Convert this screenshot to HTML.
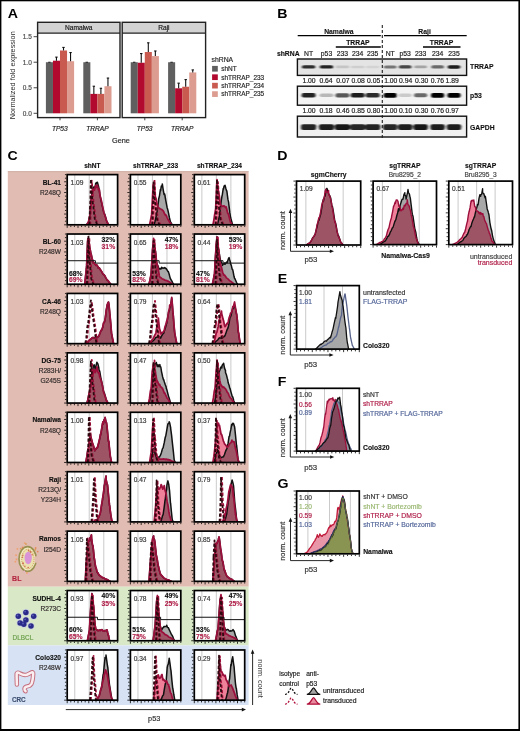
<!DOCTYPE html>
<html><head><meta charset="utf-8"><title>Figure</title>
<style>
html,body{margin:0;padding:0;background:#fff;width:520px;height:731px;overflow:hidden;}
svg{display:block;font-family:"Liberation Sans", sans-serif;will-change:transform;}
</style></head><body>
<svg width="520" height="731" viewBox="0 0 520 731" font-family='"Liberation Sans", sans-serif'><rect x="0" y="0" width="520" height="731" fill="#fff"/>
<text transform="translate(7.80,17.90) scale(1.18,1)" font-size="12" font-weight="bold" fill="#000">A</text>
<text transform="translate(14.9,75.3) rotate(-90)" font-size="7.3" text-anchor="middle" fill="#2a2a2a">Normalized fold expression</text>
<text x="31.80" y="115.64" font-size="6.5" font-weight="normal" text-anchor="end" fill="#4d4d4d" font-style="normal" stroke="#4d4d4d" stroke-width="0.18" >0.0</text>
<line x1="33.60" y1="113.30" x2="37.20" y2="113.30" stroke="#333" stroke-width="0.9" />
<text x="31.80" y="90.11" font-size="6.5" font-weight="normal" text-anchor="end" fill="#4d4d4d" font-style="normal" stroke="#4d4d4d" stroke-width="0.18" >0.5</text>
<line x1="33.60" y1="87.77" x2="37.20" y2="87.77" stroke="#333" stroke-width="0.9" />
<text x="31.80" y="64.57" font-size="6.5" font-weight="normal" text-anchor="end" fill="#4d4d4d" font-style="normal" stroke="#4d4d4d" stroke-width="0.18" >1.0</text>
<line x1="33.60" y1="62.23" x2="37.20" y2="62.23" stroke="#333" stroke-width="0.9" />
<text x="31.80" y="39.03" font-size="6.5" font-weight="normal" text-anchor="end" fill="#4d4d4d" font-style="normal" stroke="#4d4d4d" stroke-width="0.18" >1.5</text>
<line x1="33.60" y1="36.69" x2="37.20" y2="36.69" stroke="#333" stroke-width="0.9" />
<rect x="37.60" y="22.30" width="82.40" height="95.30" fill="#fff" stroke="none" stroke-width="1" />
<rect x="37.60" y="22.30" width="82.40" height="10.80" fill="#d3d3d3" stroke="none" stroke-width="1" />
<line x1="37.60" y1="33.10" x2="120.00" y2="33.10" stroke="#222" stroke-width="1.3" />
<text x="78.80" y="30.18" font-size="6.6" font-weight="normal" text-anchor="middle" fill="#1a1a1a" font-style="normal" stroke="#1a1a1a" stroke-width="0.18" >Namalwa</text>
<rect x="45.90" y="62.23" width="7.05" height="51.07" fill="#5f5f5f" stroke="none" stroke-width="1" />
<line x1="48.20" y1="62.23" x2="50.60" y2="62.23" stroke="#111" stroke-width="0.9" />
<rect x="52.95" y="60.70" width="7.05" height="52.60" fill="#b10a2e" stroke="none" stroke-width="1" />
<line x1="56.45" y1="60.70" x2="56.45" y2="57.12" stroke="#111" stroke-width="1.1" />
<line x1="55.25" y1="57.12" x2="57.65" y2="57.12" stroke="#111" stroke-width="1.1" />
<rect x="60.00" y="50.48" width="7.05" height="62.82" fill="#c85a50" stroke="none" stroke-width="1" />
<line x1="63.50" y1="50.48" x2="63.50" y2="47.42" stroke="#111" stroke-width="1.1" />
<line x1="62.30" y1="47.42" x2="64.70" y2="47.42" stroke="#111" stroke-width="1.1" />
<rect x="67.05" y="61.21" width="7.05" height="52.09" fill="#dc9c90" stroke="none" stroke-width="1" />
<line x1="70.55" y1="61.21" x2="70.55" y2="52.53" stroke="#111" stroke-width="1.1" />
<line x1="69.35" y1="52.53" x2="71.75" y2="52.53" stroke="#111" stroke-width="1.1" />
<line x1="60.00" y1="117.60" x2="60.00" y2="120.30" stroke="#333" stroke-width="0.9" />
<rect x="83.30" y="62.23" width="7.05" height="51.07" fill="#5f5f5f" stroke="none" stroke-width="1" />
<line x1="85.60" y1="62.23" x2="88.00" y2="62.23" stroke="#111" stroke-width="0.9" />
<rect x="90.35" y="93.89" width="7.05" height="19.41" fill="#b10a2e" stroke="none" stroke-width="1" />
<line x1="93.85" y1="93.89" x2="93.85" y2="86.23" stroke="#111" stroke-width="1.1" />
<line x1="92.65" y1="86.23" x2="95.05" y2="86.23" stroke="#111" stroke-width="1.1" />
<rect x="97.40" y="93.89" width="7.05" height="19.41" fill="#c85a50" stroke="none" stroke-width="1" />
<line x1="100.90" y1="93.89" x2="100.90" y2="88.28" stroke="#111" stroke-width="1.1" />
<line x1="99.70" y1="88.28" x2="102.10" y2="88.28" stroke="#111" stroke-width="1.1" />
<rect x="104.45" y="86.23" width="7.05" height="27.07" fill="#dc9c90" stroke="none" stroke-width="1" />
<line x1="107.95" y1="86.23" x2="107.95" y2="78.06" stroke="#111" stroke-width="1.1" />
<line x1="106.75" y1="78.06" x2="109.15" y2="78.06" stroke="#111" stroke-width="1.1" />
<line x1="97.40" y1="117.60" x2="97.40" y2="120.30" stroke="#333" stroke-width="0.9" />
<rect x="37.60" y="22.30" width="82.40" height="95.30" fill="none" stroke="#222" stroke-width="1.4" />
<text x="59.80" y="130.98" font-size="6.6" font-weight="normal" text-anchor="middle" fill="#222" font-style="italic" stroke="#222" stroke-width="0.18" >TP53</text>
<text x="97.40" y="130.98" font-size="6.6" font-weight="normal" text-anchor="middle" fill="#222" font-style="italic" stroke="#222" stroke-width="0.18" >TRRAP</text>
<rect x="122.20" y="22.30" width="83.40" height="95.30" fill="#fff" stroke="none" stroke-width="1" />
<rect x="122.20" y="22.30" width="83.40" height="10.80" fill="#d3d3d3" stroke="none" stroke-width="1" />
<line x1="122.20" y1="33.10" x2="205.60" y2="33.10" stroke="#222" stroke-width="1.3" />
<text x="163.90" y="30.18" font-size="6.6" font-weight="normal" text-anchor="middle" fill="#1a1a1a" font-style="normal" stroke="#1a1a1a" stroke-width="0.18" >Raji</text>
<rect x="130.70" y="62.23" width="7.05" height="51.07" fill="#5f5f5f" stroke="none" stroke-width="1" />
<line x1="133.00" y1="62.23" x2="135.40" y2="62.23" stroke="#111" stroke-width="0.9" />
<rect x="137.75" y="62.74" width="7.05" height="50.56" fill="#b10a2e" stroke="none" stroke-width="1" />
<line x1="141.25" y1="62.74" x2="141.25" y2="53.55" stroke="#111" stroke-width="1.1" />
<line x1="140.05" y1="53.55" x2="142.45" y2="53.55" stroke="#111" stroke-width="1.1" />
<rect x="144.80" y="52.02" width="7.05" height="61.28" fill="#c85a50" stroke="none" stroke-width="1" />
<line x1="148.30" y1="52.02" x2="148.30" y2="42.82" stroke="#111" stroke-width="1.1" />
<line x1="147.10" y1="42.82" x2="149.50" y2="42.82" stroke="#111" stroke-width="1.1" />
<rect x="151.85" y="56.10" width="7.05" height="57.20" fill="#dc9c90" stroke="none" stroke-width="1" />
<line x1="155.35" y1="56.10" x2="155.35" y2="50.99" stroke="#111" stroke-width="1.1" />
<line x1="154.15" y1="50.99" x2="156.55" y2="50.99" stroke="#111" stroke-width="1.1" />
<line x1="144.80" y1="117.60" x2="144.80" y2="120.30" stroke="#333" stroke-width="0.9" />
<rect x="168.10" y="62.23" width="7.05" height="51.07" fill="#5f5f5f" stroke="none" stroke-width="1" />
<line x1="170.40" y1="62.23" x2="172.80" y2="62.23" stroke="#111" stroke-width="0.9" />
<rect x="175.15" y="88.28" width="7.05" height="25.02" fill="#b10a2e" stroke="none" stroke-width="1" />
<line x1="178.65" y1="88.28" x2="178.65" y2="83.17" stroke="#111" stroke-width="1.1" />
<line x1="177.45" y1="83.17" x2="179.85" y2="83.17" stroke="#111" stroke-width="1.1" />
<rect x="182.20" y="86.74" width="7.05" height="26.56" fill="#c85a50" stroke="none" stroke-width="1" />
<line x1="185.70" y1="86.74" x2="185.70" y2="79.59" stroke="#111" stroke-width="1.1" />
<line x1="184.50" y1="79.59" x2="186.90" y2="79.59" stroke="#111" stroke-width="1.1" />
<rect x="189.25" y="72.44" width="7.05" height="40.86" fill="#dc9c90" stroke="none" stroke-width="1" />
<line x1="192.75" y1="72.44" x2="192.75" y2="69.89" stroke="#111" stroke-width="1.1" />
<line x1="191.55" y1="69.89" x2="193.95" y2="69.89" stroke="#111" stroke-width="1.1" />
<line x1="182.20" y1="117.60" x2="182.20" y2="120.30" stroke="#333" stroke-width="0.9" />
<rect x="122.20" y="22.30" width="83.40" height="95.30" fill="none" stroke="#222" stroke-width="1.4" />
<text x="144.60" y="130.98" font-size="6.6" font-weight="normal" text-anchor="middle" fill="#222" font-style="italic" stroke="#222" stroke-width="0.18" >TP53</text>
<text x="182.20" y="130.98" font-size="6.6" font-weight="normal" text-anchor="middle" fill="#222" font-style="italic" stroke="#222" stroke-width="0.18" >TRRAP</text>
<text x="120.90" y="142.93" font-size="7.3" font-weight="normal" text-anchor="middle" fill="#2a2a2a" font-style="normal" stroke="#2a2a2a" stroke-width="0.18" >Gene</text>
<text x="211.60" y="61.85" font-size="6.8" font-weight="normal" text-anchor="start" fill="#2a2a2a" font-style="normal" stroke="#2a2a2a" stroke-width="0.18" >shRNA</text>
<rect x="212.10" y="65.90" width="5.70" height="5.70" fill="#5f5f5f" stroke="none" stroke-width="1" />
<text x="221.20" y="71.07" font-size="6.45" font-weight="normal" text-anchor="start" fill="#2a2a2a" font-style="normal" stroke="#2a2a2a" stroke-width="0.18" >shNT</text>
<rect x="212.10" y="74.35" width="5.70" height="5.70" fill="#b10a2e" stroke="none" stroke-width="1" />
<text x="221.20" y="79.52" font-size="6.45" font-weight="normal" text-anchor="start" fill="#2a2a2a" font-style="normal" stroke="#2a2a2a" stroke-width="0.18" >shTRRAP_233</text>
<rect x="212.10" y="82.80" width="5.70" height="5.70" fill="#c85a50" stroke="none" stroke-width="1" />
<text x="221.20" y="87.97" font-size="6.45" font-weight="normal" text-anchor="start" fill="#2a2a2a" font-style="normal" stroke="#2a2a2a" stroke-width="0.18" >shTRRAP_234</text>
<rect x="212.10" y="91.25" width="5.70" height="5.70" fill="#dc9c90" stroke="none" stroke-width="1" />
<text x="221.20" y="96.42" font-size="6.45" font-weight="normal" text-anchor="start" fill="#2a2a2a" font-style="normal" stroke="#2a2a2a" stroke-width="0.18" >shTRRAP_235</text>
<text transform="translate(277.20,18.20) scale(1.18,1)" font-size="12" font-weight="bold" fill="#000">B</text>
<text x="338.90" y="34.35" font-size="6.8" font-weight="bold" text-anchor="middle" fill="#111" font-style="normal" stroke="#111" stroke-width="0.12" >Namalwa</text>
<text x="424.60" y="34.35" font-size="6.8" font-weight="bold" text-anchor="middle" fill="#111" font-style="normal" stroke="#111" stroke-width="0.12" >Raji</text>
<line x1="297.70" y1="35.60" x2="380.80" y2="35.60" stroke="#000" stroke-width="1.1" />
<line x1="384.00" y1="35.60" x2="466.70" y2="35.60" stroke="#000" stroke-width="1.1" />
<text x="357.90" y="44.75" font-size="6.8" font-weight="bold" text-anchor="middle" fill="#111" font-style="normal" stroke="#111" stroke-width="0.12" >TRRAP</text>
<text x="441.50" y="44.75" font-size="6.8" font-weight="bold" text-anchor="middle" fill="#111" font-style="normal" stroke="#111" stroke-width="0.12" >TRRAP</text>
<line x1="335.80" y1="47.00" x2="380.80" y2="47.00" stroke="#000" stroke-width="1.4" />
<line x1="423.00" y1="47.00" x2="460.50" y2="47.00" stroke="#000" stroke-width="1.4" />
<text x="276.90" y="55.65" font-size="6.8" font-weight="bold" text-anchor="start" fill="#111" font-style="normal" stroke="#111" stroke-width="0.12" >shRNA</text>
<text x="308.60" y="55.75" font-size="6.8" font-weight="normal" text-anchor="middle" fill="#222" font-style="normal" stroke="#222" stroke-width="0.18" >NT</text>
<text x="326.50" y="55.75" font-size="6.8" font-weight="normal" text-anchor="middle" fill="#222" font-style="normal" stroke="#222" stroke-width="0.18" >p53</text>
<text x="342.40" y="55.75" font-size="6.8" font-weight="normal" text-anchor="middle" fill="#222" font-style="normal" stroke="#222" stroke-width="0.18" >233</text>
<text x="357.70" y="55.75" font-size="6.8" font-weight="normal" text-anchor="middle" fill="#222" font-style="normal" stroke="#222" stroke-width="0.18" >234</text>
<text x="372.70" y="55.75" font-size="6.8" font-weight="normal" text-anchor="middle" fill="#222" font-style="normal" stroke="#222" stroke-width="0.18" >235</text>
<text x="390.20" y="55.75" font-size="6.8" font-weight="normal" text-anchor="middle" fill="#222" font-style="normal" stroke="#222" stroke-width="0.18" >NT</text>
<text x="405.20" y="55.75" font-size="6.8" font-weight="normal" text-anchor="middle" fill="#222" font-style="normal" stroke="#222" stroke-width="0.18" >p53</text>
<text x="420.60" y="55.75" font-size="6.8" font-weight="normal" text-anchor="middle" fill="#222" font-style="normal" stroke="#222" stroke-width="0.18" >233</text>
<text x="437.60" y="55.75" font-size="6.8" font-weight="normal" text-anchor="middle" fill="#222" font-style="normal" stroke="#222" stroke-width="0.18" >234</text>
<text x="454.00" y="55.75" font-size="6.8" font-weight="normal" text-anchor="middle" fill="#222" font-style="normal" stroke="#222" stroke-width="0.18" >235</text>
<defs><filter id="blur1" x="-20%" y="-150%" width="140%" height="400%"><feGaussianBlur stdDeviation="0.9 0.7"/></filter></defs>
<rect x="297.40" y="59.00" width="169.20" height="16.40" fill="#e4e4e4" stroke="none" stroke-width="1" />
<g filter="url(#blur1)"><rect x="301.80" y="65.22" width="13.60" height="3.36" rx="2" fill="rgb(46,46,46)"/><rect x="319.70" y="65.19" width="13.60" height="3.42" rx="2" fill="rgb(35,35,35)"/><rect x="335.60" y="65.60" width="13.60" height="2.59" rx="2" fill="rgb(197,197,197)"/><rect x="350.90" y="65.63" width="13.60" height="2.54" rx="2" fill="rgb(206,206,206)"/><rect x="365.90" y="65.64" width="13.60" height="2.52" rx="2" fill="rgb(211,211,211)"/><rect x="383.80" y="65.40" width="12.80" height="3.00" rx="2" fill="rgb(117,117,117)"/><rect x="398.80" y="65.28" width="12.80" height="3.24" rx="2" fill="rgb(70,70,70)"/><rect x="414.20" y="65.52" width="12.80" height="2.76" rx="2" fill="rgb(164,164,164)"/><rect x="431.20" y="65.37" width="12.80" height="3.06" rx="2" fill="rgb(105,105,105)"/><rect x="447.60" y="65.17" width="12.80" height="3.46" rx="2" fill="rgb(28,28,28)"/></g>
<rect x="297.40" y="59.00" width="169.20" height="16.40" fill="none" stroke="#111" stroke-width="1.4" />
<text x="470.00" y="69.35" font-size="6.8" font-weight="bold" text-anchor="start" fill="#111" font-style="normal" stroke="#111" stroke-width="0.12" >TRRAP</text>
<rect x="297.40" y="86.20" width="169.20" height="19.00" fill="#f3f3f3" stroke="none" stroke-width="1" />
<g filter="url(#blur1)"><rect x="301.60" y="93.02" width="14.00" height="4.56" rx="2" fill="rgb(35,35,35)"/><rect x="319.50" y="93.52" width="14.00" height="3.55" rx="2" fill="rgb(183,183,183)"/><rect x="335.40" y="93.20" width="14.00" height="4.19" rx="2" fill="rgb(89,89,89)"/><rect x="350.70" y="93.00" width="14.00" height="4.61" rx="2" fill="rgb(28,28,28)"/><rect x="365.70" y="93.04" width="14.00" height="4.51" rx="2" fill="rgb(42,42,42)"/><rect x="383.60" y="92.90" width="13.20" height="4.80" rx="2" fill="rgb(0,0,0)"/><rect x="398.60" y="93.59" width="13.20" height="3.42" rx="2" fill="rgb(202,202,202)"/><rect x="414.00" y="93.26" width="13.20" height="4.08" rx="2" fill="rgb(105,105,105)"/><rect x="431.00" y="92.90" width="13.20" height="4.80" rx="2" fill="rgb(0,0,0)"/><rect x="447.40" y="92.90" width="13.20" height="4.80" rx="2" fill="rgb(0,0,0)"/></g>
<rect x="297.40" y="86.20" width="169.20" height="19.00" fill="none" stroke="#111" stroke-width="1.4" />
<text x="470.00" y="97.75" font-size="6.8" font-weight="bold" text-anchor="start" fill="#111" font-style="normal" stroke="#111" stroke-width="0.12" >p53</text>
<rect x="297.40" y="116.20" width="169.20" height="20.80" fill="#f0f0f0" stroke="none" stroke-width="1" />
<g filter="url(#blur1)"><rect x="301.00" y="124.34" width="15.20" height="5.72" rx="2" fill="rgb(32,32,32)"/><rect x="318.90" y="124.32" width="15.20" height="5.76" rx="2" fill="rgb(28,28,28)"/><rect x="334.80" y="124.30" width="15.20" height="5.80" rx="2" fill="rgb(23,23,23)"/><rect x="350.10" y="124.36" width="15.20" height="5.68" rx="2" fill="rgb(37,37,37)"/><rect x="365.10" y="124.34" width="15.20" height="5.72" rx="2" fill="rgb(32,32,32)"/><rect x="383.00" y="124.36" width="14.40" height="5.68" rx="2" fill="rgb(37,37,37)"/><rect x="398.00" y="124.32" width="14.40" height="5.76" rx="2" fill="rgb(28,28,28)"/><rect x="413.40" y="124.30" width="14.40" height="5.80" rx="2" fill="rgb(23,23,23)"/><rect x="430.40" y="124.32" width="14.40" height="5.76" rx="2" fill="rgb(28,28,28)"/><rect x="446.80" y="124.32" width="14.40" height="5.76" rx="2" fill="rgb(28,28,28)"/></g>
<rect x="297.40" y="116.20" width="169.20" height="20.80" fill="none" stroke="#111" stroke-width="1.4" />
<text x="470.00" y="129.65" font-size="6.8" font-weight="bold" text-anchor="start" fill="#111" font-style="normal" stroke="#111" stroke-width="0.12" >GAPDH</text>
<text x="309.00" y="83.25" font-size="6.8" font-weight="normal" text-anchor="middle" fill="#222" font-style="normal" stroke="#222" stroke-width="0.18" >1.00</text>
<text x="326.00" y="83.25" font-size="6.8" font-weight="normal" text-anchor="middle" fill="#222" font-style="normal" stroke="#222" stroke-width="0.18" >0.64</text>
<text x="342.90" y="83.25" font-size="6.8" font-weight="normal" text-anchor="middle" fill="#222" font-style="normal" stroke="#222" stroke-width="0.18" >0.07</text>
<text x="358.10" y="83.25" font-size="6.8" font-weight="normal" text-anchor="middle" fill="#222" font-style="normal" stroke="#222" stroke-width="0.18" >0.08</text>
<text x="373.60" y="83.25" font-size="6.8" font-weight="normal" text-anchor="middle" fill="#222" font-style="normal" stroke="#222" stroke-width="0.18" >0.05</text>
<text x="390.80" y="83.25" font-size="6.8" font-weight="normal" text-anchor="middle" fill="#222" font-style="normal" stroke="#222" stroke-width="0.18" >1.00</text>
<text x="405.60" y="83.25" font-size="6.8" font-weight="normal" text-anchor="middle" fill="#222" font-style="normal" stroke="#222" stroke-width="0.18" >0.94</text>
<text x="421.70" y="83.25" font-size="6.8" font-weight="normal" text-anchor="middle" fill="#222" font-style="normal" stroke="#222" stroke-width="0.18" >0.30</text>
<text x="437.40" y="83.25" font-size="6.8" font-weight="normal" text-anchor="middle" fill="#222" font-style="normal" stroke="#222" stroke-width="0.18" >0.76</text>
<text x="452.20" y="83.25" font-size="6.8" font-weight="normal" text-anchor="middle" fill="#222" font-style="normal" stroke="#222" stroke-width="0.18" >1.89</text>
<text x="309.00" y="112.85" font-size="6.8" font-weight="normal" text-anchor="middle" fill="#222" font-style="normal" stroke="#222" stroke-width="0.18" >1.00</text>
<text x="326.00" y="112.85" font-size="6.8" font-weight="normal" text-anchor="middle" fill="#222" font-style="normal" stroke="#222" stroke-width="0.18" >0.18</text>
<text x="342.90" y="112.85" font-size="6.8" font-weight="normal" text-anchor="middle" fill="#222" font-style="normal" stroke="#222" stroke-width="0.18" >0.46</text>
<text x="358.10" y="112.85" font-size="6.8" font-weight="normal" text-anchor="middle" fill="#222" font-style="normal" stroke="#222" stroke-width="0.18" >0.85</text>
<text x="373.60" y="112.85" font-size="6.8" font-weight="normal" text-anchor="middle" fill="#222" font-style="normal" stroke="#222" stroke-width="0.18" >0.80</text>
<text x="390.80" y="112.85" font-size="6.8" font-weight="normal" text-anchor="middle" fill="#222" font-style="normal" stroke="#222" stroke-width="0.18" >1.00</text>
<text x="405.60" y="112.85" font-size="6.8" font-weight="normal" text-anchor="middle" fill="#222" font-style="normal" stroke="#222" stroke-width="0.18" >0.10</text>
<text x="421.70" y="112.85" font-size="6.8" font-weight="normal" text-anchor="middle" fill="#222" font-style="normal" stroke="#222" stroke-width="0.18" >0.30</text>
<text x="437.40" y="112.85" font-size="6.8" font-weight="normal" text-anchor="middle" fill="#222" font-style="normal" stroke="#222" stroke-width="0.18" >0.76</text>
<text x="452.20" y="112.85" font-size="6.8" font-weight="normal" text-anchor="middle" fill="#222" font-style="normal" stroke="#222" stroke-width="0.18" >0.97</text>
<line x1="382.30" y1="25.00" x2="382.30" y2="140.00" stroke="#222" stroke-width="1.1" stroke-dasharray="3,2"/>
<text transform="translate(7.60,159.70) scale(1.18,1)" font-size="12" font-weight="bold" fill="#000">C</text>
<rect x="7.80" y="171.30" width="240.80" height="415.40" fill="#e0bcb2" stroke="none" stroke-width="1" />
<line x1="7.80" y1="171.60" x2="248.60" y2="171.60" stroke="#c9a89e" stroke-width="0.8" />
<rect x="7.80" y="586.70" width="240.80" height="58.70" fill="#d9e9c7" stroke="none" stroke-width="1" />
<rect x="7.80" y="645.40" width="240.80" height="59.60" fill="#d7e3f4" stroke="none" stroke-width="1" />
<text x="92.40" y="167.98" font-size="6.6" font-weight="bold" text-anchor="middle" fill="#111" font-style="normal" stroke="#111" stroke-width="0.12" >shNT</text>
<text x="155.60" y="167.98" font-size="6.6" font-weight="bold" text-anchor="middle" fill="#111" font-style="normal" stroke="#111" stroke-width="0.12" >shTRRAP_233</text>
<text x="219.50" y="167.98" font-size="6.6" font-weight="bold" text-anchor="middle" fill="#111" font-style="normal" stroke="#111" stroke-width="0.12" >shTRRAP_234</text>
<text x="61.00" y="184.78" font-size="6.6" font-weight="bold" text-anchor="end" fill="#111" font-style="normal" stroke="#111" stroke-width="0.12" >BL-41</text>
<text x="61.00" y="194.98" font-size="6.6" font-weight="normal" text-anchor="end" fill="#332c2c" font-style="normal" stroke="#332c2c" stroke-width="0.18" >R248Q</text>
<rect x="67.20" y="174.60" width="50.40" height="50.20" fill="#fff" stroke="none" stroke-width="1" />
<line x1="74.76" y1="174.60" x2="74.76" y2="224.80" stroke="#c4c4c4" stroke-width="0.9" />
<line x1="89.22" y1="174.60" x2="89.22" y2="224.80" stroke="#c4c4c4" stroke-width="0.9" />
<line x1="103.79" y1="174.60" x2="103.79" y2="224.80" stroke="#c4c4c4" stroke-width="0.9" />
<g style="isolation:isolate">
<path d="M86.4,224.8 86.4,224.8 87.3,223.8 88.2,222.6 88.4,222.4 89.1,218.9 89.9,215.4 90.0,214.2 91.0,200.6 91.4,197.3 91.9,193.8 92.8,189.4 92.9,188.0 93.7,187.1 94.4,188.7 94.7,187.4 95.4,185.6 95.6,183.8 96.5,182.5 96.9,183.8 97.4,182.3 98.4,186.0 98.4,185.7 99.3,190.1 100.0,195.9 100.2,195.9 101.1,200.8 102.0,204.4 102.1,205.3 103.0,208.9 103.9,212.8 104.5,213.7 104.8,214.4 105.8,217.8 106.7,221.1 107.0,221.6 107.6,222.9 108.5,224.8 108.5,224.8 Z" fill="#a8a8a8" stroke="none" stroke-width="1.0" stroke-linejoin="round"/>
<path d="M86.4,224.8 86.4,224.8 87.3,223.7 88.2,222.3 88.4,222.3 89.1,218.7 89.9,215.4 90.0,214.2 91.0,202.5 91.4,198.7 91.9,196.0 92.8,192.8 92.9,191.1 93.7,189.1 94.4,190.1 94.7,189.4 95.6,185.5 95.9,187.6 96.5,187.0 97.4,185.2 98.4,189.6 99.0,189.8 99.3,189.4 100.2,196.7 100.5,197.4 101.1,199.5 102.0,203.4 102.1,204.5 103.0,208.4 103.9,212.8 104.5,214.4 104.8,214.9 105.8,218.3 106.7,221.3 107.0,221.9 107.6,223.0 108.5,224.8 108.5,224.8 Z" fill="#ee8099" stroke="none" stroke-width="1.0" stroke-linejoin="round" style="mix-blend-mode:multiply"/>
</g>
<path d="M86.4,224.8 86.4,224.8 87.3,223.8 88.2,222.6 88.4,222.4 89.1,218.9 89.9,215.4 90.0,214.2 91.0,200.6 91.4,197.3 91.9,193.8 92.8,189.4 92.9,188.0 93.7,187.1 94.4,188.7 94.7,187.4 95.4,185.6 95.6,183.8 96.5,182.5 96.9,183.8 97.4,182.3 98.4,186.0 98.4,185.7 99.3,190.1 100.0,195.9 100.2,195.9 101.1,200.8 102.0,204.4 102.1,205.3 103.0,208.9 103.9,212.8 104.5,213.7 104.8,214.4 105.8,217.8 106.7,221.1 107.0,221.6 107.6,222.9 108.5,224.8 108.5,224.8" fill="none" stroke="#111" stroke-width="1.5" stroke-linejoin="round"/>
<path d="M86.4,224.8 86.4,224.8 87.3,223.7 88.2,222.3 88.4,222.3 89.1,218.7 89.9,215.4 90.0,214.2 91.0,202.5 91.4,198.7 91.9,196.0 92.8,192.8 92.9,191.1 93.7,189.1 94.4,190.1 94.7,189.4 95.6,185.5 95.9,187.6 96.5,187.0 97.4,185.2 98.4,189.6 99.0,189.8 99.3,189.4 100.2,196.7 100.5,197.4 101.1,199.5 102.0,203.4 102.1,204.5 103.0,208.4 103.9,212.8 104.5,214.4 104.8,214.9 105.8,218.3 106.7,221.3 107.0,221.9 107.6,223.0 108.5,224.8 108.5,224.8" fill="none" stroke="#9c0f3c" stroke-width="1.75" stroke-linejoin="round"/>
<path d="M90.3,224.8 90.3,224.8 90.9,207.8 91.3,200.6 91.6,184.9 91.8,180.7 92.3,187.8 93.0,197.3 93.3,199.6 93.6,202.8 94.3,207.6 95.0,214.2 95.7,219.0 95.8,219.7 96.3,220.7 97.0,222.1 97.7,223.7 98.3,224.8 98.3,224.8" fill="none" stroke="#a0103a" stroke-width="1.8" stroke-linejoin="round" stroke-dasharray="3.2,2.0"/>
<path d="M89.4,224.8 89.4,224.8 90.0,207.7 90.4,199.4 90.7,184.9 90.9,179.2 91.4,187.2 92.1,197.4 92.4,201.3 92.7,202.4 93.4,206.8 94.1,213.6 94.8,218.9 94.9,220.1 95.4,220.8 96.1,222.0 96.8,223.7 97.4,224.8 97.4,224.8" fill="none" stroke="#300810" stroke-width="1.8" stroke-linejoin="round" stroke-dasharray="3.2,2.0"/>
<rect x="67.20" y="174.60" width="50.40" height="50.20" fill="none" stroke="#000" stroke-width="1.7" />
<path d="M66.35,224.80 h-2.20 M66.35,221.21 h-1.40 M66.35,217.63 h-1.40 M66.35,214.04 h-2.20 M66.35,210.46 h-1.40 M66.35,206.87 h-1.40 M66.35,203.29 h-2.20 M66.35,199.70 h-1.40 M66.35,196.11 h-1.40 M66.35,192.53 h-2.20 M66.35,188.94 h-1.40 M66.35,185.36 h-1.40 M66.35,181.77 h-2.20 M66.35,178.19 h-1.40 M66.35,174.60 h-1.40 M67.20,225.65 v2.20 M70.80,225.65 v1.40 M74.40,225.65 v1.40 M78.00,225.65 v2.20 M81.60,225.65 v1.40 M85.20,225.65 v1.40 M88.80,225.65 v2.20 M92.40,225.65 v1.40 M96.00,225.65 v1.40 M99.60,225.65 v2.20 M103.20,225.65 v1.40 M106.80,225.65 v1.40 M110.40,225.65 v2.20 M114.00,225.65 v1.40 M117.60,225.65 v1.40" stroke="#000" stroke-width="0.8" fill="none"/>
<text x="70.50" y="185.18" font-size="6.6" font-weight="normal" text-anchor="start" fill="#3a3a3a" font-style="normal" stroke="#3a3a3a" stroke-width="0.18" >1.09</text>
<rect x="130.40" y="174.60" width="50.40" height="50.20" fill="#fff" stroke="none" stroke-width="1" />
<line x1="137.96" y1="174.60" x2="137.96" y2="224.80" stroke="#c4c4c4" stroke-width="0.9" />
<line x1="152.42" y1="174.60" x2="152.42" y2="224.80" stroke="#c4c4c4" stroke-width="0.9" />
<line x1="166.99" y1="174.60" x2="166.99" y2="224.80" stroke="#c4c4c4" stroke-width="0.9" />
<g style="isolation:isolate">
<path d="M154.1,224.8 154.1,224.8 155.0,221.5 155.9,217.5 156.6,214.5 156.8,213.8 157.7,207.1 158.6,200.5 158.6,199.2 159.5,195.6 160.4,189.4 160.6,190.7 161.3,186.1 162.2,186.6 162.3,183.9 163.2,189.6 164.1,194.6 164.7,194.0 165.0,196.0 165.9,201.1 166.8,205.8 167.2,208.0 167.7,209.3 168.6,213.4 169.5,218.0 170.4,221.6 170.7,222.2 171.3,223.1 172.2,224.8 172.2,224.8 Z" fill="#a8a8a8" stroke="none" stroke-width="1.0" stroke-linejoin="round"/>
<path d="M149.6,224.8 149.6,224.8 150.5,220.4 151.4,215.6 151.6,215.1 152.3,201.2 153.1,186.6 153.2,184.3 154.1,183.6 154.2,183.2 155.1,194.5 155.6,198.4 156.0,198.3 156.9,202.9 157.9,206.3 158.1,207.4 158.8,207.8 159.7,208.6 160.6,209.0 161.6,209.3 162.5,210.1 163.2,210.8 163.4,211.0 164.3,213.2 165.3,215.0 165.7,215.3 166.2,215.2 167.1,217.5 168.0,219.5 169.0,221.1 169.7,222.3 169.9,222.5 170.8,223.6 171.7,224.8 171.7,224.8 Z" fill="#ee8099" stroke="none" stroke-width="1.0" stroke-linejoin="round" style="mix-blend-mode:multiply"/>
</g>
<path d="M154.1,224.8 154.1,224.8 155.0,221.5 155.9,217.5 156.6,214.5 156.8,213.8 157.7,207.1 158.6,200.5 158.6,199.2 159.5,195.6 160.4,189.4 160.6,190.7 161.3,186.1 162.2,186.6 162.3,183.9 163.2,189.6 164.1,194.6 164.7,194.0 165.0,196.0 165.9,201.1 166.8,205.8 167.2,208.0 167.7,209.3 168.6,213.4 169.5,218.0 170.4,221.6 170.7,222.2 171.3,223.1 172.2,224.8 172.2,224.8" fill="none" stroke="#111" stroke-width="1.5" stroke-linejoin="round"/>
<path d="M149.6,224.8 149.6,224.8 150.5,220.4 151.4,215.6 151.6,215.1 152.3,201.2 153.1,186.6 153.2,184.3 154.1,183.6 154.2,183.2 155.1,194.5 155.6,198.4 156.0,198.3 156.9,202.9 157.9,206.3 158.1,207.4 158.8,207.8 159.7,208.6 160.6,209.0 161.6,209.3 162.5,210.1 163.2,210.8 163.4,211.0 164.3,213.2 165.3,215.0 165.7,215.3 166.2,215.2 167.1,217.5 168.0,219.5 169.0,221.1 169.7,222.3 169.9,222.5 170.8,223.6 171.7,224.8 171.7,224.8" fill="none" stroke="#9c0f3c" stroke-width="1.75" stroke-linejoin="round"/>
<path d="M153.0,224.8 153.0,224.8 153.6,209.1 154.0,200.2 154.2,191.4 154.5,179.8 154.9,187.1 155.5,201.3 156.1,203.9 156.8,210.5 157.4,215.6 158.0,220.1 158.6,220.9 159.3,222.5 159.9,223.7 160.5,224.8 160.5,224.8" fill="none" stroke="#a0103a" stroke-width="1.8" stroke-linejoin="round" stroke-dasharray="3.2,2.0"/>
<path d="M152.1,224.8 152.1,224.8 152.7,208.2 153.1,200.9 153.3,190.1 153.6,182.3 154.0,186.6 154.6,201.0 155.2,203.8 155.9,210.5 156.5,216.2 157.1,219.9 157.7,220.7 158.4,222.5 159.0,223.9 159.6,224.8 159.6,224.8" fill="none" stroke="#300810" stroke-width="1.8" stroke-linejoin="round" stroke-dasharray="3.2,2.0"/>
<rect x="130.40" y="174.60" width="50.40" height="50.20" fill="none" stroke="#000" stroke-width="1.7" />
<path d="M129.55,224.80 h-2.20 M129.55,221.21 h-1.40 M129.55,217.63 h-1.40 M129.55,214.04 h-2.20 M129.55,210.46 h-1.40 M129.55,206.87 h-1.40 M129.55,203.29 h-2.20 M129.55,199.70 h-1.40 M129.55,196.11 h-1.40 M129.55,192.53 h-2.20 M129.55,188.94 h-1.40 M129.55,185.36 h-1.40 M129.55,181.77 h-2.20 M129.55,178.19 h-1.40 M129.55,174.60 h-1.40 M130.40,225.65 v2.20 M134.00,225.65 v1.40 M137.60,225.65 v1.40 M141.20,225.65 v2.20 M144.80,225.65 v1.40 M148.40,225.65 v1.40 M152.00,225.65 v2.20 M155.60,225.65 v1.40 M159.20,225.65 v1.40 M162.80,225.65 v2.20 M166.40,225.65 v1.40 M170.00,225.65 v1.40 M173.60,225.65 v2.20 M177.20,225.65 v1.40 M180.80,225.65 v1.40" stroke="#000" stroke-width="0.8" fill="none"/>
<text x="133.70" y="185.18" font-size="6.6" font-weight="normal" text-anchor="start" fill="#3a3a3a" font-style="normal" stroke="#3a3a3a" stroke-width="0.18" >0.55</text>
<rect x="194.30" y="174.60" width="50.40" height="50.20" fill="#fff" stroke="none" stroke-width="1" />
<line x1="201.86" y1="174.60" x2="201.86" y2="224.80" stroke="#c4c4c4" stroke-width="0.9" />
<line x1="216.32" y1="174.60" x2="216.32" y2="224.80" stroke="#c4c4c4" stroke-width="0.9" />
<line x1="230.89" y1="174.60" x2="230.89" y2="224.80" stroke="#c4c4c4" stroke-width="0.9" />
<g style="isolation:isolate">
<path d="M217.5,224.8 217.5,224.8 218.4,220.5 219.4,215.8 219.5,215.2 220.3,209.1 221.3,200.4 222.0,195.8 222.2,195.5 223.2,188.6 223.5,188.9 224.1,186.0 225.0,185.3 226.0,188.9 226.6,190.7 226.9,191.3 227.9,199.2 228.6,202.2 228.8,204.1 229.8,212.4 230.6,217.6 230.7,217.9 231.7,221.4 232.6,224.8 232.6,224.8 Z" fill="#a8a8a8" stroke="none" stroke-width="1.0" stroke-linejoin="round"/>
<path d="M212.9,224.8 212.9,224.8 213.9,219.8 214.8,213.7 215.5,210.3 215.7,207.9 216.6,187.9 217.0,179.6 217.5,185.0 218.4,190.8 218.5,191.9 219.3,195.8 220.2,203.5 220.5,205.1 221.2,205.2 222.1,206.1 223.0,206.3 223.5,206.0 223.9,205.8 224.8,206.4 225.7,207.7 226.1,206.9 226.6,208.5 227.5,212.5 228.5,214.4 228.6,214.7 229.4,217.9 230.3,221.5 230.6,222.2 231.2,223.1 232.1,224.8 232.1,224.8 Z" fill="#ee8099" stroke="none" stroke-width="1.0" stroke-linejoin="round" style="mix-blend-mode:multiply"/>
</g>
<path d="M217.5,224.8 217.5,224.8 218.4,220.5 219.4,215.8 219.5,215.2 220.3,209.1 221.3,200.4 222.0,195.8 222.2,195.5 223.2,188.6 223.5,188.9 224.1,186.0 225.0,185.3 226.0,188.9 226.6,190.7 226.9,191.3 227.9,199.2 228.6,202.2 228.8,204.1 229.8,212.4 230.6,217.6 230.7,217.9 231.7,221.4 232.6,224.8 232.6,224.8" fill="none" stroke="#111" stroke-width="1.5" stroke-linejoin="round"/>
<path d="M212.9,224.8 212.9,224.8 213.9,219.8 214.8,213.7 215.5,210.3 215.7,207.9 216.6,187.9 217.0,179.6 217.5,185.0 218.4,190.8 218.5,191.9 219.3,195.8 220.2,203.5 220.5,205.1 221.2,205.2 222.1,206.1 223.0,206.3 223.5,206.0 223.9,205.8 224.8,206.4 225.7,207.7 226.1,206.9 226.6,208.5 227.5,212.5 228.5,214.4 228.6,214.7 229.4,217.9 230.3,221.5 230.6,222.2 231.2,223.1 232.1,224.8 232.1,224.8" fill="none" stroke="#9c0f3c" stroke-width="1.75" stroke-linejoin="round"/>
<path d="M216.4,224.8 216.4,224.8 217.0,208.3 217.4,200.9 217.6,191.5 217.9,182.0 218.3,187.0 218.9,199.9 219.5,204.3 220.1,209.6 220.8,216.0 221.4,219.9 222.0,220.8 222.7,222.5 223.3,223.9 223.9,224.8 223.9,224.8" fill="none" stroke="#a0103a" stroke-width="1.8" stroke-linejoin="round" stroke-dasharray="3.2,2.0"/>
<path d="M215.5,224.8 215.5,224.8 216.1,208.1 216.5,200.2 216.7,190.4 217.0,179.4 217.4,186.9 218.0,201.1 218.6,203.7 219.2,210.1 219.9,216.4 220.5,219.7 221.1,220.9 221.8,222.3 222.4,223.9 223.0,224.8 223.0,224.8" fill="none" stroke="#300810" stroke-width="1.8" stroke-linejoin="round" stroke-dasharray="3.2,2.0"/>
<rect x="194.30" y="174.60" width="50.40" height="50.20" fill="none" stroke="#000" stroke-width="1.7" />
<path d="M193.45,224.80 h-2.20 M193.45,221.21 h-1.40 M193.45,217.63 h-1.40 M193.45,214.04 h-2.20 M193.45,210.46 h-1.40 M193.45,206.87 h-1.40 M193.45,203.29 h-2.20 M193.45,199.70 h-1.40 M193.45,196.11 h-1.40 M193.45,192.53 h-2.20 M193.45,188.94 h-1.40 M193.45,185.36 h-1.40 M193.45,181.77 h-2.20 M193.45,178.19 h-1.40 M193.45,174.60 h-1.40 M194.30,225.65 v2.20 M197.90,225.65 v1.40 M201.50,225.65 v1.40 M205.10,225.65 v2.20 M208.70,225.65 v1.40 M212.30,225.65 v1.40 M215.90,225.65 v2.20 M219.50,225.65 v1.40 M223.10,225.65 v1.40 M226.70,225.65 v2.20 M230.30,225.65 v1.40 M233.90,225.65 v1.40 M237.50,225.65 v2.20 M241.10,225.65 v1.40 M244.70,225.65 v1.40" stroke="#000" stroke-width="0.8" fill="none"/>
<text x="197.60" y="185.18" font-size="6.6" font-weight="normal" text-anchor="start" fill="#3a3a3a" font-style="normal" stroke="#3a3a3a" stroke-width="0.18" >0.61</text>
<text x="61.00" y="244.20" font-size="6.6" font-weight="bold" text-anchor="end" fill="#111" font-style="normal" stroke="#111" stroke-width="0.12" >BL-60</text>
<text x="61.00" y="254.40" font-size="6.6" font-weight="normal" text-anchor="end" fill="#332c2c" font-style="normal" stroke="#332c2c" stroke-width="0.18" >R248W</text>
<rect x="67.20" y="234.02" width="50.40" height="50.20" fill="#fff" stroke="none" stroke-width="1" />
<line x1="74.76" y1="234.02" x2="74.76" y2="284.22" stroke="#c4c4c4" stroke-width="0.9" />
<line x1="89.22" y1="234.02" x2="89.22" y2="284.22" stroke="#c4c4c4" stroke-width="0.9" />
<line x1="103.79" y1="234.02" x2="103.79" y2="284.22" stroke="#c4c4c4" stroke-width="0.9" />
<g style="isolation:isolate">
<path d="M84.8,284.2 84.8,284.2 85.7,274.8 86.4,268.7 86.6,265.9 87.6,241.9 87.9,238.7 88.5,241.9 88.9,243.5 89.4,246.0 90.3,250.2 90.9,253.8 91.2,254.1 92.1,258.6 93.0,261.3 93.4,263.1 93.9,262.6 94.8,264.2 95.7,264.6 95.9,265.3 96.6,264.8 97.5,266.1 98.4,267.4 98.4,268.2 99.3,267.8 100.2,269.5 100.5,269.9 101.1,270.6 102.0,272.1 102.9,274.0 103.5,274.5 103.8,274.6 104.7,275.5 105.6,277.4 106.5,278.9 107.4,280.3 107.5,280.2 108.3,280.9 109.2,282.4 110.1,283.5 111.0,284.2 111.0,284.2 Z" fill="#a8a8a8" stroke="none" stroke-width="1.0" stroke-linejoin="round"/>
<path d="M84.8,284.2 84.8,284.2 85.7,274.8 86.4,268.7 86.6,265.9 87.6,241.9 87.9,238.7 88.5,241.9 88.9,243.5 89.4,246.0 90.3,250.2 90.9,253.8 91.2,254.1 92.1,258.6 93.0,261.3 93.4,263.1 93.9,262.6 94.8,264.2 95.7,264.6 95.9,265.3 96.6,264.8 97.5,266.1 98.4,267.4 98.4,268.2 99.3,267.8 100.2,269.5 100.5,269.9 101.1,270.6 102.0,272.1 102.9,274.0 103.5,274.5 103.8,274.6 104.7,275.5 105.6,277.4 106.5,278.9 107.4,280.3 107.5,280.2 108.3,280.9 109.2,282.4 110.1,283.5 111.0,284.2 111.0,284.2 Z" fill="#ee8099" stroke="none" stroke-width="1.0" stroke-linejoin="round" style="mix-blend-mode:multiply"/>
</g>
<path d="M84.8,284.2 84.8,284.2 85.7,274.8 86.4,268.7 86.6,265.9 87.6,241.9 87.9,238.7 88.5,241.9 88.9,243.5 89.4,246.0 90.3,250.2 90.9,253.8 91.2,254.1 92.1,258.6 93.0,261.3 93.4,263.1 93.9,262.6 94.8,264.2 95.7,264.6 95.9,265.3 96.6,264.8 97.5,266.1 98.4,267.4 98.4,268.2 99.3,267.8 100.2,269.5 100.5,269.9 101.1,270.6 102.0,272.1 102.9,274.0 103.5,274.5 103.8,274.6 104.7,275.5 105.6,277.4 106.5,278.9 107.4,280.3 107.5,280.2 108.3,280.9 109.2,282.4 110.1,283.5 111.0,284.2 111.0,284.2" fill="none" stroke="#111" stroke-width="1.5" stroke-linejoin="round"/>
<path d="M84.8,284.2 84.8,284.2 85.7,274.8 86.4,268.7 86.6,265.9 87.6,241.9 87.9,238.7 88.5,241.9 88.9,243.5 89.4,246.0 90.3,250.2 90.9,253.8 91.2,254.1 92.1,258.6 93.0,261.3 93.4,263.1 93.9,262.6 94.8,264.2 95.7,264.6 95.9,265.3 96.6,264.8 97.5,266.1 98.4,267.4 98.4,268.2 99.3,267.8 100.2,269.5 100.5,269.9 101.1,270.6 102.0,272.1 102.9,274.0 103.5,274.5 103.8,274.6 104.7,275.5 105.6,277.4 106.5,278.9 107.4,280.3 107.5,280.2 108.3,280.9 109.2,282.4 110.1,283.5 111.0,284.2 111.0,284.2" fill="none" stroke="#9c0f3c" stroke-width="1.75" stroke-linejoin="round"/>
<path d="M87.8,284.2 87.8,284.2 88.3,270.7 88.8,260.0 88.8,256.1 89.3,237.9 89.4,240.0 89.9,254.5 90.3,260.1 90.5,261.0 91.0,265.5 91.6,273.2 92.1,278.6 92.3,279.5 92.7,280.1 93.2,281.4 93.8,283.1 94.3,284.2 94.3,284.2" fill="none" stroke="#a0103a" stroke-width="1.8" stroke-linejoin="round" stroke-dasharray="3.2,2.0"/>
<path d="M86.9,284.2 86.9,284.2 87.4,270.7 87.9,259.9 87.9,258.3 88.4,236.6 88.5,240.1 89.0,252.5 89.4,260.2 89.6,261.1 90.1,265.5 90.7,272.8 91.2,278.5 91.4,279.1 91.8,280.1 92.3,281.4 92.9,283.0 93.4,284.2 93.4,284.2" fill="none" stroke="#300810" stroke-width="1.8" stroke-linejoin="round" stroke-dasharray="3.2,2.0"/>
<path d="M67.20,260.72 H95.42 V263.12 H117.60" stroke="#111" stroke-width="1.0" fill="none"/>
<rect x="67.20" y="234.02" width="50.40" height="50.20" fill="none" stroke="#000" stroke-width="1.7" />
<path d="M66.35,284.22 h-2.20 M66.35,280.63 h-1.40 M66.35,277.05 h-1.40 M66.35,273.46 h-2.20 M66.35,269.88 h-1.40 M66.35,266.29 h-1.40 M66.35,262.71 h-2.20 M66.35,259.12 h-1.40 M66.35,255.53 h-1.40 M66.35,251.95 h-2.20 M66.35,248.36 h-1.40 M66.35,244.78 h-1.40 M66.35,241.19 h-2.20 M66.35,237.61 h-1.40 M66.35,234.02 h-1.40 M67.20,285.07 v2.20 M70.80,285.07 v1.40 M74.40,285.07 v1.40 M78.00,285.07 v2.20 M81.60,285.07 v1.40 M85.20,285.07 v1.40 M88.80,285.07 v2.20 M92.40,285.07 v1.40 M96.00,285.07 v1.40 M99.60,285.07 v2.20 M103.20,285.07 v1.40 M106.80,285.07 v1.40 M110.40,285.07 v2.20 M114.00,285.07 v1.40 M117.60,285.07 v1.40" stroke="#000" stroke-width="0.8" fill="none"/>
<text x="70.50" y="244.60" font-size="6.6" font-weight="normal" text-anchor="start" fill="#3a3a3a" font-style="normal" stroke="#3a3a3a" stroke-width="0.18" >1.03</text>
<text x="115.20" y="241.67" font-size="6.8" font-weight="bold" text-anchor="end" fill="#111" font-style="normal" stroke="#111" stroke-width="0.12" >32%</text>
<text x="115.20" y="249.37" font-size="6.8" font-weight="bold" text-anchor="end" fill="#b0204a" font-style="normal" stroke="#b0204a" stroke-width="0.12" >31%</text>
<text x="69.00" y="275.57" font-size="6.8" font-weight="bold" text-anchor="start" fill="#111" font-style="normal" stroke="#111" stroke-width="0.12" >68%</text>
<text x="69.00" y="282.37" font-size="6.8" font-weight="bold" text-anchor="start" fill="#b0204a" font-style="normal" stroke="#b0204a" stroke-width="0.12" >69%</text>
<rect x="130.40" y="234.02" width="50.40" height="50.20" fill="#fff" stroke="none" stroke-width="1" />
<line x1="137.96" y1="234.02" x2="137.96" y2="284.22" stroke="#c4c4c4" stroke-width="0.9" />
<line x1="152.42" y1="234.02" x2="152.42" y2="284.22" stroke="#c4c4c4" stroke-width="0.9" />
<line x1="166.99" y1="234.02" x2="166.99" y2="284.22" stroke="#c4c4c4" stroke-width="0.9" />
<g style="isolation:isolate">
<path d="M149.0,284.2 149.0,284.2 150.0,279.8 150.9,275.4 151.1,274.3 151.8,261.7 152.6,249.2 152.7,249.1 153.6,241.7 153.6,241.0 154.5,246.0 155.1,251.0 155.5,251.2 156.4,260.6 157.1,264.5 157.3,265.0 158.2,266.5 159.1,269.0 159.6,268.8 160.0,268.7 160.9,268.9 161.6,267.3 161.9,268.4 162.8,267.9 163.7,268.2 164.6,267.6 165.5,268.5 165.7,268.2 166.4,268.8 167.3,270.3 168.2,272.0 168.3,271.5 169.2,274.3 170.1,277.9 170.7,279.3 171.0,279.7 171.9,281.2 172.8,282.8 173.7,284.2 173.7,284.2 Z" fill="#a8a8a8" stroke="none" stroke-width="1.0" stroke-linejoin="round"/>
<path d="M149.0,284.2 149.0,284.2 150.0,280.0 150.9,274.9 151.1,274.8 151.8,262.6 152.6,248.4 152.8,247.5 153.6,238.3 153.7,241.5 154.6,246.5 155.1,249.3 155.6,252.8 156.5,261.5 157.1,265.0 157.4,264.9 158.4,270.1 159.3,275.7 159.6,276.6 160.2,277.4 161.1,277.8 162.1,278.8 163.0,279.2 163.2,279.2 163.9,279.5 164.9,280.2 165.8,280.3 166.7,280.6 167.7,281.2 168.2,281.1 168.6,281.4 169.5,282.0 170.4,282.5 171.4,283.2 172.3,284.0 173.2,284.2 173.2,284.2 173.2,284.2 Z" fill="#ee8099" stroke="none" stroke-width="1.0" stroke-linejoin="round" style="mix-blend-mode:multiply"/>
</g>
<path d="M149.0,284.2 149.0,284.2 150.0,279.8 150.9,275.4 151.1,274.3 151.8,261.7 152.6,249.2 152.7,249.1 153.6,241.7 153.6,241.0 154.5,246.0 155.1,251.0 155.5,251.2 156.4,260.6 157.1,264.5 157.3,265.0 158.2,266.5 159.1,269.0 159.6,268.8 160.0,268.7 160.9,268.9 161.6,267.3 161.9,268.4 162.8,267.9 163.7,268.2 164.6,267.6 165.5,268.5 165.7,268.2 166.4,268.8 167.3,270.3 168.2,272.0 168.3,271.5 169.2,274.3 170.1,277.9 170.7,279.3 171.0,279.7 171.9,281.2 172.8,282.8 173.7,284.2 173.7,284.2" fill="none" stroke="#111" stroke-width="1.5" stroke-linejoin="round"/>
<path d="M149.0,284.2 149.0,284.2 150.0,280.0 150.9,274.9 151.1,274.8 151.8,262.6 152.6,248.4 152.8,247.5 153.6,238.3 153.7,241.5 154.6,246.5 155.1,249.3 155.6,252.8 156.5,261.5 157.1,265.0 157.4,264.9 158.4,270.1 159.3,275.7 159.6,276.6 160.2,277.4 161.1,277.8 162.1,278.8 163.0,279.2 163.2,279.2 163.9,279.5 164.9,280.2 165.8,280.3 166.7,280.6 167.7,281.2 168.2,281.1 168.6,281.4 169.5,282.0 170.4,282.5 171.4,283.2 172.3,284.0 173.2,284.2 173.2,284.2 173.2,284.2" fill="none" stroke="#9c0f3c" stroke-width="1.75" stroke-linejoin="round"/>
<path d="M153.0,284.2 153.0,284.2 153.5,270.9 154.0,258.5 154.1,257.7 154.5,240.2 154.6,240.0 155.2,253.0 155.5,258.8 155.7,260.7 156.2,266.7 156.8,272.9 157.3,278.4 157.5,279.5 157.9,280.1 158.4,281.4 159.0,283.0 159.5,284.2 159.5,284.2" fill="none" stroke="#a0103a" stroke-width="1.8" stroke-linejoin="round" stroke-dasharray="3.2,2.0"/>
<path d="M152.1,284.2 152.1,284.2 152.6,271.0 153.1,260.5 153.2,256.8 153.6,241.0 153.7,241.0 154.3,253.1 154.6,259.4 154.8,260.3 155.3,266.3 155.9,272.9 156.4,278.5 156.6,279.3 157.0,280.0 157.5,281.4 158.1,283.2 158.6,284.2 158.6,284.2" fill="none" stroke="#300810" stroke-width="1.8" stroke-linejoin="round" stroke-dasharray="3.2,2.0"/>
<path d="M130.40,260.72 H159.13 V263.12 H180.80" stroke="#111" stroke-width="1.0" fill="none"/>
<rect x="130.40" y="234.02" width="50.40" height="50.20" fill="none" stroke="#000" stroke-width="1.7" />
<path d="M129.55,284.22 h-2.20 M129.55,280.63 h-1.40 M129.55,277.05 h-1.40 M129.55,273.46 h-2.20 M129.55,269.88 h-1.40 M129.55,266.29 h-1.40 M129.55,262.71 h-2.20 M129.55,259.12 h-1.40 M129.55,255.53 h-1.40 M129.55,251.95 h-2.20 M129.55,248.36 h-1.40 M129.55,244.78 h-1.40 M129.55,241.19 h-2.20 M129.55,237.61 h-1.40 M129.55,234.02 h-1.40 M130.40,285.07 v2.20 M134.00,285.07 v1.40 M137.60,285.07 v1.40 M141.20,285.07 v2.20 M144.80,285.07 v1.40 M148.40,285.07 v1.40 M152.00,285.07 v2.20 M155.60,285.07 v1.40 M159.20,285.07 v1.40 M162.80,285.07 v2.20 M166.40,285.07 v1.40 M170.00,285.07 v1.40 M173.60,285.07 v2.20 M177.20,285.07 v1.40 M180.80,285.07 v1.40" stroke="#000" stroke-width="0.8" fill="none"/>
<text x="133.70" y="244.60" font-size="6.6" font-weight="normal" text-anchor="start" fill="#3a3a3a" font-style="normal" stroke="#3a3a3a" stroke-width="0.18" >0.65</text>
<text x="178.40" y="241.67" font-size="6.8" font-weight="bold" text-anchor="end" fill="#111" font-style="normal" stroke="#111" stroke-width="0.12" >47%</text>
<text x="178.40" y="249.37" font-size="6.8" font-weight="bold" text-anchor="end" fill="#b0204a" font-style="normal" stroke="#b0204a" stroke-width="0.12" >18%</text>
<text x="132.20" y="275.57" font-size="6.8" font-weight="bold" text-anchor="start" fill="#111" font-style="normal" stroke="#111" stroke-width="0.12" >53%</text>
<text x="132.20" y="282.37" font-size="6.8" font-weight="bold" text-anchor="start" fill="#b0204a" font-style="normal" stroke="#b0204a" stroke-width="0.12" >82%</text>
<rect x="194.30" y="234.02" width="50.40" height="50.20" fill="#fff" stroke="none" stroke-width="1" />
<line x1="201.86" y1="234.02" x2="201.86" y2="284.22" stroke="#c4c4c4" stroke-width="0.9" />
<line x1="216.32" y1="234.02" x2="216.32" y2="284.22" stroke="#c4c4c4" stroke-width="0.9" />
<line x1="230.89" y1="234.02" x2="230.89" y2="284.22" stroke="#c4c4c4" stroke-width="0.9" />
<g style="isolation:isolate">
<path d="M212.4,284.2 212.4,284.2 213.3,279.8 214.2,274.8 214.5,274.3 215.1,261.7 216.0,248.9 216.0,248.3 216.9,236.7 217.0,236.7 217.8,243.9 218.5,250.4 218.7,249.3 219.6,255.3 220.5,260.3 220.5,260.5 221.4,262.3 222.3,264.1 222.5,265.5 223.2,264.0 224.1,264.1 224.5,263.0 225.0,264.3 225.9,262.9 226.8,262.0 227.1,262.7 227.7,260.9 228.6,258.3 229.1,257.6 229.5,259.2 230.4,262.3 230.6,263.9 231.3,265.3 232.2,269.3 232.6,269.5 233.1,271.4 234.0,276.3 234.6,278.6 234.9,278.5 235.8,280.7 236.7,282.8 237.6,284.2 237.6,284.2 Z" fill="#a8a8a8" stroke="none" stroke-width="1.0" stroke-linejoin="round"/>
<path d="M212.4,284.2 212.4,284.2 213.4,280.0 214.3,274.7 214.5,274.7 215.2,260.1 216.0,248.4 216.1,244.6 217.0,238.7 217.1,237.1 218.0,245.1 218.5,248.9 218.9,251.3 219.8,260.3 220.5,264.1 220.8,265.6 221.7,268.1 222.6,272.3 223.5,274.1 223.5,274.8 224.5,275.1 225.4,276.3 226.3,277.6 227.1,278.3 227.2,278.4 228.2,279.1 229.1,280.1 230.0,281.0 230.6,281.3 230.9,281.3 231.8,282.2 232.8,283.0 233.7,283.7 234.6,284.2 234.6,284.2 Z" fill="#ee8099" stroke="none" stroke-width="1.0" stroke-linejoin="round" style="mix-blend-mode:multiply"/>
</g>
<path d="M212.4,284.2 212.4,284.2 213.3,279.8 214.2,274.8 214.5,274.3 215.1,261.7 216.0,248.9 216.0,248.3 216.9,236.7 217.0,236.7 217.8,243.9 218.5,250.4 218.7,249.3 219.6,255.3 220.5,260.3 220.5,260.5 221.4,262.3 222.3,264.1 222.5,265.5 223.2,264.0 224.1,264.1 224.5,263.0 225.0,264.3 225.9,262.9 226.8,262.0 227.1,262.7 227.7,260.9 228.6,258.3 229.1,257.6 229.5,259.2 230.4,262.3 230.6,263.9 231.3,265.3 232.2,269.3 232.6,269.5 233.1,271.4 234.0,276.3 234.6,278.6 234.9,278.5 235.8,280.7 236.7,282.8 237.6,284.2 237.6,284.2" fill="none" stroke="#111" stroke-width="1.5" stroke-linejoin="round"/>
<path d="M212.4,284.2 212.4,284.2 213.4,280.0 214.3,274.7 214.5,274.7 215.2,260.1 216.0,248.4 216.1,244.6 217.0,238.7 217.1,237.1 218.0,245.1 218.5,248.9 218.9,251.3 219.8,260.3 220.5,264.1 220.8,265.6 221.7,268.1 222.6,272.3 223.5,274.1 223.5,274.8 224.5,275.1 225.4,276.3 226.3,277.6 227.1,278.3 227.2,278.4 228.2,279.1 229.1,280.1 230.0,281.0 230.6,281.3 230.9,281.3 231.8,282.2 232.8,283.0 233.7,283.7 234.6,284.2 234.6,284.2" fill="none" stroke="#9c0f3c" stroke-width="1.75" stroke-linejoin="round"/>
<path d="M216.4,284.2 216.4,284.2 216.9,271.1 217.4,259.7 217.5,256.9 217.9,237.4 218.0,240.3 218.6,253.5 218.9,258.7 219.1,260.0 219.6,265.9 220.2,273.2 220.7,278.2 220.9,279.2 221.3,279.7 221.8,281.6 222.4,283.2 222.9,284.2 222.9,284.2" fill="none" stroke="#a0103a" stroke-width="1.8" stroke-linejoin="round" stroke-dasharray="3.2,2.0"/>
<path d="M215.5,284.2 215.5,284.2 216.0,270.2 216.5,259.0 216.6,257.0 217.0,239.7 217.1,240.2 217.7,254.8 218.0,260.2 218.2,260.4 218.7,266.8 219.3,273.4 219.8,278.3 220.0,279.1 220.4,279.8 220.9,281.4 221.5,283.2 222.0,284.2 222.0,284.2" fill="none" stroke="#300810" stroke-width="1.8" stroke-linejoin="round" stroke-dasharray="3.2,2.0"/>
<path d="M194.30,260.72 H223.03 V263.12 H244.70" stroke="#111" stroke-width="1.0" fill="none"/>
<rect x="194.30" y="234.02" width="50.40" height="50.20" fill="none" stroke="#000" stroke-width="1.7" />
<path d="M193.45,284.22 h-2.20 M193.45,280.63 h-1.40 M193.45,277.05 h-1.40 M193.45,273.46 h-2.20 M193.45,269.88 h-1.40 M193.45,266.29 h-1.40 M193.45,262.71 h-2.20 M193.45,259.12 h-1.40 M193.45,255.53 h-1.40 M193.45,251.95 h-2.20 M193.45,248.36 h-1.40 M193.45,244.78 h-1.40 M193.45,241.19 h-2.20 M193.45,237.61 h-1.40 M193.45,234.02 h-1.40 M194.30,285.07 v2.20 M197.90,285.07 v1.40 M201.50,285.07 v1.40 M205.10,285.07 v2.20 M208.70,285.07 v1.40 M212.30,285.07 v1.40 M215.90,285.07 v2.20 M219.50,285.07 v1.40 M223.10,285.07 v1.40 M226.70,285.07 v2.20 M230.30,285.07 v1.40 M233.90,285.07 v1.40 M237.50,285.07 v2.20 M241.10,285.07 v1.40 M244.70,285.07 v1.40" stroke="#000" stroke-width="0.8" fill="none"/>
<text x="197.60" y="244.60" font-size="6.6" font-weight="normal" text-anchor="start" fill="#3a3a3a" font-style="normal" stroke="#3a3a3a" stroke-width="0.18" >0.44</text>
<text x="242.30" y="241.67" font-size="6.8" font-weight="bold" text-anchor="end" fill="#111" font-style="normal" stroke="#111" stroke-width="0.12" >53%</text>
<text x="242.30" y="249.37" font-size="6.8" font-weight="bold" text-anchor="end" fill="#b0204a" font-style="normal" stroke="#b0204a" stroke-width="0.12" >19%</text>
<text x="196.10" y="275.57" font-size="6.8" font-weight="bold" text-anchor="start" fill="#111" font-style="normal" stroke="#111" stroke-width="0.12" >47%</text>
<text x="196.10" y="282.37" font-size="6.8" font-weight="bold" text-anchor="start" fill="#b0204a" font-style="normal" stroke="#b0204a" stroke-width="0.12" >81%</text>
<text x="61.00" y="303.62" font-size="6.6" font-weight="bold" text-anchor="end" fill="#111" font-style="normal" stroke="#111" stroke-width="0.12" >CA-46</text>
<text x="61.00" y="313.82" font-size="6.6" font-weight="normal" text-anchor="end" fill="#332c2c" font-style="normal" stroke="#332c2c" stroke-width="0.18" >R248Q</text>
<rect x="67.20" y="293.44" width="50.40" height="50.20" fill="#fff" stroke="none" stroke-width="1" />
<line x1="74.76" y1="293.44" x2="74.76" y2="343.64" stroke="#c4c4c4" stroke-width="0.9" />
<line x1="89.22" y1="293.44" x2="89.22" y2="343.64" stroke="#c4c4c4" stroke-width="0.9" />
<line x1="103.79" y1="293.44" x2="103.79" y2="343.64" stroke="#c4c4c4" stroke-width="0.9" />
<g style="isolation:isolate">
<path d="M86.4,343.6 86.4,343.6 87.3,342.9 88.2,341.5 89.1,340.4 89.9,339.8 90.0,339.7 90.9,339.1 91.8,338.1 92.7,337.5 93.4,337.5 93.6,337.7 94.5,338.0 95.4,338.6 96.3,338.4 97.2,337.2 98.1,336.8 98.4,336.6 99.1,335.5 100.0,333.1 100.9,330.7 101.5,330.2 101.8,329.8 102.7,327.3 103.6,322.9 104.5,321.8 105.4,317.3 106.3,309.8 106.5,308.8 107.2,304.9 108.1,302.5 108.5,302.1 109.0,304.8 109.9,314.7 110.0,315.4 110.8,324.2 111.6,334.0 111.8,334.4 112.7,339.3 113.6,343.6 113.6,343.6 113.6,343.6 Z" fill="#a8a8a8" stroke="none" stroke-width="1.0" stroke-linejoin="round"/>
<path d="M86.4,343.6 86.4,343.6 87.3,342.9 88.2,341.5 89.1,340.4 89.9,339.8 90.0,339.7 90.9,339.1 91.8,338.1 92.7,337.5 93.4,337.5 93.6,337.7 94.5,338.0 95.4,338.6 96.3,338.4 97.2,337.2 98.1,336.8 98.4,336.6 99.1,335.5 100.0,333.1 100.9,330.7 101.5,330.2 101.8,329.8 102.7,327.3 103.6,322.9 104.5,321.8 105.4,317.3 106.3,309.8 106.5,308.8 107.2,304.9 108.1,302.5 108.5,302.1 109.0,304.8 109.9,314.7 110.0,315.4 110.8,324.2 111.6,334.0 111.8,334.4 112.7,339.3 113.6,343.6 113.6,343.6 113.6,343.6 Z" fill="#ee8099" stroke="none" stroke-width="1.0" stroke-linejoin="round" style="mix-blend-mode:multiply"/>
</g>
<path d="M86.4,343.6 86.4,343.6 87.3,342.9 88.2,341.5 89.1,340.4 89.9,339.8 90.0,339.7 90.9,339.1 91.8,338.1 92.7,337.5 93.4,337.5 93.6,337.7 94.5,338.0 95.4,338.6 96.3,338.4 97.2,337.2 98.1,336.8 98.4,336.6 99.1,335.5 100.0,333.1 100.9,330.7 101.5,330.2 101.8,329.8 102.7,327.3 103.6,322.9 104.5,321.8 105.4,317.3 106.3,309.8 106.5,308.8 107.2,304.9 108.1,302.5 108.5,302.1 109.0,304.8 109.9,314.7 110.0,315.4 110.8,324.2 111.6,334.0 111.8,334.4 112.7,339.3 113.6,343.6 113.6,343.6 113.6,343.6" fill="none" stroke="#111" stroke-width="1.5" stroke-linejoin="round"/>
<path d="M86.4,343.6 86.4,343.6 87.3,342.9 88.2,341.5 89.1,340.4 89.9,339.8 90.0,339.7 90.9,339.1 91.8,338.1 92.7,337.5 93.4,337.5 93.6,337.7 94.5,338.0 95.4,338.6 96.3,338.4 97.2,337.2 98.1,336.8 98.4,336.6 99.1,335.5 100.0,333.1 100.9,330.7 101.5,330.2 101.8,329.8 102.7,327.3 103.6,322.9 104.5,321.8 105.4,317.3 106.3,309.8 106.5,308.8 107.2,304.9 108.1,302.5 108.5,302.1 109.0,304.8 109.9,314.7 110.0,315.4 110.8,324.2 111.6,334.0 111.8,334.4 112.7,339.3 113.6,343.6 113.6,343.6 113.6,343.6" fill="none" stroke="#9c0f3c" stroke-width="1.75" stroke-linejoin="round"/>
<path d="M86.2,343.6 86.2,343.6 87.2,337.3 88.1,328.7 88.8,323.4 89.0,323.7 89.9,315.4 90.9,306.8 91.8,303.0 92.7,308.6 93.6,316.3 94.6,322.4 94.8,323.7 95.5,328.2 96.4,336.9 97.3,343.6 97.3,343.6" fill="none" stroke="#a0103a" stroke-width="1.8" stroke-linejoin="round" stroke-dasharray="3.2,2.0"/>
<path d="M85.3,343.6 85.3,343.6 86.3,337.2 87.2,327.6 87.9,323.4 88.1,323.4 89.0,315.3 90.0,306.8 90.9,300.4 91.8,308.3 92.7,315.6 93.7,322.4 93.9,323.9 94.6,327.8 95.5,337.1 96.4,343.6 96.4,343.6" fill="none" stroke="#300810" stroke-width="1.8" stroke-linejoin="round" stroke-dasharray="3.2,2.0"/>
<rect x="67.20" y="293.44" width="50.40" height="50.20" fill="none" stroke="#000" stroke-width="1.7" />
<path d="M66.35,343.64 h-2.20 M66.35,340.05 h-1.40 M66.35,336.47 h-1.40 M66.35,332.88 h-2.20 M66.35,329.30 h-1.40 M66.35,325.71 h-1.40 M66.35,322.13 h-2.20 M66.35,318.54 h-1.40 M66.35,314.95 h-1.40 M66.35,311.37 h-2.20 M66.35,307.78 h-1.40 M66.35,304.20 h-1.40 M66.35,300.61 h-2.20 M66.35,297.03 h-1.40 M66.35,293.44 h-1.40 M67.20,344.49 v2.20 M70.80,344.49 v1.40 M74.40,344.49 v1.40 M78.00,344.49 v2.20 M81.60,344.49 v1.40 M85.20,344.49 v1.40 M88.80,344.49 v2.20 M92.40,344.49 v1.40 M96.00,344.49 v1.40 M99.60,344.49 v2.20 M103.20,344.49 v1.40 M106.80,344.49 v1.40 M110.40,344.49 v2.20 M114.00,344.49 v1.40 M117.60,344.49 v1.40" stroke="#000" stroke-width="0.8" fill="none"/>
<text x="70.50" y="304.02" font-size="6.6" font-weight="normal" text-anchor="start" fill="#3a3a3a" font-style="normal" stroke="#3a3a3a" stroke-width="0.18" >1.03</text>
<rect x="130.40" y="293.44" width="50.40" height="50.20" fill="#fff" stroke="none" stroke-width="1" />
<line x1="137.96" y1="293.44" x2="137.96" y2="343.64" stroke="#c4c4c4" stroke-width="0.9" />
<line x1="152.42" y1="293.44" x2="152.42" y2="343.64" stroke="#c4c4c4" stroke-width="0.9" />
<line x1="166.99" y1="293.44" x2="166.99" y2="343.64" stroke="#c4c4c4" stroke-width="0.9" />
<g style="isolation:isolate">
<path d="M149.6,343.6 149.6,343.6 150.5,343.1 151.4,342.1 152.3,341.2 153.1,340.9 153.2,340.6 154.1,339.7 155.0,338.7 155.6,337.6 155.9,337.4 156.8,337.3 157.7,336.4 158.1,335.9 158.6,336.6 159.5,336.7 160.4,338.0 160.6,338.1 161.3,336.5 162.3,334.9 163.2,333.3 163.7,333.3 164.1,331.8 165.0,329.0 165.9,326.0 166.7,323.3 166.8,323.0 167.7,317.6 168.6,312.1 169.5,310.3 169.7,308.3 170.4,305.9 171.3,300.6 171.7,298.0 172.2,302.6 173.1,315.0 173.2,313.3 174.0,325.6 174.8,333.7 175.0,334.7 175.9,339.3 176.8,343.6 176.8,343.6 176.8,343.6 Z" fill="#a8a8a8" stroke="none" stroke-width="1.0" stroke-linejoin="round"/>
<path d="M149.6,343.6 149.6,343.6 150.5,342.5 151.4,341.2 152.3,339.5 153.1,338.9 153.2,338.7 154.1,336.7 155.0,334.7 155.6,333.9 155.9,332.5 156.8,327.2 157.7,322.4 158.4,318.2 158.6,320.6 159.5,328.8 159.6,328.8 160.4,331.2 161.1,334.0 161.3,333.9 162.3,332.5 163.2,332.1 163.7,331.0 164.1,330.9 165.0,326.8 165.9,324.2 166.7,321.0 166.8,322.0 167.7,317.8 168.6,311.7 169.5,308.0 169.7,305.1 170.4,305.7 171.3,302.0 171.7,297.3 172.2,302.8 173.1,314.3 173.2,315.3 174.0,325.1 174.8,333.8 175.0,334.3 175.9,339.3 176.8,343.6 176.8,343.6 176.8,343.6 Z" fill="#ee8099" stroke="none" stroke-width="1.0" stroke-linejoin="round" style="mix-blend-mode:multiply"/>
</g>
<path d="M149.6,343.6 149.6,343.6 150.5,343.1 151.4,342.1 152.3,341.2 153.1,340.9 153.2,340.6 154.1,339.7 155.0,338.7 155.6,337.6 155.9,337.4 156.8,337.3 157.7,336.4 158.1,335.9 158.6,336.6 159.5,336.7 160.4,338.0 160.6,338.1 161.3,336.5 162.3,334.9 163.2,333.3 163.7,333.3 164.1,331.8 165.0,329.0 165.9,326.0 166.7,323.3 166.8,323.0 167.7,317.6 168.6,312.1 169.5,310.3 169.7,308.3 170.4,305.9 171.3,300.6 171.7,298.0 172.2,302.6 173.1,315.0 173.2,313.3 174.0,325.6 174.8,333.7 175.0,334.7 175.9,339.3 176.8,343.6 176.8,343.6 176.8,343.6" fill="none" stroke="#111" stroke-width="1.5" stroke-linejoin="round"/>
<path d="M149.6,343.6 149.6,343.6 150.5,342.5 151.4,341.2 152.3,339.5 153.1,338.9 153.2,338.7 154.1,336.7 155.0,334.7 155.6,333.9 155.9,332.5 156.8,327.2 157.7,322.4 158.4,318.2 158.6,320.6 159.5,328.8 159.6,328.8 160.4,331.2 161.1,334.0 161.3,333.9 162.3,332.5 163.2,332.1 163.7,331.0 164.1,330.9 165.0,326.8 165.9,324.2 166.7,321.0 166.8,322.0 167.7,317.8 168.6,311.7 169.5,308.0 169.7,305.1 170.4,305.7 171.3,302.0 171.7,297.3 172.2,302.8 173.1,314.3 173.2,315.3 174.0,325.1 174.8,333.8 175.0,334.3 175.9,339.3 176.8,343.6 176.8,343.6 176.8,343.6" fill="none" stroke="#9c0f3c" stroke-width="1.75" stroke-linejoin="round"/>
<path d="M149.9,343.6 149.9,343.6 150.8,338.1 151.6,329.7 152.5,323.3 153.3,317.3 154.1,308.6 155.0,300.9 155.8,307.3 156.7,316.6 157.5,323.7 158.3,329.9 159.2,338.1 160.0,343.6 160.0,343.6" fill="none" stroke="#a0103a" stroke-width="1.8" stroke-linejoin="round" stroke-dasharray="3.2,2.0"/>
<path d="M149.0,343.6 149.0,343.6 149.9,337.7 150.7,329.6 151.6,324.1 152.4,317.2 153.2,307.6 154.1,303.0 154.9,307.4 155.8,317.4 156.6,324.8 157.4,330.0 158.3,337.7 159.1,343.6 159.1,343.6" fill="none" stroke="#300810" stroke-width="1.8" stroke-linejoin="round" stroke-dasharray="3.2,2.0"/>
<rect x="130.40" y="293.44" width="50.40" height="50.20" fill="none" stroke="#000" stroke-width="1.7" />
<path d="M129.55,343.64 h-2.20 M129.55,340.05 h-1.40 M129.55,336.47 h-1.40 M129.55,332.88 h-2.20 M129.55,329.30 h-1.40 M129.55,325.71 h-1.40 M129.55,322.13 h-2.20 M129.55,318.54 h-1.40 M129.55,314.95 h-1.40 M129.55,311.37 h-2.20 M129.55,307.78 h-1.40 M129.55,304.20 h-1.40 M129.55,300.61 h-2.20 M129.55,297.03 h-1.40 M129.55,293.44 h-1.40 M130.40,344.49 v2.20 M134.00,344.49 v1.40 M137.60,344.49 v1.40 M141.20,344.49 v2.20 M144.80,344.49 v1.40 M148.40,344.49 v1.40 M152.00,344.49 v2.20 M155.60,344.49 v1.40 M159.20,344.49 v1.40 M162.80,344.49 v2.20 M166.40,344.49 v1.40 M170.00,344.49 v1.40 M173.60,344.49 v2.20 M177.20,344.49 v1.40 M180.80,344.49 v1.40" stroke="#000" stroke-width="0.8" fill="none"/>
<text x="133.70" y="304.02" font-size="6.6" font-weight="normal" text-anchor="start" fill="#3a3a3a" font-style="normal" stroke="#3a3a3a" stroke-width="0.18" >0.79</text>
<rect x="194.30" y="293.44" width="50.40" height="50.20" fill="#fff" stroke="none" stroke-width="1" />
<line x1="201.86" y1="293.44" x2="201.86" y2="343.64" stroke="#c4c4c4" stroke-width="0.9" />
<line x1="216.32" y1="293.44" x2="216.32" y2="343.64" stroke="#c4c4c4" stroke-width="0.9" />
<line x1="230.89" y1="293.44" x2="230.89" y2="343.64" stroke="#c4c4c4" stroke-width="0.9" />
<g style="isolation:isolate">
<path d="M213.5,343.6 213.5,343.6 214.4,343.0 215.3,342.0 216.2,341.1 217.0,340.6 217.1,340.5 218.1,339.5 219.0,338.2 219.5,337.8 219.9,337.9 220.8,337.9 221.7,338.0 222.0,337.7 222.7,337.6 223.6,336.9 224.5,336.0 224.5,336.4 225.4,334.6 226.3,332.0 227.3,328.9 227.6,328.9 228.2,327.3 229.1,322.8 230.0,317.4 230.6,316.7 231.0,315.8 231.9,311.4 232.8,307.9 233.1,308.7 233.7,307.1 234.6,306.0 234.6,305.2 235.6,309.4 236.5,313.8 236.6,313.7 237.4,320.0 238.3,331.9 238.7,333.4 239.2,337.5 240.2,343.6 240.2,343.6 Z" fill="#a8a8a8" stroke="none" stroke-width="1.0" stroke-linejoin="round"/>
<path d="M213.5,343.6 213.5,343.6 214.4,341.2 215.3,337.3 216.2,333.3 217.0,331.9 217.1,331.1 218.1,326.7 219.0,320.0 219.5,319.7 219.9,317.7 220.8,313.7 221.5,311.2 221.7,313.6 222.7,317.6 223.0,319.1 223.6,320.7 224.5,325.4 225.0,326.6 225.4,326.2 226.3,324.6 227.3,323.1 227.6,323.8 228.2,321.7 229.1,317.9 230.0,315.6 230.6,313.0 231.0,313.0 231.9,311.7 232.8,306.6 233.1,307.2 233.7,305.4 234.6,302.0 234.6,302.5 235.6,308.6 236.5,314.0 236.6,314.0 237.4,321.6 238.3,331.6 238.7,333.6 239.2,337.2 240.2,343.6 240.2,343.6 Z" fill="#ee8099" stroke="none" stroke-width="1.0" stroke-linejoin="round" style="mix-blend-mode:multiply"/>
</g>
<path d="M213.5,343.6 213.5,343.6 214.4,343.0 215.3,342.0 216.2,341.1 217.0,340.6 217.1,340.5 218.1,339.5 219.0,338.2 219.5,337.8 219.9,337.9 220.8,337.9 221.7,338.0 222.0,337.7 222.7,337.6 223.6,336.9 224.5,336.0 224.5,336.4 225.4,334.6 226.3,332.0 227.3,328.9 227.6,328.9 228.2,327.3 229.1,322.8 230.0,317.4 230.6,316.7 231.0,315.8 231.9,311.4 232.8,307.9 233.1,308.7 233.7,307.1 234.6,306.0 234.6,305.2 235.6,309.4 236.5,313.8 236.6,313.7 237.4,320.0 238.3,331.9 238.7,333.4 239.2,337.5 240.2,343.6 240.2,343.6" fill="none" stroke="#111" stroke-width="1.5" stroke-linejoin="round"/>
<path d="M213.5,343.6 213.5,343.6 214.4,341.2 215.3,337.3 216.2,333.3 217.0,331.9 217.1,331.1 218.1,326.7 219.0,320.0 219.5,319.7 219.9,317.7 220.8,313.7 221.5,311.2 221.7,313.6 222.7,317.6 223.0,319.1 223.6,320.7 224.5,325.4 225.0,326.6 225.4,326.2 226.3,324.6 227.3,323.1 227.6,323.8 228.2,321.7 229.1,317.9 230.0,315.6 230.6,313.0 231.0,313.0 231.9,311.7 232.8,306.6 233.1,307.2 233.7,305.4 234.6,302.0 234.6,302.5 235.6,308.6 236.5,314.0 236.6,314.0 237.4,321.6 238.3,331.6 238.7,333.6 239.2,337.2 240.2,343.6 240.2,343.6" fill="none" stroke="#9c0f3c" stroke-width="1.75" stroke-linejoin="round"/>
<path d="M213.3,343.6 213.3,343.6 214.2,338.0 215.0,329.6 215.9,323.6 215.9,324.3 216.7,318.1 217.5,308.1 218.4,304.0 219.2,307.4 220.1,318.8 220.9,324.9 221.7,329.1 222.6,337.7 223.4,343.6 223.4,343.6" fill="none" stroke="#a0103a" stroke-width="1.8" stroke-linejoin="round" stroke-dasharray="3.2,2.0"/>
<path d="M212.4,343.6 212.4,343.6 213.3,337.7 214.1,329.5 215.0,323.6 215.0,323.7 215.8,317.3 216.6,307.9 217.5,303.6 218.3,307.6 219.2,317.3 220.0,323.3 220.8,329.7 221.7,338.0 222.5,343.6 222.5,343.6" fill="none" stroke="#300810" stroke-width="1.8" stroke-linejoin="round" stroke-dasharray="3.2,2.0"/>
<rect x="194.30" y="293.44" width="50.40" height="50.20" fill="none" stroke="#000" stroke-width="1.7" />
<path d="M193.45,343.64 h-2.20 M193.45,340.05 h-1.40 M193.45,336.47 h-1.40 M193.45,332.88 h-2.20 M193.45,329.30 h-1.40 M193.45,325.71 h-1.40 M193.45,322.13 h-2.20 M193.45,318.54 h-1.40 M193.45,314.95 h-1.40 M193.45,311.37 h-2.20 M193.45,307.78 h-1.40 M193.45,304.20 h-1.40 M193.45,300.61 h-2.20 M193.45,297.03 h-1.40 M193.45,293.44 h-1.40 M194.30,344.49 v2.20 M197.90,344.49 v1.40 M201.50,344.49 v1.40 M205.10,344.49 v2.20 M208.70,344.49 v1.40 M212.30,344.49 v1.40 M215.90,344.49 v2.20 M219.50,344.49 v1.40 M223.10,344.49 v1.40 M226.70,344.49 v2.20 M230.30,344.49 v1.40 M233.90,344.49 v1.40 M237.50,344.49 v2.20 M241.10,344.49 v1.40 M244.70,344.49 v1.40" stroke="#000" stroke-width="0.8" fill="none"/>
<text x="197.60" y="304.02" font-size="6.6" font-weight="normal" text-anchor="start" fill="#3a3a3a" font-style="normal" stroke="#3a3a3a" stroke-width="0.18" >0.64</text>
<text x="61.00" y="363.04" font-size="6.6" font-weight="bold" text-anchor="end" fill="#111" font-style="normal" stroke="#111" stroke-width="0.12" >DG-75</text>
<text x="61.00" y="373.24" font-size="6.6" font-weight="normal" text-anchor="end" fill="#332c2c" font-style="normal" stroke="#332c2c" stroke-width="0.18" >R283H/</text>
<text x="61.00" y="383.44" font-size="6.6" font-weight="normal" text-anchor="end" fill="#332c2c" font-style="normal" stroke="#332c2c" stroke-width="0.18" >G245S</text>
<rect x="67.20" y="352.86" width="50.40" height="50.20" fill="#fff" stroke="none" stroke-width="1" />
<line x1="74.76" y1="352.86" x2="74.76" y2="403.06" stroke="#c4c4c4" stroke-width="0.9" />
<line x1="89.22" y1="352.86" x2="89.22" y2="403.06" stroke="#c4c4c4" stroke-width="0.9" />
<line x1="103.79" y1="352.86" x2="103.79" y2="403.06" stroke="#c4c4c4" stroke-width="0.9" />
<g style="isolation:isolate">
<path d="M86.9,403.1 86.9,403.1 87.8,400.0 88.7,395.0 89.6,391.9 89.9,391.4 90.5,386.1 91.5,377.5 91.9,377.2 92.4,373.5 93.3,366.1 93.9,365.1 94.2,364.8 95.1,368.8 95.2,369.2 96.1,365.4 96.9,362.2 97.0,362.4 97.9,363.8 98.8,367.7 99.0,369.9 99.7,371.2 100.7,377.1 101.5,380.6 101.6,381.1 102.5,385.5 103.4,390.2 104.0,392.7 104.3,392.8 105.3,396.3 106.2,399.4 106.5,400.2 107.1,401.2 108.0,403.1 108.0,403.1 Z" fill="#a8a8a8" stroke="none" stroke-width="1.0" stroke-linejoin="round"/>
<path d="M86.9,403.1 86.9,403.1 87.8,399.9 88.7,395.4 89.6,391.5 89.9,390.6 90.5,387.4 91.5,379.5 91.9,378.4 92.4,377.9 93.3,372.0 93.9,371.0 94.2,369.5 95.1,372.3 95.2,372.6 96.1,370.4 96.9,367.2 97.0,366.8 97.9,372.0 98.8,373.5 99.0,372.6 99.7,376.9 100.7,379.2 101.5,382.3 101.6,381.9 102.5,386.2 103.4,391.6 104.0,393.1 104.3,394.1 105.3,396.8 106.2,399.9 106.5,400.7 107.1,401.5 108.0,403.1 108.0,403.1 Z" fill="#ee8099" stroke="none" stroke-width="1.0" stroke-linejoin="round" style="mix-blend-mode:multiply"/>
</g>
<path d="M86.9,403.1 86.9,403.1 87.8,400.0 88.7,395.0 89.6,391.9 89.9,391.4 90.5,386.1 91.5,377.5 91.9,377.2 92.4,373.5 93.3,366.1 93.9,365.1 94.2,364.8 95.1,368.8 95.2,369.2 96.1,365.4 96.9,362.2 97.0,362.4 97.9,363.8 98.8,367.7 99.0,369.9 99.7,371.2 100.7,377.1 101.5,380.6 101.6,381.1 102.5,385.5 103.4,390.2 104.0,392.7 104.3,392.8 105.3,396.3 106.2,399.4 106.5,400.2 107.1,401.2 108.0,403.1 108.0,403.1" fill="none" stroke="#111" stroke-width="1.5" stroke-linejoin="round"/>
<path d="M86.9,403.1 86.9,403.1 87.8,399.9 88.7,395.4 89.6,391.5 89.9,390.6 90.5,387.4 91.5,379.5 91.9,378.4 92.4,377.9 93.3,372.0 93.9,371.0 94.2,369.5 95.1,372.3 95.2,372.6 96.1,370.4 96.9,367.2 97.0,366.8 97.9,372.0 98.8,373.5 99.0,372.6 99.7,376.9 100.7,379.2 101.5,382.3 101.6,381.9 102.5,386.2 103.4,391.6 104.0,393.1 104.3,394.1 105.3,396.8 106.2,399.9 106.5,400.7 107.1,401.5 108.0,403.1 108.0,403.1" fill="none" stroke="#9c0f3c" stroke-width="1.75" stroke-linejoin="round"/>
<path d="M89.8,403.1 89.8,403.1 90.3,393.0 90.8,384.0 91.3,371.6 91.8,360.8 91.8,359.8 92.3,367.7 92.8,377.7 93.3,383.9 93.8,386.5 94.3,390.8 94.8,396.1 95.3,400.1 95.8,403.1 95.8,403.1" fill="none" stroke="#a0103a" stroke-width="1.8" stroke-linejoin="round" stroke-dasharray="3.2,2.0"/>
<path d="M88.9,403.1 88.9,403.1 89.4,393.5 89.9,383.0 90.4,372.1 90.9,361.3 90.9,362.9 91.4,366.5 91.9,376.8 92.4,382.9 92.9,385.5 93.4,390.2 93.9,396.0 94.4,400.3 94.9,403.1 94.9,403.1" fill="none" stroke="#300810" stroke-width="1.8" stroke-linejoin="round" stroke-dasharray="3.2,2.0"/>
<rect x="67.20" y="352.86" width="50.40" height="50.20" fill="none" stroke="#000" stroke-width="1.7" />
<path d="M66.35,403.06 h-2.20 M66.35,399.47 h-1.40 M66.35,395.89 h-1.40 M66.35,392.30 h-2.20 M66.35,388.72 h-1.40 M66.35,385.13 h-1.40 M66.35,381.55 h-2.20 M66.35,377.96 h-1.40 M66.35,374.37 h-1.40 M66.35,370.79 h-2.20 M66.35,367.20 h-1.40 M66.35,363.62 h-1.40 M66.35,360.03 h-2.20 M66.35,356.45 h-1.40 M66.35,352.86 h-1.40 M67.20,403.91 v2.20 M70.80,403.91 v1.40 M74.40,403.91 v1.40 M78.00,403.91 v2.20 M81.60,403.91 v1.40 M85.20,403.91 v1.40 M88.80,403.91 v2.20 M92.40,403.91 v1.40 M96.00,403.91 v1.40 M99.60,403.91 v2.20 M103.20,403.91 v1.40 M106.80,403.91 v1.40 M110.40,403.91 v2.20 M114.00,403.91 v1.40 M117.60,403.91 v1.40" stroke="#000" stroke-width="0.8" fill="none"/>
<text x="70.50" y="363.44" font-size="6.6" font-weight="normal" text-anchor="start" fill="#3a3a3a" font-style="normal" stroke="#3a3a3a" stroke-width="0.18" >0.98</text>
<rect x="130.40" y="352.86" width="50.40" height="50.20" fill="#fff" stroke="none" stroke-width="1" />
<line x1="137.96" y1="352.86" x2="137.96" y2="403.06" stroke="#c4c4c4" stroke-width="0.9" />
<line x1="152.42" y1="352.86" x2="152.42" y2="403.06" stroke="#c4c4c4" stroke-width="0.9" />
<line x1="166.99" y1="352.86" x2="166.99" y2="403.06" stroke="#c4c4c4" stroke-width="0.9" />
<g style="isolation:isolate">
<path d="M149.0,403.1 149.0,403.1 150.0,398.6 150.9,391.6 151.6,388.2 151.8,386.8 152.7,377.8 153.6,370.7 153.6,370.3 154.5,366.5 155.4,363.6 155.6,364.0 156.3,362.5 157.2,366.4 157.6,366.5 158.1,364.7 159.0,366.6 159.1,366.7 159.9,364.6 160.1,366.3 160.8,367.0 161.6,372.1 161.7,372.3 162.6,376.7 163.5,379.7 163.7,379.6 164.4,382.0 165.3,384.7 166.2,387.1 166.2,387.9 167.1,390.6 168.0,394.2 168.7,396.9 168.9,397.2 169.8,400.2 170.7,403.1 170.7,403.1 Z" fill="#a8a8a8" stroke="none" stroke-width="1.0" stroke-linejoin="round"/>
<path d="M148.5,403.1 148.5,403.1 149.5,398.2 150.4,391.2 151.1,388.2 151.3,386.6 152.2,371.3 152.6,369.6 153.2,365.3 153.6,363.1 154.1,363.2 155.0,371.3 155.1,371.0 155.9,375.5 156.9,380.9 157.1,380.7 157.8,382.0 158.7,384.4 159.6,385.4 159.6,384.4 160.6,387.0 161.5,387.2 162.2,388.1 162.4,388.1 163.3,390.3 164.3,393.1 164.7,392.9 165.2,394.2 166.1,395.9 167.0,398.0 167.2,398.2 167.9,398.9 168.9,400.7 169.8,402.0 170.7,403.1 170.7,403.1 Z" fill="#ee8099" stroke="none" stroke-width="1.0" stroke-linejoin="round" style="mix-blend-mode:multiply"/>
</g>
<path d="M149.0,403.1 149.0,403.1 150.0,398.6 150.9,391.6 151.6,388.2 151.8,386.8 152.7,377.8 153.6,370.7 153.6,370.3 154.5,366.5 155.4,363.6 155.6,364.0 156.3,362.5 157.2,366.4 157.6,366.5 158.1,364.7 159.0,366.6 159.1,366.7 159.9,364.6 160.1,366.3 160.8,367.0 161.6,372.1 161.7,372.3 162.6,376.7 163.5,379.7 163.7,379.6 164.4,382.0 165.3,384.7 166.2,387.1 166.2,387.9 167.1,390.6 168.0,394.2 168.7,396.9 168.9,397.2 169.8,400.2 170.7,403.1 170.7,403.1" fill="none" stroke="#111" stroke-width="1.5" stroke-linejoin="round"/>
<path d="M148.5,403.1 148.5,403.1 149.5,398.2 150.4,391.2 151.1,388.2 151.3,386.6 152.2,371.3 152.6,369.6 153.2,365.3 153.6,363.1 154.1,363.2 155.0,371.3 155.1,371.0 155.9,375.5 156.9,380.9 157.1,380.7 157.8,382.0 158.7,384.4 159.6,385.4 159.6,384.4 160.6,387.0 161.5,387.2 162.2,388.1 162.4,388.1 163.3,390.3 164.3,393.1 164.7,392.9 165.2,394.2 166.1,395.9 167.0,398.0 167.2,398.2 167.9,398.9 168.9,400.7 169.8,402.0 170.7,403.1 170.7,403.1" fill="none" stroke="#9c0f3c" stroke-width="1.75" stroke-linejoin="round"/>
<path d="M153.0,403.1 153.0,403.1 153.4,394.5 153.9,384.1 154.0,382.8 154.4,366.8 154.5,360.4 154.8,364.4 155.3,372.3 155.7,380.0 156.0,383.5 156.2,383.7 156.7,387.2 157.1,392.2 157.6,396.7 158.1,400.5 158.5,403.1 158.5,403.1" fill="none" stroke="#a0103a" stroke-width="1.8" stroke-linejoin="round" stroke-dasharray="3.2,2.0"/>
<path d="M152.1,403.1 152.1,403.1 152.5,394.7 153.0,384.5 153.1,384.0 153.5,364.5 153.6,361.9 153.9,365.3 154.4,374.2 154.8,379.9 155.1,383.3 155.3,384.4 155.8,387.1 156.2,392.4 156.7,396.6 157.2,400.7 157.6,403.1 157.6,403.1" fill="none" stroke="#300810" stroke-width="1.8" stroke-linejoin="round" stroke-dasharray="3.2,2.0"/>
<rect x="130.40" y="352.86" width="50.40" height="50.20" fill="none" stroke="#000" stroke-width="1.7" />
<path d="M129.55,403.06 h-2.20 M129.55,399.47 h-1.40 M129.55,395.89 h-1.40 M129.55,392.30 h-2.20 M129.55,388.72 h-1.40 M129.55,385.13 h-1.40 M129.55,381.55 h-2.20 M129.55,377.96 h-1.40 M129.55,374.37 h-1.40 M129.55,370.79 h-2.20 M129.55,367.20 h-1.40 M129.55,363.62 h-1.40 M129.55,360.03 h-2.20 M129.55,356.45 h-1.40 M129.55,352.86 h-1.40 M130.40,403.91 v2.20 M134.00,403.91 v1.40 M137.60,403.91 v1.40 M141.20,403.91 v2.20 M144.80,403.91 v1.40 M148.40,403.91 v1.40 M152.00,403.91 v2.20 M155.60,403.91 v1.40 M159.20,403.91 v1.40 M162.80,403.91 v2.20 M166.40,403.91 v1.40 M170.00,403.91 v1.40 M173.60,403.91 v2.20 M177.20,403.91 v1.40 M180.80,403.91 v1.40" stroke="#000" stroke-width="0.8" fill="none"/>
<text x="133.70" y="363.44" font-size="6.6" font-weight="normal" text-anchor="start" fill="#3a3a3a" font-style="normal" stroke="#3a3a3a" stroke-width="0.18" >0.47</text>
<rect x="194.30" y="352.86" width="50.40" height="50.20" fill="#fff" stroke="none" stroke-width="1" />
<line x1="201.86" y1="352.86" x2="201.86" y2="403.06" stroke="#c4c4c4" stroke-width="0.9" />
<line x1="216.32" y1="352.86" x2="216.32" y2="403.06" stroke="#c4c4c4" stroke-width="0.9" />
<line x1="230.89" y1="352.86" x2="230.89" y2="403.06" stroke="#c4c4c4" stroke-width="0.9" />
<g style="isolation:isolate">
<path d="M214.5,403.1 214.5,403.1 215.4,397.9 216.3,391.3 217.0,387.2 217.2,385.7 218.1,375.2 218.5,374.9 219.0,372.2 220.0,369.7 220.5,368.0 220.9,367.0 221.8,367.9 222.0,365.9 222.7,364.3 223.5,364.6 223.6,363.2 224.5,368.1 225.5,370.6 225.5,372.4 226.4,374.8 227.3,378.4 227.6,379.2 228.2,382.8 229.1,385.2 229.6,387.7 230.0,388.3 231.0,392.1 231.9,395.3 232.1,396.1 232.8,397.0 233.7,400.5 234.6,403.1 234.6,403.1 Z" fill="#a8a8a8" stroke="none" stroke-width="1.0" stroke-linejoin="round"/>
<path d="M212.4,403.1 212.4,403.1 213.4,397.9 214.3,391.2 215.0,388.2 215.2,385.8 216.1,371.7 216.5,368.3 217.0,361.2 217.1,360.0 218.0,369.8 218.5,373.6 218.9,373.1 219.8,380.7 220.5,383.4 220.8,384.4 221.7,385.8 222.5,387.2 222.6,387.4 223.5,386.9 224.5,387.9 225.0,388.6 225.4,388.7 226.3,390.1 227.2,392.2 227.6,392.5 228.2,393.2 229.1,395.6 230.0,397.2 230.6,398.1 230.9,398.3 231.8,399.4 232.8,401.1 233.7,402.2 234.6,403.1 234.6,403.1 Z" fill="#ee8099" stroke="none" stroke-width="1.0" stroke-linejoin="round" style="mix-blend-mode:multiply"/>
</g>
<path d="M214.5,403.1 214.5,403.1 215.4,397.9 216.3,391.3 217.0,387.2 217.2,385.7 218.1,375.2 218.5,374.9 219.0,372.2 220.0,369.7 220.5,368.0 220.9,367.0 221.8,367.9 222.0,365.9 222.7,364.3 223.5,364.6 223.6,363.2 224.5,368.1 225.5,370.6 225.5,372.4 226.4,374.8 227.3,378.4 227.6,379.2 228.2,382.8 229.1,385.2 229.6,387.7 230.0,388.3 231.0,392.1 231.9,395.3 232.1,396.1 232.8,397.0 233.7,400.5 234.6,403.1 234.6,403.1" fill="none" stroke="#111" stroke-width="1.5" stroke-linejoin="round"/>
<path d="M212.4,403.1 212.4,403.1 213.4,397.9 214.3,391.2 215.0,388.2 215.2,385.8 216.1,371.7 216.5,368.3 217.0,361.2 217.1,360.0 218.0,369.8 218.5,373.6 218.9,373.1 219.8,380.7 220.5,383.4 220.8,384.4 221.7,385.8 222.5,387.2 222.6,387.4 223.5,386.9 224.5,387.9 225.0,388.6 225.4,388.7 226.3,390.1 227.2,392.2 227.6,392.5 228.2,393.2 229.1,395.6 230.0,397.2 230.6,398.1 230.9,398.3 231.8,399.4 232.8,401.1 233.7,402.2 234.6,403.1 234.6,403.1" fill="none" stroke="#9c0f3c" stroke-width="1.75" stroke-linejoin="round"/>
<path d="M216.4,403.1 216.4,403.1 216.8,394.7 217.3,384.4 217.4,384.2 217.8,363.6 217.9,362.1 218.2,365.0 218.7,372.5 219.1,380.1 219.4,382.9 219.6,383.9 220.1,387.2 220.5,391.7 221.0,396.5 221.5,400.4 221.9,403.1 221.9,403.1" fill="none" stroke="#a0103a" stroke-width="1.8" stroke-linejoin="round" stroke-dasharray="3.2,2.0"/>
<path d="M215.5,403.1 215.5,403.1 215.9,394.1 216.4,384.3 216.5,382.8 216.9,364.9 217.0,360.9 217.3,363.9 217.8,373.2 218.2,381.0 218.5,382.8 218.7,384.4 219.2,388.1 219.6,392.3 220.1,396.6 220.6,400.4 221.0,403.1 221.0,403.1" fill="none" stroke="#300810" stroke-width="1.8" stroke-linejoin="round" stroke-dasharray="3.2,2.0"/>
<rect x="194.30" y="352.86" width="50.40" height="50.20" fill="none" stroke="#000" stroke-width="1.7" />
<path d="M193.45,403.06 h-2.20 M193.45,399.47 h-1.40 M193.45,395.89 h-1.40 M193.45,392.30 h-2.20 M193.45,388.72 h-1.40 M193.45,385.13 h-1.40 M193.45,381.55 h-2.20 M193.45,377.96 h-1.40 M193.45,374.37 h-1.40 M193.45,370.79 h-2.20 M193.45,367.20 h-1.40 M193.45,363.62 h-1.40 M193.45,360.03 h-2.20 M193.45,356.45 h-1.40 M193.45,352.86 h-1.40 M194.30,403.91 v2.20 M197.90,403.91 v1.40 M201.50,403.91 v1.40 M205.10,403.91 v2.20 M208.70,403.91 v1.40 M212.30,403.91 v1.40 M215.90,403.91 v2.20 M219.50,403.91 v1.40 M223.10,403.91 v1.40 M226.70,403.91 v2.20 M230.30,403.91 v1.40 M233.90,403.91 v1.40 M237.50,403.91 v2.20 M241.10,403.91 v1.40 M244.70,403.91 v1.40" stroke="#000" stroke-width="0.8" fill="none"/>
<text x="197.60" y="363.44" font-size="6.6" font-weight="normal" text-anchor="start" fill="#3a3a3a" font-style="normal" stroke="#3a3a3a" stroke-width="0.18" >0.50</text>
<text x="61.00" y="422.46" font-size="6.6" font-weight="bold" text-anchor="end" fill="#111" font-style="normal" stroke="#111" stroke-width="0.12" >Namalwa</text>
<text x="61.00" y="432.66" font-size="6.6" font-weight="normal" text-anchor="end" fill="#332c2c" font-style="normal" stroke="#332c2c" stroke-width="0.18" >R248Q</text>
<rect x="67.20" y="412.28" width="50.40" height="50.20" fill="#fff" stroke="none" stroke-width="1" />
<line x1="74.76" y1="412.28" x2="74.76" y2="462.48" stroke="#c4c4c4" stroke-width="0.9" />
<line x1="89.22" y1="412.28" x2="89.22" y2="462.48" stroke="#c4c4c4" stroke-width="0.9" />
<line x1="103.79" y1="412.28" x2="103.79" y2="462.48" stroke="#c4c4c4" stroke-width="0.9" />
<g style="isolation:isolate">
<path d="M85.8,462.5 85.8,462.5 86.8,456.8 87.7,450.5 87.9,450.1 88.6,447.4 89.5,439.8 90.4,434.3 90.4,435.3 91.4,438.9 92.3,442.2 92.4,443.0 93.2,444.9 94.1,447.9 94.9,450.7 95.0,450.2 95.9,449.0 96.9,447.6 97.4,447.8 97.8,446.2 98.7,442.7 99.6,439.0 100.5,434.2 100.5,435.3 101.5,429.8 102.4,424.3 103.0,421.8 103.3,423.9 104.2,419.6 105.0,419.1 105.1,417.4 106.0,422.1 106.5,422.8 107.0,426.3 107.9,436.0 108.5,441.4 108.8,441.2 109.7,450.8 110.5,457.5 110.6,457.9 111.6,462.5 111.6,462.5 Z" fill="#a8a8a8" stroke="none" stroke-width="1.0" stroke-linejoin="round"/>
<path d="M85.8,462.5 85.8,462.5 86.8,456.8 87.7,450.5 87.9,450.1 88.6,447.4 89.5,439.8 90.4,434.3 90.4,435.3 91.4,438.9 92.3,442.2 92.4,443.0 93.2,444.9 94.1,447.9 94.9,450.7 95.0,450.2 95.9,449.0 96.9,447.6 97.4,447.8 97.8,446.2 98.7,442.7 99.6,439.0 100.5,434.2 100.5,435.3 101.5,429.8 102.4,424.3 103.0,421.8 103.3,423.9 104.2,419.6 105.0,419.1 105.1,417.4 106.0,422.1 106.5,422.8 107.0,426.3 107.9,436.0 108.5,441.4 108.8,441.2 109.7,450.8 110.5,457.5 110.6,457.9 111.6,462.5 111.6,462.5 Z" fill="#ee8099" stroke="none" stroke-width="1.0" stroke-linejoin="round" style="mix-blend-mode:multiply"/>
</g>
<path d="M85.8,462.5 85.8,462.5 86.8,456.8 87.7,450.5 87.9,450.1 88.6,447.4 89.5,439.8 90.4,434.3 90.4,435.3 91.4,438.9 92.3,442.2 92.4,443.0 93.2,444.9 94.1,447.9 94.9,450.7 95.0,450.2 95.9,449.0 96.9,447.6 97.4,447.8 97.8,446.2 98.7,442.7 99.6,439.0 100.5,434.2 100.5,435.3 101.5,429.8 102.4,424.3 103.0,421.8 103.3,423.9 104.2,419.6 105.0,419.1 105.1,417.4 106.0,422.1 106.5,422.8 107.0,426.3 107.9,436.0 108.5,441.4 108.8,441.2 109.7,450.8 110.5,457.5 110.6,457.9 111.6,462.5 111.6,462.5" fill="none" stroke="#111" stroke-width="1.5" stroke-linejoin="round"/>
<path d="M85.8,462.5 85.8,462.5 86.8,456.8 87.7,450.5 87.9,450.1 88.6,447.4 89.5,439.8 90.4,434.3 90.4,435.3 91.4,438.9 92.3,442.2 92.4,443.0 93.2,444.9 94.1,447.9 94.9,450.7 95.0,450.2 95.9,449.0 96.9,447.6 97.4,447.8 97.8,446.2 98.7,442.7 99.6,439.0 100.5,434.2 100.5,435.3 101.5,429.8 102.4,424.3 103.0,421.8 103.3,423.9 104.2,419.6 105.0,419.1 105.1,417.4 106.0,422.1 106.5,422.8 107.0,426.3 107.9,436.0 108.5,441.4 108.8,441.2 109.7,450.8 110.5,457.5 110.6,457.9 111.6,462.5 111.6,462.5" fill="none" stroke="#9c0f3c" stroke-width="1.75" stroke-linejoin="round"/>
<path d="M88.8,462.5 88.8,462.5 89.3,437.7 89.8,416.4 90.3,428.6 90.8,437.4 91.3,442.6 91.8,447.6 92.3,453.5 92.8,457.9 93.3,458.5 93.8,460.0 94.3,461.6 94.8,462.5 94.8,462.5" fill="none" stroke="#a0103a" stroke-width="1.8" stroke-linejoin="round" stroke-dasharray="3.2,2.0"/>
<path d="M87.9,462.5 87.9,462.5 88.4,438.6 88.9,416.4 89.4,427.5 89.9,438.8 90.4,441.5 90.9,447.8 91.4,454.0 91.9,457.3 92.4,458.5 92.9,460.0 93.4,461.4 93.9,462.5 93.9,462.5" fill="none" stroke="#300810" stroke-width="1.8" stroke-linejoin="round" stroke-dasharray="3.2,2.0"/>
<rect x="67.20" y="412.28" width="50.40" height="50.20" fill="none" stroke="#000" stroke-width="1.7" />
<path d="M66.35,462.48 h-2.20 M66.35,458.89 h-1.40 M66.35,455.31 h-1.40 M66.35,451.72 h-2.20 M66.35,448.14 h-1.40 M66.35,444.55 h-1.40 M66.35,440.97 h-2.20 M66.35,437.38 h-1.40 M66.35,433.79 h-1.40 M66.35,430.21 h-2.20 M66.35,426.62 h-1.40 M66.35,423.04 h-1.40 M66.35,419.45 h-2.20 M66.35,415.87 h-1.40 M66.35,412.28 h-1.40 M67.20,463.33 v2.20 M70.80,463.33 v1.40 M74.40,463.33 v1.40 M78.00,463.33 v2.20 M81.60,463.33 v1.40 M85.20,463.33 v1.40 M88.80,463.33 v2.20 M92.40,463.33 v1.40 M96.00,463.33 v1.40 M99.60,463.33 v2.20 M103.20,463.33 v1.40 M106.80,463.33 v1.40 M110.40,463.33 v2.20 M114.00,463.33 v1.40 M117.60,463.33 v1.40" stroke="#000" stroke-width="0.8" fill="none"/>
<text x="70.50" y="422.86" font-size="6.6" font-weight="normal" text-anchor="start" fill="#3a3a3a" font-style="normal" stroke="#3a3a3a" stroke-width="0.18" >1.00</text>
<rect x="130.40" y="412.28" width="50.40" height="50.20" fill="#fff" stroke="none" stroke-width="1" />
<line x1="137.96" y1="412.28" x2="137.96" y2="462.48" stroke="#c4c4c4" stroke-width="0.9" />
<line x1="152.42" y1="412.28" x2="152.42" y2="462.48" stroke="#c4c4c4" stroke-width="0.9" />
<line x1="166.99" y1="412.28" x2="166.99" y2="462.48" stroke="#c4c4c4" stroke-width="0.9" />
<g style="isolation:isolate">
<path d="M149.6,462.5 149.6,462.5 150.5,460.2 151.4,458.0 151.6,457.5 152.3,453.3 153.1,448.6 153.2,449.3 154.1,451.9 154.6,452.3 155.1,453.6 156.0,456.3 156.6,457.7 156.9,457.6 157.8,457.3 158.7,457.0 159.6,456.9 159.7,456.5 160.6,454.9 161.5,452.3 162.4,448.9 163.2,447.7 163.3,446.9 164.2,442.9 165.2,437.5 165.7,436.0 166.1,434.1 167.0,428.9 167.7,425.0 167.9,423.9 168.8,423.4 169.2,421.8 169.7,422.8 170.7,427.9 170.7,428.7 171.6,435.3 172.5,443.9 172.7,445.6 173.4,451.9 174.2,460.0 174.3,460.2 175.3,462.5 175.3,462.5 Z" fill="#a8a8a8" stroke="none" stroke-width="1.0" stroke-linejoin="round"/>
<path d="M149.6,462.5 149.6,462.5 150.5,456.4 151.1,452.9 151.4,449.5 152.3,433.0 152.6,428.7 153.1,422.1 153.2,422.6 154.1,433.8 154.1,434.2 155.0,444.4 155.6,452.7 155.9,453.0 156.8,456.0 157.6,458.6 157.7,458.6 158.6,458.5 159.5,459.0 160.4,459.0 161.3,459.0 162.2,459.2 163.1,459.1 163.2,458.9 164.0,459.1 164.9,459.1 165.8,459.5 166.7,459.2 167.6,459.7 168.2,459.4 168.5,459.8 169.4,459.9 170.3,460.2 171.2,460.8 172.1,461.1 173.0,461.3 173.2,461.6 173.9,461.9 174.8,462.5 174.8,462.5 Z" fill="#ee8099" stroke="none" stroke-width="1.0" stroke-linejoin="round" style="mix-blend-mode:multiply"/>
</g>
<path d="M149.6,462.5 149.6,462.5 150.5,460.2 151.4,458.0 151.6,457.5 152.3,453.3 153.1,448.6 153.2,449.3 154.1,451.9 154.6,452.3 155.1,453.6 156.0,456.3 156.6,457.7 156.9,457.6 157.8,457.3 158.7,457.0 159.6,456.9 159.7,456.5 160.6,454.9 161.5,452.3 162.4,448.9 163.2,447.7 163.3,446.9 164.2,442.9 165.2,437.5 165.7,436.0 166.1,434.1 167.0,428.9 167.7,425.0 167.9,423.9 168.8,423.4 169.2,421.8 169.7,422.8 170.7,427.9 170.7,428.7 171.6,435.3 172.5,443.9 172.7,445.6 173.4,451.9 174.2,460.0 174.3,460.2 175.3,462.5 175.3,462.5" fill="none" stroke="#111" stroke-width="1.5" stroke-linejoin="round"/>
<path d="M149.6,462.5 149.6,462.5 150.5,456.4 151.1,452.9 151.4,449.5 152.3,433.0 152.6,428.7 153.1,422.1 153.2,422.6 154.1,433.8 154.1,434.2 155.0,444.4 155.6,452.7 155.9,453.0 156.8,456.0 157.6,458.6 157.7,458.6 158.6,458.5 159.5,459.0 160.4,459.0 161.3,459.0 162.2,459.2 163.1,459.1 163.2,458.9 164.0,459.1 164.9,459.1 165.8,459.5 166.7,459.2 167.6,459.7 168.2,459.4 168.5,459.8 169.4,459.9 170.3,460.2 171.2,460.8 172.1,461.1 173.0,461.3 173.2,461.6 173.9,461.9 174.8,462.5 174.8,462.5" fill="none" stroke="#9c0f3c" stroke-width="1.75" stroke-linejoin="round"/>
<path d="M153.0,462.5 153.0,462.5 153.5,436.9 154.0,417.2 154.5,427.7 155.0,438.8 155.0,438.0 155.5,441.1 156.0,447.5 156.5,453.4 157.0,457.7 157.5,458.3 158.0,460.1 158.5,461.6 159.0,462.5 159.0,462.5" fill="none" stroke="#a0103a" stroke-width="1.8" stroke-linejoin="round" stroke-dasharray="3.2,2.0"/>
<path d="M152.1,462.5 152.1,462.5 152.6,438.2 153.1,419.1 153.6,427.3 154.1,438.5 154.1,437.9 154.6,441.0 155.1,447.9 155.6,453.9 156.1,457.5 156.6,458.4 157.1,460.0 157.6,461.5 158.1,462.5 158.1,462.5" fill="none" stroke="#300810" stroke-width="1.8" stroke-linejoin="round" stroke-dasharray="3.2,2.0"/>
<rect x="130.40" y="412.28" width="50.40" height="50.20" fill="none" stroke="#000" stroke-width="1.7" />
<path d="M129.55,462.48 h-2.20 M129.55,458.89 h-1.40 M129.55,455.31 h-1.40 M129.55,451.72 h-2.20 M129.55,448.14 h-1.40 M129.55,444.55 h-1.40 M129.55,440.97 h-2.20 M129.55,437.38 h-1.40 M129.55,433.79 h-1.40 M129.55,430.21 h-2.20 M129.55,426.62 h-1.40 M129.55,423.04 h-1.40 M129.55,419.45 h-2.20 M129.55,415.87 h-1.40 M129.55,412.28 h-1.40 M130.40,463.33 v2.20 M134.00,463.33 v1.40 M137.60,463.33 v1.40 M141.20,463.33 v2.20 M144.80,463.33 v1.40 M148.40,463.33 v1.40 M152.00,463.33 v2.20 M155.60,463.33 v1.40 M159.20,463.33 v1.40 M162.80,463.33 v2.20 M166.40,463.33 v1.40 M170.00,463.33 v1.40 M173.60,463.33 v2.20 M177.20,463.33 v1.40 M180.80,463.33 v1.40" stroke="#000" stroke-width="0.8" fill="none"/>
<text x="133.70" y="422.86" font-size="6.6" font-weight="normal" text-anchor="start" fill="#3a3a3a" font-style="normal" stroke="#3a3a3a" stroke-width="0.18" >0.13</text>
<rect x="194.30" y="412.28" width="50.40" height="50.20" fill="#fff" stroke="none" stroke-width="1" />
<line x1="201.86" y1="412.28" x2="201.86" y2="462.48" stroke="#c4c4c4" stroke-width="0.9" />
<line x1="216.32" y1="412.28" x2="216.32" y2="462.48" stroke="#c4c4c4" stroke-width="0.9" />
<line x1="230.89" y1="412.28" x2="230.89" y2="462.48" stroke="#c4c4c4" stroke-width="0.9" />
<g style="isolation:isolate">
<path d="M213.5,462.5 213.5,462.5 214.4,460.2 215.3,458.1 215.5,457.7 216.2,453.7 217.0,449.0 217.1,449.1 218.0,451.8 218.5,452.9 219.0,454.0 219.9,455.9 220.5,457.7 220.8,457.3 221.7,457.4 222.6,456.9 223.5,456.7 223.6,456.3 224.5,454.5 225.4,451.8 226.3,449.6 227.1,448.3 227.2,446.9 228.1,443.2 229.1,436.4 229.6,436.1 230.0,433.1 230.9,429.2 231.6,424.6 231.8,425.7 232.7,423.2 233.1,423.2 233.6,423.8 234.6,426.9 234.6,426.7 235.5,435.1 236.4,444.6 236.6,445.3 237.3,451.7 238.1,459.9 238.2,460.4 239.2,462.5 239.2,462.5 Z" fill="#a8a8a8" stroke="none" stroke-width="1.0" stroke-linejoin="round"/>
<path d="M212.9,462.5 212.9,462.5 213.9,456.2 214.8,448.5 215.0,447.2 215.7,438.3 216.5,428.7 216.6,427.9 217.5,425.9 218.0,423.4 218.4,423.1 219.3,426.1 219.5,425.4 220.2,429.5 221.1,434.3 221.5,434.2 222.0,435.6 222.9,439.1 223.5,441.4 223.8,441.8 224.7,444.2 225.5,444.6 225.6,445.1 226.5,446.1 227.4,447.4 227.6,446.5 228.3,446.3 229.2,444.4 229.6,443.9 230.1,443.2 231.0,442.8 231.9,440.2 232.1,441.5 232.8,441.7 233.7,441.7 234.1,441.8 234.6,444.0 235.5,448.6 236.1,450.2 236.4,451.4 237.3,456.3 238.1,459.9 238.3,460.2 239.2,462.5 239.2,462.5 Z" fill="#ee8099" stroke="none" stroke-width="1.0" stroke-linejoin="round" style="mix-blend-mode:multiply"/>
</g>
<path d="M213.5,462.5 213.5,462.5 214.4,460.2 215.3,458.1 215.5,457.7 216.2,453.7 217.0,449.0 217.1,449.1 218.0,451.8 218.5,452.9 219.0,454.0 219.9,455.9 220.5,457.7 220.8,457.3 221.7,457.4 222.6,456.9 223.5,456.7 223.6,456.3 224.5,454.5 225.4,451.8 226.3,449.6 227.1,448.3 227.2,446.9 228.1,443.2 229.1,436.4 229.6,436.1 230.0,433.1 230.9,429.2 231.6,424.6 231.8,425.7 232.7,423.2 233.1,423.2 233.6,423.8 234.6,426.9 234.6,426.7 235.5,435.1 236.4,444.6 236.6,445.3 237.3,451.7 238.1,459.9 238.2,460.4 239.2,462.5 239.2,462.5" fill="none" stroke="#111" stroke-width="1.5" stroke-linejoin="round"/>
<path d="M212.9,462.5 212.9,462.5 213.9,456.2 214.8,448.5 215.0,447.2 215.7,438.3 216.5,428.7 216.6,427.9 217.5,425.9 218.0,423.4 218.4,423.1 219.3,426.1 219.5,425.4 220.2,429.5 221.1,434.3 221.5,434.2 222.0,435.6 222.9,439.1 223.5,441.4 223.8,441.8 224.7,444.2 225.5,444.6 225.6,445.1 226.5,446.1 227.4,447.4 227.6,446.5 228.3,446.3 229.2,444.4 229.6,443.9 230.1,443.2 231.0,442.8 231.9,440.2 232.1,441.5 232.8,441.7 233.7,441.7 234.1,441.8 234.6,444.0 235.5,448.6 236.1,450.2 236.4,451.4 237.3,456.3 238.1,459.9 238.3,460.2 239.2,462.5 239.2,462.5" fill="none" stroke="#9c0f3c" stroke-width="1.75" stroke-linejoin="round"/>
<path d="M215.9,462.5 215.9,462.5 216.4,436.7 216.9,420.6 217.4,429.0 217.9,436.8 218.4,441.4 218.9,447.5 219.4,453.9 219.9,457.7 220.4,458.7 220.9,460.0 221.4,461.4 221.9,462.5 221.9,462.5" fill="none" stroke="#a0103a" stroke-width="1.8" stroke-linejoin="round" stroke-dasharray="3.2,2.0"/>
<path d="M215.0,462.5 215.0,462.5 215.5,437.0 216.0,417.4 216.5,429.5 217.0,438.2 217.5,441.3 218.0,448.3 218.5,453.3 219.0,457.6 219.5,458.6 220.0,459.9 220.5,461.4 221.0,462.5 221.0,462.5" fill="none" stroke="#300810" stroke-width="1.8" stroke-linejoin="round" stroke-dasharray="3.2,2.0"/>
<rect x="194.30" y="412.28" width="50.40" height="50.20" fill="none" stroke="#000" stroke-width="1.7" />
<path d="M193.45,462.48 h-2.20 M193.45,458.89 h-1.40 M193.45,455.31 h-1.40 M193.45,451.72 h-2.20 M193.45,448.14 h-1.40 M193.45,444.55 h-1.40 M193.45,440.97 h-2.20 M193.45,437.38 h-1.40 M193.45,433.79 h-1.40 M193.45,430.21 h-2.20 M193.45,426.62 h-1.40 M193.45,423.04 h-1.40 M193.45,419.45 h-2.20 M193.45,415.87 h-1.40 M193.45,412.28 h-1.40 M194.30,463.33 v2.20 M197.90,463.33 v1.40 M201.50,463.33 v1.40 M205.10,463.33 v2.20 M208.70,463.33 v1.40 M212.30,463.33 v1.40 M215.90,463.33 v2.20 M219.50,463.33 v1.40 M223.10,463.33 v1.40 M226.70,463.33 v2.20 M230.30,463.33 v1.40 M233.90,463.33 v1.40 M237.50,463.33 v2.20 M241.10,463.33 v1.40 M244.70,463.33 v1.40" stroke="#000" stroke-width="0.8" fill="none"/>
<text x="197.60" y="422.86" font-size="6.6" font-weight="normal" text-anchor="start" fill="#3a3a3a" font-style="normal" stroke="#3a3a3a" stroke-width="0.18" >0.37</text>
<text x="61.00" y="481.88" font-size="6.6" font-weight="bold" text-anchor="end" fill="#111" font-style="normal" stroke="#111" stroke-width="0.12" >Raji</text>
<text x="61.00" y="492.08" font-size="6.6" font-weight="normal" text-anchor="end" fill="#332c2c" font-style="normal" stroke="#332c2c" stroke-width="0.18" >R213Q/</text>
<text x="61.00" y="502.28" font-size="6.6" font-weight="normal" text-anchor="end" fill="#332c2c" font-style="normal" stroke="#332c2c" stroke-width="0.18" >Y234H</text>
<rect x="67.20" y="471.70" width="50.40" height="50.20" fill="#fff" stroke="none" stroke-width="1" />
<line x1="74.76" y1="471.70" x2="74.76" y2="521.90" stroke="#c4c4c4" stroke-width="0.9" />
<line x1="89.22" y1="471.70" x2="89.22" y2="521.90" stroke="#c4c4c4" stroke-width="0.9" />
<line x1="103.79" y1="471.70" x2="103.79" y2="521.90" stroke="#c4c4c4" stroke-width="0.9" />
<g style="isolation:isolate">
<path d="M93.4,521.9 93.4,521.9 94.3,521.1 95.2,520.1 95.4,519.8 96.1,520.0 97.1,519.5 97.4,519.5 98.0,518.7 98.9,516.7 99.8,514.5 100.0,514.3 100.7,510.6 101.6,504.6 102.5,499.6 102.5,499.1 103.4,493.6 104.4,485.1 104.5,485.2 105.3,480.0 106.0,476.1 106.2,479.9 107.1,484.1 107.5,484.8 108.0,489.7 108.9,499.5 109.5,504.9 109.8,506.8 110.7,514.1 111.6,519.3 111.6,519.8 112.6,521.9 112.6,521.9 Z" fill="#a8a8a8" stroke="none" stroke-width="1.0" stroke-linejoin="round"/>
<path d="M93.4,521.9 93.4,521.9 94.3,521.1 95.2,520.1 95.4,519.8 96.1,520.0 97.1,519.5 97.4,519.5 98.0,518.7 98.9,516.7 99.8,514.5 100.0,514.3 100.7,510.6 101.6,504.6 102.5,499.6 102.5,499.1 103.4,493.6 104.4,485.1 104.5,485.2 105.3,480.0 106.0,476.1 106.2,479.9 107.1,484.1 107.5,484.8 108.0,489.7 108.9,499.5 109.5,504.9 109.8,506.8 110.7,514.1 111.6,519.3 111.6,519.8 112.6,521.9 112.6,521.9 Z" fill="#ee8099" stroke="none" stroke-width="1.0" stroke-linejoin="round" style="mix-blend-mode:multiply"/>
</g>
<path d="M93.4,521.9 93.4,521.9 94.3,521.1 95.2,520.1 95.4,519.8 96.1,520.0 97.1,519.5 97.4,519.5 98.0,518.7 98.9,516.7 99.8,514.5 100.0,514.3 100.7,510.6 101.6,504.6 102.5,499.6 102.5,499.1 103.4,493.6 104.4,485.1 104.5,485.2 105.3,480.0 106.0,476.1 106.2,479.9 107.1,484.1 107.5,484.8 108.0,489.7 108.9,499.5 109.5,504.9 109.8,506.8 110.7,514.1 111.6,519.3 111.6,519.8 112.6,521.9 112.6,521.9" fill="none" stroke="#111" stroke-width="1.5" stroke-linejoin="round"/>
<path d="M93.4,521.9 93.4,521.9 94.3,521.1 95.2,520.1 95.4,519.8 96.1,520.0 97.1,519.5 97.4,519.5 98.0,518.7 98.9,516.7 99.8,514.5 100.0,514.3 100.7,510.6 101.6,504.6 102.5,499.6 102.5,499.1 103.4,493.6 104.4,485.1 104.5,485.2 105.3,480.0 106.0,476.1 106.2,479.9 107.1,484.1 107.5,484.8 108.0,489.7 108.9,499.5 109.5,504.9 109.8,506.8 110.7,514.1 111.6,519.3 111.6,519.8 112.6,521.9 112.6,521.9" fill="none" stroke="#9c0f3c" stroke-width="1.75" stroke-linejoin="round"/>
<path d="M92.3,521.9 92.3,521.9 92.8,516.1 93.3,508.2 93.8,502.6 94.3,490.2 94.8,476.8 95.3,485.2 95.8,494.4 96.3,501.9 96.3,502.5 96.8,505.6 97.3,511.6 97.8,518.0 98.3,521.9 98.3,521.9" fill="none" stroke="#a0103a" stroke-width="1.8" stroke-linejoin="round" stroke-dasharray="3.2,2.0"/>
<path d="M91.4,521.9 91.4,521.9 91.9,516.0 92.4,507.8 92.9,502.2 93.4,491.7 93.9,479.1 94.4,485.6 94.9,496.0 95.4,502.6 95.4,503.0 95.9,506.2 96.4,512.1 96.9,518.2 97.4,521.9 97.4,521.9" fill="none" stroke="#300810" stroke-width="1.8" stroke-linejoin="round" stroke-dasharray="3.2,2.0"/>
<rect x="67.20" y="471.70" width="50.40" height="50.20" fill="none" stroke="#000" stroke-width="1.7" />
<path d="M66.35,521.90 h-2.20 M66.35,518.31 h-1.40 M66.35,514.73 h-1.40 M66.35,511.14 h-2.20 M66.35,507.56 h-1.40 M66.35,503.97 h-1.40 M66.35,500.39 h-2.20 M66.35,496.80 h-1.40 M66.35,493.21 h-1.40 M66.35,489.63 h-2.20 M66.35,486.04 h-1.40 M66.35,482.46 h-1.40 M66.35,478.87 h-2.20 M66.35,475.29 h-1.40 M66.35,471.70 h-1.40 M67.20,522.75 v2.20 M70.80,522.75 v1.40 M74.40,522.75 v1.40 M78.00,522.75 v2.20 M81.60,522.75 v1.40 M85.20,522.75 v1.40 M88.80,522.75 v2.20 M92.40,522.75 v1.40 M96.00,522.75 v1.40 M99.60,522.75 v2.20 M103.20,522.75 v1.40 M106.80,522.75 v1.40 M110.40,522.75 v2.20 M114.00,522.75 v1.40 M117.60,522.75 v1.40" stroke="#000" stroke-width="0.8" fill="none"/>
<text x="70.50" y="482.28" font-size="6.6" font-weight="normal" text-anchor="start" fill="#3a3a3a" font-style="normal" stroke="#3a3a3a" stroke-width="0.18" >1.01</text>
<rect x="130.40" y="471.70" width="50.40" height="50.20" fill="#fff" stroke="none" stroke-width="1" />
<line x1="137.96" y1="471.70" x2="137.96" y2="521.90" stroke="#c4c4c4" stroke-width="0.9" />
<line x1="152.42" y1="471.70" x2="152.42" y2="521.90" stroke="#c4c4c4" stroke-width="0.9" />
<line x1="166.99" y1="471.70" x2="166.99" y2="521.90" stroke="#c4c4c4" stroke-width="0.9" />
<g style="isolation:isolate">
<path d="M160.6,521.9 160.6,521.9 161.5,519.6 162.4,516.1 163.2,514.3 163.3,513.4 164.2,507.1 165.1,499.6 165.2,500.0 166.0,492.6 166.7,488.8 166.9,485.1 167.8,481.1 167.9,480.9 168.7,484.2 169.2,487.9 169.6,491.2 170.5,503.2 170.7,504.2 171.4,511.6 172.2,519.3 172.3,519.7 173.2,521.9 173.2,521.9 Z" fill="#a8a8a8" stroke="none" stroke-width="1.0" stroke-linejoin="round"/>
<path d="M154.1,521.9 154.1,521.9 155.0,512.6 155.6,506.6 155.9,501.3 156.6,490.3 156.9,489.2 157.8,487.3 158.1,488.9 158.7,489.2 159.6,488.9 159.7,488.2 160.6,487.1 161.1,484.6 161.5,485.0 162.4,487.8 162.7,489.1 163.4,488.7 164.2,485.7 164.3,485.8 165.2,490.8 165.7,492.2 166.2,494.5 167.1,501.2 167.7,504.3 168.0,505.6 168.9,511.7 169.7,516.1 169.9,516.1 170.8,519.5 171.7,521.9 171.7,521.9 Z" fill="#ee8099" stroke="none" stroke-width="1.0" stroke-linejoin="round" style="mix-blend-mode:multiply"/>
</g>
<path d="M160.6,521.9 160.6,521.9 161.5,519.6 162.4,516.1 163.2,514.3 163.3,513.4 164.2,507.1 165.1,499.6 165.2,500.0 166.0,492.6 166.7,488.8 166.9,485.1 167.8,481.1 167.9,480.9 168.7,484.2 169.2,487.9 169.6,491.2 170.5,503.2 170.7,504.2 171.4,511.6 172.2,519.3 172.3,519.7 173.2,521.9 173.2,521.9" fill="none" stroke="#111" stroke-width="1.5" stroke-linejoin="round"/>
<path d="M154.1,521.9 154.1,521.9 155.0,512.6 155.6,506.6 155.9,501.3 156.6,490.3 156.9,489.2 157.8,487.3 158.1,488.9 158.7,489.2 159.6,488.9 159.7,488.2 160.6,487.1 161.1,484.6 161.5,485.0 162.4,487.8 162.7,489.1 163.4,488.7 164.2,485.7 164.3,485.8 165.2,490.8 165.7,492.2 166.2,494.5 167.1,501.2 167.7,504.3 168.0,505.6 168.9,511.7 169.7,516.1 169.9,516.1 170.8,519.5 171.7,521.9 171.7,521.9" fill="none" stroke="#9c0f3c" stroke-width="1.75" stroke-linejoin="round"/>
<path d="M156.0,521.9 156.0,521.9 156.4,515.1 156.8,505.8 157.0,501.4 157.1,497.1 157.5,480.6 157.9,488.1 158.3,497.5 158.5,501.5 158.6,503.6 159.0,505.7 159.4,511.0 159.8,515.1 160.2,519.1 160.5,521.9 160.5,521.9" fill="none" stroke="#a0103a" stroke-width="1.8" stroke-linejoin="round" stroke-dasharray="3.2,2.0"/>
<path d="M155.1,521.9 155.1,521.9 155.5,515.1 155.9,505.7 156.1,502.4 156.2,498.3 156.6,480.3 157.0,486.9 157.4,498.5 157.6,502.3 157.7,502.1 158.1,506.6 158.5,510.7 158.9,515.4 159.3,519.1 159.6,521.9 159.6,521.9" fill="none" stroke="#300810" stroke-width="1.8" stroke-linejoin="round" stroke-dasharray="3.2,2.0"/>
<rect x="130.40" y="471.70" width="50.40" height="50.20" fill="none" stroke="#000" stroke-width="1.7" />
<path d="M129.55,521.90 h-2.20 M129.55,518.31 h-1.40 M129.55,514.73 h-1.40 M129.55,511.14 h-2.20 M129.55,507.56 h-1.40 M129.55,503.97 h-1.40 M129.55,500.39 h-2.20 M129.55,496.80 h-1.40 M129.55,493.21 h-1.40 M129.55,489.63 h-2.20 M129.55,486.04 h-1.40 M129.55,482.46 h-1.40 M129.55,478.87 h-2.20 M129.55,475.29 h-1.40 M129.55,471.70 h-1.40 M130.40,522.75 v2.20 M134.00,522.75 v1.40 M137.60,522.75 v1.40 M141.20,522.75 v2.20 M144.80,522.75 v1.40 M148.40,522.75 v1.40 M152.00,522.75 v2.20 M155.60,522.75 v1.40 M159.20,522.75 v1.40 M162.80,522.75 v2.20 M166.40,522.75 v1.40 M170.00,522.75 v1.40 M173.60,522.75 v2.20 M177.20,522.75 v1.40 M180.80,522.75 v1.40" stroke="#000" stroke-width="0.8" fill="none"/>
<text x="133.70" y="482.28" font-size="6.6" font-weight="normal" text-anchor="start" fill="#3a3a3a" font-style="normal" stroke="#3a3a3a" stroke-width="0.18" >0.47</text>
<rect x="194.30" y="471.70" width="50.40" height="50.20" fill="#fff" stroke="none" stroke-width="1" />
<line x1="201.86" y1="471.70" x2="201.86" y2="521.90" stroke="#c4c4c4" stroke-width="0.9" />
<line x1="216.32" y1="471.70" x2="216.32" y2="521.90" stroke="#c4c4c4" stroke-width="0.9" />
<line x1="230.89" y1="471.70" x2="230.89" y2="521.90" stroke="#c4c4c4" stroke-width="0.9" />
<g style="isolation:isolate">
<path d="M224.5,521.9 224.5,521.9 225.5,518.5 226.4,515.0 226.6,514.6 227.3,508.8 228.3,500.6 228.6,500.2 229.2,496.0 230.2,489.6 230.6,486.2 231.1,484.1 232.0,480.8 232.1,480.0 233.0,483.1 233.6,486.2 233.9,490.6 234.8,502.8 235.1,505.3 235.8,511.0 236.6,519.6 236.7,519.6 237.6,521.9 237.6,521.9 Z" fill="#a8a8a8" stroke="none" stroke-width="1.0" stroke-linejoin="round"/>
<path d="M222.5,521.9 222.5,521.9 223.4,519.6 224.4,517.1 224.5,516.9 225.3,514.1 226.2,508.4 227.1,504.8 227.1,504.8 228.0,498.8 228.9,491.0 229.1,491.0 229.8,487.9 230.6,484.6 230.7,484.9 231.7,485.9 232.1,486.9 232.6,488.2 233.5,497.3 233.6,496.4 234.4,504.0 235.3,513.0 235.6,514.8 236.2,517.3 237.1,521.9 237.1,521.9 Z" fill="#ee8099" stroke="none" stroke-width="1.0" stroke-linejoin="round" style="mix-blend-mode:multiply"/>
</g>
<path d="M224.5,521.9 224.5,521.9 225.5,518.5 226.4,515.0 226.6,514.6 227.3,508.8 228.3,500.6 228.6,500.2 229.2,496.0 230.2,489.6 230.6,486.2 231.1,484.1 232.0,480.8 232.1,480.0 233.0,483.1 233.6,486.2 233.9,490.6 234.8,502.8 235.1,505.3 235.8,511.0 236.6,519.6 236.7,519.6 237.6,521.9 237.6,521.9" fill="none" stroke="#111" stroke-width="1.5" stroke-linejoin="round"/>
<path d="M222.5,521.9 222.5,521.9 223.4,519.6 224.4,517.1 224.5,516.9 225.3,514.1 226.2,508.4 227.1,504.8 227.1,504.8 228.0,498.8 228.9,491.0 229.1,491.0 229.8,487.9 230.6,484.6 230.7,484.9 231.7,485.9 232.1,486.9 232.6,488.2 233.5,497.3 233.6,496.4 234.4,504.0 235.3,513.0 235.6,514.8 236.2,517.3 237.1,521.9 237.1,521.9" fill="none" stroke="#9c0f3c" stroke-width="1.75" stroke-linejoin="round"/>
<path d="M220.4,521.9 220.4,521.9 220.8,515.4 221.2,505.8 221.4,502.1 221.5,496.8 221.9,476.1 222.3,486.4 222.7,497.4 222.9,502.5 223.0,503.2 223.4,505.6 223.8,510.2 224.2,515.3 224.6,519.3 224.9,521.9 224.9,521.9" fill="none" stroke="#a0103a" stroke-width="1.8" stroke-linejoin="round" stroke-dasharray="3.2,2.0"/>
<path d="M219.5,521.9 219.5,521.9 219.9,515.5 220.3,505.6 220.5,501.6 220.6,497.0 221.0,477.0 221.4,486.5 221.8,498.4 222.0,501.6 222.1,502.6 222.5,506.5 222.9,510.3 223.3,515.1 223.7,519.2 224.0,521.9 224.0,521.9" fill="none" stroke="#300810" stroke-width="1.8" stroke-linejoin="round" stroke-dasharray="3.2,2.0"/>
<rect x="194.30" y="471.70" width="50.40" height="50.20" fill="none" stroke="#000" stroke-width="1.7" />
<path d="M193.45,521.90 h-2.20 M193.45,518.31 h-1.40 M193.45,514.73 h-1.40 M193.45,511.14 h-2.20 M193.45,507.56 h-1.40 M193.45,503.97 h-1.40 M193.45,500.39 h-2.20 M193.45,496.80 h-1.40 M193.45,493.21 h-1.40 M193.45,489.63 h-2.20 M193.45,486.04 h-1.40 M193.45,482.46 h-1.40 M193.45,478.87 h-2.20 M193.45,475.29 h-1.40 M193.45,471.70 h-1.40 M194.30,522.75 v2.20 M197.90,522.75 v1.40 M201.50,522.75 v1.40 M205.10,522.75 v2.20 M208.70,522.75 v1.40 M212.30,522.75 v1.40 M215.90,522.75 v2.20 M219.50,522.75 v1.40 M223.10,522.75 v1.40 M226.70,522.75 v2.20 M230.30,522.75 v1.40 M233.90,522.75 v1.40 M237.50,522.75 v2.20 M241.10,522.75 v1.40 M244.70,522.75 v1.40" stroke="#000" stroke-width="0.8" fill="none"/>
<text x="197.60" y="482.28" font-size="6.6" font-weight="normal" text-anchor="start" fill="#3a3a3a" font-style="normal" stroke="#3a3a3a" stroke-width="0.18" >0.79</text>
<text x="61.00" y="541.30" font-size="6.6" font-weight="bold" text-anchor="end" fill="#111" font-style="normal" stroke="#111" stroke-width="0.12" >Ramos</text>
<text x="61.00" y="551.50" font-size="6.6" font-weight="normal" text-anchor="end" fill="#332c2c" font-style="normal" stroke="#332c2c" stroke-width="0.18" >I254D</text>
<rect x="67.20" y="531.12" width="50.40" height="50.20" fill="#fff" stroke="none" stroke-width="1" />
<line x1="74.76" y1="531.12" x2="74.76" y2="581.32" stroke="#c4c4c4" stroke-width="0.9" />
<line x1="89.22" y1="531.12" x2="89.22" y2="581.32" stroke="#c4c4c4" stroke-width="0.9" />
<line x1="103.79" y1="531.12" x2="103.79" y2="581.32" stroke="#c4c4c4" stroke-width="0.9" />
<g style="isolation:isolate">
<path d="M85.3,581.3 85.3,581.3 86.2,562.7 86.4,561.4 87.1,551.9 87.9,542.7 88.0,541.9 88.9,540.5 89.8,540.7 89.9,537.9 90.7,537.4 91.4,534.9 91.6,538.5 92.5,545.0 92.9,545.7 93.4,549.9 94.3,559.0 94.4,558.7 95.2,564.5 95.9,568.1 96.1,567.6 97.0,571.6 97.4,572.4 97.9,572.9 98.8,574.6 99.5,575.4 99.7,575.5 100.6,576.2 101.5,577.0 102.4,577.6 102.5,577.5 103.3,577.9 104.2,578.2 105.1,578.9 106.0,579.3 106.5,579.2 106.9,579.6 107.8,579.8 108.7,580.6 109.6,581.0 110.5,581.3 110.5,581.3 Z" fill="#a8a8a8" stroke="none" stroke-width="1.0" stroke-linejoin="round"/>
<path d="M85.3,581.3 85.3,581.3 86.2,562.7 86.4,561.4 87.1,551.9 87.9,542.7 88.0,541.9 88.9,540.5 89.8,540.7 89.9,537.9 90.7,537.4 91.4,534.9 91.6,538.5 92.5,545.0 92.9,545.7 93.4,549.9 94.3,559.0 94.4,558.7 95.2,564.5 95.9,568.1 96.1,567.6 97.0,571.6 97.4,572.4 97.9,572.9 98.8,574.6 99.5,575.4 99.7,575.5 100.6,576.2 101.5,577.0 102.4,577.6 102.5,577.5 103.3,577.9 104.2,578.2 105.1,578.9 106.0,579.3 106.5,579.2 106.9,579.6 107.8,579.8 108.7,580.6 109.6,581.0 110.5,581.3 110.5,581.3 Z" fill="#ee8099" stroke="none" stroke-width="1.0" stroke-linejoin="round" style="mix-blend-mode:multiply"/>
</g>
<path d="M85.3,581.3 85.3,581.3 86.2,562.7 86.4,561.4 87.1,551.9 87.9,542.7 88.0,541.9 88.9,540.5 89.8,540.7 89.9,537.9 90.7,537.4 91.4,534.9 91.6,538.5 92.5,545.0 92.9,545.7 93.4,549.9 94.3,559.0 94.4,558.7 95.2,564.5 95.9,568.1 96.1,567.6 97.0,571.6 97.4,572.4 97.9,572.9 98.8,574.6 99.5,575.4 99.7,575.5 100.6,576.2 101.5,577.0 102.4,577.6 102.5,577.5 103.3,577.9 104.2,578.2 105.1,578.9 106.0,579.3 106.5,579.2 106.9,579.6 107.8,579.8 108.7,580.6 109.6,581.0 110.5,581.3 110.5,581.3" fill="none" stroke="#111" stroke-width="1.5" stroke-linejoin="round"/>
<path d="M85.3,581.3 85.3,581.3 86.2,562.7 86.4,561.4 87.1,551.9 87.9,542.7 88.0,541.9 88.9,540.5 89.8,540.7 89.9,537.9 90.7,537.4 91.4,534.9 91.6,538.5 92.5,545.0 92.9,545.7 93.4,549.9 94.3,559.0 94.4,558.7 95.2,564.5 95.9,568.1 96.1,567.6 97.0,571.6 97.4,572.4 97.9,572.9 98.8,574.6 99.5,575.4 99.7,575.5 100.6,576.2 101.5,577.0 102.4,577.6 102.5,577.5 103.3,577.9 104.2,578.2 105.1,578.9 106.0,579.3 106.5,579.2 106.9,579.6 107.8,579.8 108.7,580.6 109.6,581.0 110.5,581.3 110.5,581.3" fill="none" stroke="#9c0f3c" stroke-width="1.75" stroke-linejoin="round"/>
<path d="M86.7,581.3 86.7,581.3 87.3,556.3 87.3,556.0 87.8,538.4 87.8,540.3 88.4,543.0 88.9,548.3 89.3,552.1 89.5,553.6 90.0,558.0 90.6,565.2 91.1,570.0 91.3,571.9 91.7,572.9 92.2,575.7 92.8,579.0 93.3,581.3 93.3,581.3" fill="none" stroke="#a0103a" stroke-width="1.8" stroke-linejoin="round" stroke-dasharray="3.2,2.0"/>
<path d="M85.8,581.3 85.8,581.3 86.4,556.9 86.4,555.7 86.9,538.8 86.9,540.4 87.5,543.7 88.0,548.9 88.4,552.9 88.6,554.1 89.1,559.5 89.7,564.9 90.2,570.9 90.4,571.3 90.8,573.1 91.3,575.9 91.9,579.0 92.4,581.3 92.4,581.3" fill="none" stroke="#300810" stroke-width="1.8" stroke-linejoin="round" stroke-dasharray="3.2,2.0"/>
<rect x="67.20" y="531.12" width="50.40" height="50.20" fill="none" stroke="#000" stroke-width="1.7" />
<path d="M66.35,581.32 h-2.20 M66.35,577.73 h-1.40 M66.35,574.15 h-1.40 M66.35,570.56 h-2.20 M66.35,566.98 h-1.40 M66.35,563.39 h-1.40 M66.35,559.81 h-2.20 M66.35,556.22 h-1.40 M66.35,552.63 h-1.40 M66.35,549.05 h-2.20 M66.35,545.46 h-1.40 M66.35,541.88 h-1.40 M66.35,538.29 h-2.20 M66.35,534.71 h-1.40 M66.35,531.12 h-1.40 M67.20,582.17 v2.20 M70.80,582.17 v1.40 M74.40,582.17 v1.40 M78.00,582.17 v2.20 M81.60,582.17 v1.40 M85.20,582.17 v1.40 M88.80,582.17 v2.20 M92.40,582.17 v1.40 M96.00,582.17 v1.40 M99.60,582.17 v2.20 M103.20,582.17 v1.40 M106.80,582.17 v1.40 M110.40,582.17 v2.20 M114.00,582.17 v1.40 M117.60,582.17 v1.40" stroke="#000" stroke-width="0.8" fill="none"/>
<text x="70.50" y="541.70" font-size="6.6" font-weight="normal" text-anchor="start" fill="#3a3a3a" font-style="normal" stroke="#3a3a3a" stroke-width="0.18" >1.05</text>
<rect x="130.40" y="531.12" width="50.40" height="50.20" fill="#fff" stroke="none" stroke-width="1" />
<line x1="137.96" y1="531.12" x2="137.96" y2="581.32" stroke="#c4c4c4" stroke-width="0.9" />
<line x1="152.42" y1="531.12" x2="152.42" y2="581.32" stroke="#c4c4c4" stroke-width="0.9" />
<line x1="166.99" y1="531.12" x2="166.99" y2="581.32" stroke="#c4c4c4" stroke-width="0.9" />
<g style="isolation:isolate">
<path d="M149.0,581.3 149.0,581.3 150.0,567.1 150.6,559.5 150.9,557.6 151.8,545.3 152.1,542.7 152.7,538.4 153.6,536.0 153.6,537.9 154.5,539.9 155.1,543.3 155.4,547.3 156.3,554.9 156.6,556.8 157.2,559.3 158.1,565.1 158.6,567.0 159.0,569.1 159.9,572.3 160.6,574.4 160.8,574.6 161.7,575.6 162.7,576.7 163.6,577.7 163.7,577.8 164.5,578.3 165.4,578.8 166.3,579.3 167.2,579.8 167.7,579.8 168.1,579.9 169.0,580.2 169.9,580.8 170.8,581.2 171.7,581.3 171.7,581.3 Z" fill="#a8a8a8" stroke="none" stroke-width="1.0" stroke-linejoin="round"/>
<path d="M149.0,581.3 149.0,581.3 150.0,567.1 150.6,559.5 150.9,557.6 151.8,545.3 152.1,542.7 152.7,538.4 153.6,536.0 153.6,537.9 154.5,539.9 155.1,543.3 155.4,547.3 156.3,554.9 156.6,556.8 157.2,559.3 158.1,565.1 158.6,567.0 159.0,569.1 159.9,572.3 160.6,574.4 160.8,574.6 161.7,575.6 162.7,576.7 163.6,577.7 163.7,577.8 164.5,578.3 165.4,578.8 166.3,579.3 167.2,579.8 167.7,579.8 168.1,579.9 169.0,580.2 169.9,580.8 170.8,581.2 171.7,581.3 171.7,581.3 Z" fill="#ee8099" stroke="none" stroke-width="1.0" stroke-linejoin="round" style="mix-blend-mode:multiply"/>
</g>
<path d="M149.0,581.3 149.0,581.3 150.0,567.1 150.6,559.5 150.9,557.6 151.8,545.3 152.1,542.7 152.7,538.4 153.6,536.0 153.6,537.9 154.5,539.9 155.1,543.3 155.4,547.3 156.3,554.9 156.6,556.8 157.2,559.3 158.1,565.1 158.6,567.0 159.0,569.1 159.9,572.3 160.6,574.4 160.8,574.6 161.7,575.6 162.7,576.7 163.6,577.7 163.7,577.8 164.5,578.3 165.4,578.8 166.3,579.3 167.2,579.8 167.7,579.8 168.1,579.9 169.0,580.2 169.9,580.8 170.8,581.2 171.7,581.3 171.7,581.3" fill="none" stroke="#111" stroke-width="1.5" stroke-linejoin="round"/>
<path d="M149.0,581.3 149.0,581.3 150.0,567.1 150.6,559.5 150.9,557.6 151.8,545.3 152.1,542.7 152.7,538.4 153.6,536.0 153.6,537.9 154.5,539.9 155.1,543.3 155.4,547.3 156.3,554.9 156.6,556.8 157.2,559.3 158.1,565.1 158.6,567.0 159.0,569.1 159.9,572.3 160.6,574.4 160.8,574.6 161.7,575.6 162.7,576.7 163.6,577.7 163.7,577.8 164.5,578.3 165.4,578.8 166.3,579.3 167.2,579.8 167.7,579.8 168.1,579.9 169.0,580.2 169.9,580.8 170.8,581.2 171.7,581.3 171.7,581.3" fill="none" stroke="#9c0f3c" stroke-width="1.75" stroke-linejoin="round"/>
<path d="M151.0,581.3 151.0,581.3 151.5,555.9 151.5,557.4 152.0,546.8 152.5,542.2 152.6,543.5 153.1,548.5 153.5,552.9 153.7,554.2 154.2,559.0 154.8,565.2 155.3,570.5 155.5,571.2 155.9,572.7 156.4,575.6 157.0,579.3 157.5,581.3 157.5,581.3" fill="none" stroke="#a0103a" stroke-width="1.8" stroke-linejoin="round" stroke-dasharray="3.2,2.0"/>
<path d="M150.1,581.3 150.1,581.3 150.6,556.9 150.6,557.0 151.1,549.0 151.6,541.2 151.7,542.3 152.2,548.1 152.6,550.5 152.8,552.0 153.3,559.0 153.9,564.9 154.4,570.2 154.6,571.4 155.0,572.7 155.5,576.2 156.1,579.1 156.6,581.3 156.6,581.3" fill="none" stroke="#300810" stroke-width="1.8" stroke-linejoin="round" stroke-dasharray="3.2,2.0"/>
<rect x="130.40" y="531.12" width="50.40" height="50.20" fill="none" stroke="#000" stroke-width="1.7" />
<path d="M129.55,581.32 h-2.20 M129.55,577.73 h-1.40 M129.55,574.15 h-1.40 M129.55,570.56 h-2.20 M129.55,566.98 h-1.40 M129.55,563.39 h-1.40 M129.55,559.81 h-2.20 M129.55,556.22 h-1.40 M129.55,552.63 h-1.40 M129.55,549.05 h-2.20 M129.55,545.46 h-1.40 M129.55,541.88 h-1.40 M129.55,538.29 h-2.20 M129.55,534.71 h-1.40 M129.55,531.12 h-1.40 M130.40,582.17 v2.20 M134.00,582.17 v1.40 M137.60,582.17 v1.40 M141.20,582.17 v2.20 M144.80,582.17 v1.40 M148.40,582.17 v1.40 M152.00,582.17 v2.20 M155.60,582.17 v1.40 M159.20,582.17 v1.40 M162.80,582.17 v2.20 M166.40,582.17 v1.40 M170.00,582.17 v1.40 M173.60,582.17 v2.20 M177.20,582.17 v1.40 M180.80,582.17 v1.40" stroke="#000" stroke-width="0.8" fill="none"/>
<text x="133.70" y="541.70" font-size="6.6" font-weight="normal" text-anchor="start" fill="#3a3a3a" font-style="normal" stroke="#3a3a3a" stroke-width="0.18" >0.93</text>
<rect x="194.30" y="531.12" width="50.40" height="50.20" fill="#fff" stroke="none" stroke-width="1" />
<line x1="201.86" y1="531.12" x2="201.86" y2="581.32" stroke="#c4c4c4" stroke-width="0.9" />
<line x1="216.32" y1="531.12" x2="216.32" y2="581.32" stroke="#c4c4c4" stroke-width="0.9" />
<line x1="230.89" y1="531.12" x2="230.89" y2="581.32" stroke="#c4c4c4" stroke-width="0.9" />
<g style="isolation:isolate">
<path d="M212.9,581.3 212.9,581.3 213.9,565.6 214.5,555.9 214.8,554.6 215.7,546.7 216.0,544.0 216.6,543.8 217.5,541.8 217.5,542.1 218.4,539.5 219.0,536.9 219.3,538.0 220.2,544.9 220.5,548.3 221.1,551.2 222.0,558.4 222.5,561.0 222.9,561.7 223.8,567.4 224.5,570.6 224.7,570.3 225.6,573.2 226.5,575.3 227.1,576.4 227.4,576.7 228.3,577.3 229.2,578.0 230.1,578.7 230.6,579.0 231.0,579.0 231.9,579.4 232.8,580.2 233.7,580.8 234.6,581.3 234.6,581.3 Z" fill="#a8a8a8" stroke="none" stroke-width="1.0" stroke-linejoin="round"/>
<path d="M212.9,581.3 212.9,581.3 213.9,565.6 214.5,555.9 214.8,554.6 215.7,546.7 216.0,544.0 216.6,543.8 217.5,541.8 217.5,542.1 218.4,539.5 219.0,536.9 219.3,538.0 220.2,544.9 220.5,548.3 221.1,551.2 222.0,558.4 222.5,561.0 222.9,561.7 223.8,567.4 224.5,570.6 224.7,570.3 225.6,573.2 226.5,575.3 227.1,576.4 227.4,576.7 228.3,577.3 229.2,578.0 230.1,578.7 230.6,579.0 231.0,579.0 231.9,579.4 232.8,580.2 233.7,580.8 234.6,581.3 234.6,581.3 Z" fill="#ee8099" stroke="none" stroke-width="1.0" stroke-linejoin="round" style="mix-blend-mode:multiply"/>
</g>
<path d="M212.9,581.3 212.9,581.3 213.9,565.6 214.5,555.9 214.8,554.6 215.7,546.7 216.0,544.0 216.6,543.8 217.5,541.8 217.5,542.1 218.4,539.5 219.0,536.9 219.3,538.0 220.2,544.9 220.5,548.3 221.1,551.2 222.0,558.4 222.5,561.0 222.9,561.7 223.8,567.4 224.5,570.6 224.7,570.3 225.6,573.2 226.5,575.3 227.1,576.4 227.4,576.7 228.3,577.3 229.2,578.0 230.1,578.7 230.6,579.0 231.0,579.0 231.9,579.4 232.8,580.2 233.7,580.8 234.6,581.3 234.6,581.3" fill="none" stroke="#111" stroke-width="1.5" stroke-linejoin="round"/>
<path d="M212.9,581.3 212.9,581.3 213.9,565.6 214.5,555.9 214.8,554.6 215.7,546.7 216.0,544.0 216.6,543.8 217.5,541.8 217.5,542.1 218.4,539.5 219.0,536.9 219.3,538.0 220.2,544.9 220.5,548.3 221.1,551.2 222.0,558.4 222.5,561.0 222.9,561.7 223.8,567.4 224.5,570.6 224.7,570.3 225.6,573.2 226.5,575.3 227.1,576.4 227.4,576.7 228.3,577.3 229.2,578.0 230.1,578.7 230.6,579.0 231.0,579.0 231.9,579.4 232.8,580.2 233.7,580.8 234.6,581.3 234.6,581.3" fill="none" stroke="#9c0f3c" stroke-width="1.75" stroke-linejoin="round"/>
<path d="M213.8,581.3 213.8,581.3 214.4,556.5 214.4,556.9 214.9,548.3 215.4,542.7 215.5,541.9 216.0,547.6 216.4,551.7 216.6,552.8 217.1,558.2 217.7,565.6 218.2,570.2 218.4,571.3 218.8,572.6 219.3,575.7 219.9,579.2 220.4,581.3 220.4,581.3" fill="none" stroke="#a0103a" stroke-width="1.8" stroke-linejoin="round" stroke-dasharray="3.2,2.0"/>
<path d="M212.9,581.3 212.9,581.3 213.5,555.8 213.5,556.7 214.0,547.9 214.5,540.4 214.6,542.5 215.1,549.6 215.5,552.1 215.7,551.7 216.2,558.6 216.8,564.7 217.3,570.2 217.5,571.7 217.9,572.5 218.4,576.0 219.0,579.3 219.5,581.3 219.5,581.3" fill="none" stroke="#300810" stroke-width="1.8" stroke-linejoin="round" stroke-dasharray="3.2,2.0"/>
<rect x="194.30" y="531.12" width="50.40" height="50.20" fill="none" stroke="#000" stroke-width="1.7" />
<path d="M193.45,581.32 h-2.20 M193.45,577.73 h-1.40 M193.45,574.15 h-1.40 M193.45,570.56 h-2.20 M193.45,566.98 h-1.40 M193.45,563.39 h-1.40 M193.45,559.81 h-2.20 M193.45,556.22 h-1.40 M193.45,552.63 h-1.40 M193.45,549.05 h-2.20 M193.45,545.46 h-1.40 M193.45,541.88 h-1.40 M193.45,538.29 h-2.20 M193.45,534.71 h-1.40 M193.45,531.12 h-1.40 M194.30,582.17 v2.20 M197.90,582.17 v1.40 M201.50,582.17 v1.40 M205.10,582.17 v2.20 M208.70,582.17 v1.40 M212.30,582.17 v1.40 M215.90,582.17 v2.20 M219.50,582.17 v1.40 M223.10,582.17 v1.40 M226.70,582.17 v2.20 M230.30,582.17 v1.40 M233.90,582.17 v1.40 M237.50,582.17 v2.20 M241.10,582.17 v1.40 M244.70,582.17 v1.40" stroke="#000" stroke-width="0.8" fill="none"/>
<text x="197.60" y="541.70" font-size="6.6" font-weight="normal" text-anchor="start" fill="#3a3a3a" font-style="normal" stroke="#3a3a3a" stroke-width="0.18" >0.85</text>
<text x="61.00" y="600.72" font-size="6.6" font-weight="bold" text-anchor="end" fill="#111" font-style="normal" stroke="#111" stroke-width="0.12" >SUDHL-4</text>
<text x="61.00" y="610.92" font-size="6.6" font-weight="normal" text-anchor="end" fill="#332c2c" font-style="normal" stroke="#332c2c" stroke-width="0.18" >R273C</text>
<rect x="67.20" y="590.54" width="50.40" height="50.20" fill="#fff" stroke="none" stroke-width="1" />
<line x1="74.76" y1="590.54" x2="74.76" y2="640.74" stroke="#c4c4c4" stroke-width="0.9" />
<line x1="89.22" y1="590.54" x2="89.22" y2="640.74" stroke="#c4c4c4" stroke-width="0.9" />
<line x1="103.79" y1="590.54" x2="103.79" y2="640.74" stroke="#c4c4c4" stroke-width="0.9" />
<g style="isolation:isolate">
<path d="M87.4,640.7 87.4,640.7 88.3,636.1 89.2,631.3 89.4,630.5 90.1,617.7 90.9,605.2 91.1,604.7 91.9,593.6 92.0,593.9 92.9,601.4 93.4,605.0 93.8,608.9 94.8,622.6 94.9,624.0 95.7,628.4 95.9,629.3 96.6,629.5 97.5,630.4 98.4,630.6 99.4,630.1 100.3,630.5 101.2,629.7 101.5,630.0 102.1,629.7 103.1,630.9 104.0,631.3 104.5,630.6 104.9,630.7 105.8,630.6 106.8,630.0 107.0,629.9 107.7,632.8 108.5,635.7 108.6,635.9 109.5,640.7 109.5,640.7 Z" fill="#a8a8a8" stroke="none" stroke-width="1.0" stroke-linejoin="round"/>
<path d="M87.4,640.7 87.4,640.7 88.3,636.1 89.2,631.3 89.4,630.5 90.1,617.7 90.9,605.2 91.1,604.7 91.9,593.6 92.0,593.9 92.9,601.4 93.4,605.0 93.8,608.9 94.8,622.6 94.9,624.0 95.7,628.4 95.9,629.3 96.6,629.5 97.5,630.4 98.4,630.6 99.4,630.1 100.3,630.5 101.2,629.7 101.5,630.0 102.1,629.7 103.1,630.9 104.0,631.3 104.5,630.6 104.9,630.7 105.8,630.6 106.8,630.0 107.0,629.9 107.7,632.8 108.5,635.7 108.6,635.9 109.5,640.7 109.5,640.7 Z" fill="#ee8099" stroke="none" stroke-width="1.0" stroke-linejoin="round" style="mix-blend-mode:multiply"/>
</g>
<path d="M87.4,640.7 87.4,640.7 88.3,636.1 89.2,631.3 89.4,630.5 90.1,617.7 90.9,605.2 91.1,604.7 91.9,593.6 92.0,593.9 92.9,601.4 93.4,605.0 93.8,608.9 94.8,622.6 94.9,624.0 95.7,628.4 95.9,629.3 96.6,629.5 97.5,630.4 98.4,630.6 99.4,630.1 100.3,630.5 101.2,629.7 101.5,630.0 102.1,629.7 103.1,630.9 104.0,631.3 104.5,630.6 104.9,630.7 105.8,630.6 106.8,630.0 107.0,629.9 107.7,632.8 108.5,635.7 108.6,635.9 109.5,640.7 109.5,640.7" fill="none" stroke="#111" stroke-width="1.5" stroke-linejoin="round"/>
<path d="M87.4,640.7 87.4,640.7 88.3,636.1 89.2,631.3 89.4,630.5 90.1,617.7 90.9,605.2 91.1,604.7 91.9,593.6 92.0,593.9 92.9,601.4 93.4,605.0 93.8,608.9 94.8,622.6 94.9,624.0 95.7,628.4 95.9,629.3 96.6,629.5 97.5,630.4 98.4,630.6 99.4,630.1 100.3,630.5 101.2,629.7 101.5,630.0 102.1,629.7 103.1,630.9 104.0,631.3 104.5,630.6 104.9,630.7 105.8,630.6 106.8,630.0 107.0,629.9 107.7,632.8 108.5,635.7 108.6,635.9 109.5,640.7 109.5,640.7" fill="none" stroke="#9c0f3c" stroke-width="1.75" stroke-linejoin="round"/>
<path d="M91.3,640.7 91.3,640.7 91.7,632.6 92.0,621.7 92.3,616.9 92.4,610.8 92.8,596.0 92.8,594.4 93.2,602.6 93.6,610.8 93.8,615.2 93.9,616.4 94.3,621.1 94.7,626.8 95.1,632.3 95.4,637.5 95.8,640.7 95.8,640.7" fill="none" stroke="#a0103a" stroke-width="1.8" stroke-linejoin="round" stroke-dasharray="3.2,2.0"/>
<path d="M90.4,640.7 90.4,640.7 90.8,632.6 91.1,620.4 91.4,616.3 91.5,610.9 91.9,596.7 91.9,595.1 92.3,602.6 92.7,611.6 92.9,616.0 93.0,616.2 93.4,621.1 93.8,626.9 94.2,632.2 94.5,637.3 94.9,640.7 94.9,640.7" fill="none" stroke="#300810" stroke-width="1.8" stroke-linejoin="round" stroke-dasharray="3.2,2.0"/>
<path d="M67.20,617.24 H97.44 V619.64 H117.60" stroke="#111" stroke-width="1.0" fill="none"/>
<rect x="67.20" y="590.54" width="50.40" height="50.20" fill="none" stroke="#000" stroke-width="1.7" />
<path d="M66.35,640.74 h-2.20 M66.35,637.15 h-1.40 M66.35,633.57 h-1.40 M66.35,629.98 h-2.20 M66.35,626.40 h-1.40 M66.35,622.81 h-1.40 M66.35,619.23 h-2.20 M66.35,615.64 h-1.40 M66.35,612.05 h-1.40 M66.35,608.47 h-2.20 M66.35,604.88 h-1.40 M66.35,601.30 h-1.40 M66.35,597.71 h-2.20 M66.35,594.13 h-1.40 M66.35,590.54 h-1.40 M67.20,641.59 v2.20 M70.80,641.59 v1.40 M74.40,641.59 v1.40 M78.00,641.59 v2.20 M81.60,641.59 v1.40 M85.20,641.59 v1.40 M88.80,641.59 v2.20 M92.40,641.59 v1.40 M96.00,641.59 v1.40 M99.60,641.59 v2.20 M103.20,641.59 v1.40 M106.80,641.59 v1.40 M110.40,641.59 v2.20 M114.00,641.59 v1.40 M117.60,641.59 v1.40" stroke="#000" stroke-width="0.8" fill="none"/>
<text x="70.50" y="601.12" font-size="6.6" font-weight="normal" text-anchor="start" fill="#3a3a3a" font-style="normal" stroke="#3a3a3a" stroke-width="0.18" >0.93</text>
<text x="115.20" y="598.19" font-size="6.8" font-weight="bold" text-anchor="end" fill="#111" font-style="normal" stroke="#111" stroke-width="0.12" >40%</text>
<text x="115.20" y="605.89" font-size="6.8" font-weight="bold" text-anchor="end" fill="#b0204a" font-style="normal" stroke="#b0204a" stroke-width="0.12" >35%</text>
<text x="69.00" y="632.09" font-size="6.8" font-weight="bold" text-anchor="start" fill="#111" font-style="normal" stroke="#111" stroke-width="0.12" >60%</text>
<text x="69.00" y="638.89" font-size="6.8" font-weight="bold" text-anchor="start" fill="#b0204a" font-style="normal" stroke="#b0204a" stroke-width="0.12" >65%</text>
<rect x="130.40" y="590.54" width="50.40" height="50.20" fill="#fff" stroke="none" stroke-width="1" />
<line x1="137.96" y1="590.54" x2="137.96" y2="640.74" stroke="#c4c4c4" stroke-width="0.9" />
<line x1="152.42" y1="590.54" x2="152.42" y2="640.74" stroke="#c4c4c4" stroke-width="0.9" />
<line x1="166.99" y1="590.54" x2="166.99" y2="640.74" stroke="#c4c4c4" stroke-width="0.9" />
<g style="isolation:isolate">
<path d="M153.1,640.7 153.1,640.7 154.0,634.1 154.9,626.8 155.1,626.3 155.8,613.8 156.6,602.6 156.7,600.9 157.4,596.8 157.6,597.9 158.5,609.6 158.6,611.1 159.4,617.9 160.1,625.5 160.3,626.3 161.2,628.7 161.6,630.2 162.1,629.2 163.0,627.5 163.7,627.4 163.9,626.5 164.8,626.4 165.7,626.6 166.6,626.3 166.7,625.2 167.5,627.4 168.4,627.8 168.7,628.7 169.3,629.9 170.2,631.8 171.1,633.7 171.7,634.9 172.0,635.1 172.9,636.9 173.8,639.4 174.8,640.7 174.8,640.7 Z" fill="#a8a8a8" stroke="none" stroke-width="1.0" stroke-linejoin="round"/>
<path d="M153.1,640.7 153.1,640.7 154.0,634.2 154.9,626.8 155.1,625.7 155.8,615.2 156.6,601.3 156.7,600.6 157.4,595.5 157.6,597.1 158.5,610.6 158.6,611.9 159.4,619.7 160.1,625.6 160.3,626.4 161.2,630.9 161.6,631.6 162.1,631.9 163.0,632.6 163.9,633.2 164.8,634.5 165.7,634.7 165.7,634.9 166.6,635.2 167.5,635.6 168.4,636.7 169.3,637.3 170.2,637.5 170.7,637.7 171.1,638.0 172.0,638.6 172.9,639.3 173.8,640.2 174.8,640.7 174.8,640.7 Z" fill="#ee8099" stroke="none" stroke-width="1.0" stroke-linejoin="round" style="mix-blend-mode:multiply"/>
</g>
<path d="M153.1,640.7 153.1,640.7 154.0,634.1 154.9,626.8 155.1,626.3 155.8,613.8 156.6,602.6 156.7,600.9 157.4,596.8 157.6,597.9 158.5,609.6 158.6,611.1 159.4,617.9 160.1,625.5 160.3,626.3 161.2,628.7 161.6,630.2 162.1,629.2 163.0,627.5 163.7,627.4 163.9,626.5 164.8,626.4 165.7,626.6 166.6,626.3 166.7,625.2 167.5,627.4 168.4,627.8 168.7,628.7 169.3,629.9 170.2,631.8 171.1,633.7 171.7,634.9 172.0,635.1 172.9,636.9 173.8,639.4 174.8,640.7 174.8,640.7" fill="none" stroke="#111" stroke-width="1.5" stroke-linejoin="round"/>
<path d="M153.1,640.7 153.1,640.7 154.0,634.2 154.9,626.8 155.1,625.7 155.8,615.2 156.6,601.3 156.7,600.6 157.4,595.5 157.6,597.1 158.5,610.6 158.6,611.9 159.4,619.7 160.1,625.6 160.3,626.4 161.2,630.9 161.6,631.6 162.1,631.9 163.0,632.6 163.9,633.2 164.8,634.5 165.7,634.7 165.7,634.9 166.6,635.2 167.5,635.6 168.4,636.7 169.3,637.3 170.2,637.5 170.7,637.7 171.1,638.0 172.0,638.6 172.9,639.3 173.8,640.2 174.8,640.7 174.8,640.7" fill="none" stroke="#9c0f3c" stroke-width="1.75" stroke-linejoin="round"/>
<path d="M157.0,640.7 157.0,640.7 157.3,625.5 157.5,615.1 157.6,614.1 157.9,605.7 158.2,599.2 158.3,595.6 158.5,601.9 158.8,610.0 159.0,616.7 159.1,617.2 159.4,619.8 159.7,625.5 159.9,631.9 160.2,637.2 160.5,640.7 160.5,640.7" fill="none" stroke="#a0103a" stroke-width="1.8" stroke-linejoin="round" stroke-dasharray="3.2,2.0"/>
<path d="M156.1,640.7 156.1,640.7 156.4,626.5 156.6,617.0 156.7,615.8 157.0,606.0 157.3,599.5 157.4,598.1 157.6,600.5 157.9,610.8 158.1,616.7 158.2,617.0 158.5,619.7 158.8,626.4 159.0,632.3 159.3,637.4 159.6,640.7 159.6,640.7" fill="none" stroke="#300810" stroke-width="1.8" stroke-linejoin="round" stroke-dasharray="3.2,2.0"/>
<path d="M130.40,617.24 H160.64 V619.64 H180.80" stroke="#111" stroke-width="1.0" fill="none"/>
<rect x="130.40" y="590.54" width="50.40" height="50.20" fill="none" stroke="#000" stroke-width="1.7" />
<path d="M129.55,640.74 h-2.20 M129.55,637.15 h-1.40 M129.55,633.57 h-1.40 M129.55,629.98 h-2.20 M129.55,626.40 h-1.40 M129.55,622.81 h-1.40 M129.55,619.23 h-2.20 M129.55,615.64 h-1.40 M129.55,612.05 h-1.40 M129.55,608.47 h-2.20 M129.55,604.88 h-1.40 M129.55,601.30 h-1.40 M129.55,597.71 h-2.20 M129.55,594.13 h-1.40 M129.55,590.54 h-1.40 M130.40,641.59 v2.20 M134.00,641.59 v1.40 M137.60,641.59 v1.40 M141.20,641.59 v2.20 M144.80,641.59 v1.40 M148.40,641.59 v1.40 M152.00,641.59 v2.20 M155.60,641.59 v1.40 M159.20,641.59 v1.40 M162.80,641.59 v2.20 M166.40,641.59 v1.40 M170.00,641.59 v1.40 M173.60,641.59 v2.20 M177.20,641.59 v1.40 M180.80,641.59 v1.40" stroke="#000" stroke-width="0.8" fill="none"/>
<text x="133.70" y="601.12" font-size="6.6" font-weight="normal" text-anchor="start" fill="#3a3a3a" font-style="normal" stroke="#3a3a3a" stroke-width="0.18" >0.78</text>
<text x="178.40" y="598.19" font-size="6.8" font-weight="bold" text-anchor="end" fill="#111" font-style="normal" stroke="#111" stroke-width="0.12" >49%</text>
<text x="178.40" y="605.89" font-size="6.8" font-weight="bold" text-anchor="end" fill="#b0204a" font-style="normal" stroke="#b0204a" stroke-width="0.12" >25%</text>
<text x="132.20" y="632.09" font-size="6.8" font-weight="bold" text-anchor="start" fill="#111" font-style="normal" stroke="#111" stroke-width="0.12" >51%</text>
<text x="132.20" y="638.89" font-size="6.8" font-weight="bold" text-anchor="start" fill="#b0204a" font-style="normal" stroke="#b0204a" stroke-width="0.12" >75%</text>
<rect x="194.30" y="590.54" width="50.40" height="50.20" fill="#fff" stroke="none" stroke-width="1" />
<line x1="201.86" y1="590.54" x2="201.86" y2="640.74" stroke="#c4c4c4" stroke-width="0.9" />
<line x1="216.32" y1="590.54" x2="216.32" y2="640.74" stroke="#c4c4c4" stroke-width="0.9" />
<line x1="230.89" y1="590.54" x2="230.89" y2="640.74" stroke="#c4c4c4" stroke-width="0.9" />
<g style="isolation:isolate">
<path d="M215.5,640.7 215.5,640.7 216.4,636.5 217.3,631.1 218.0,628.4 218.2,626.5 219.2,610.7 220.0,599.8 220.1,599.5 221.0,596.7 221.9,606.0 222.5,610.7 222.9,614.2 223.8,624.5 224.0,626.3 224.7,627.7 225.5,630.2 225.6,630.3 226.6,629.8 227.5,629.4 227.6,629.4 228.4,629.9 229.3,631.0 230.3,631.2 230.6,630.7 231.2,631.0 232.1,630.7 233.0,629.6 233.6,630.5 233.9,630.6 234.9,633.6 235.6,636.1 235.8,636.1 236.7,638.4 237.6,640.7 237.6,640.7 Z" fill="#a8a8a8" stroke="none" stroke-width="1.0" stroke-linejoin="round"/>
<path d="M215.5,640.7 215.5,640.7 216.4,636.4 217.3,631.0 218.0,629.0 218.2,626.1 219.2,612.9 220.0,603.0 220.1,600.3 221.0,594.6 221.9,605.2 222.5,610.3 222.9,614.8 223.8,624.7 224.0,626.3 224.7,628.7 225.5,633.5 225.6,633.1 226.6,634.2 227.5,634.3 228.4,635.2 229.3,635.9 229.6,635.7 230.3,636.1 231.2,636.6 232.1,636.8 233.0,637.1 233.9,637.8 234.6,637.9 234.9,638.0 235.8,638.8 236.7,639.9 237.6,640.7 237.6,640.7 Z" fill="#ee8099" stroke="none" stroke-width="1.0" stroke-linejoin="round" style="mix-blend-mode:multiply"/>
</g>
<path d="M215.5,640.7 215.5,640.7 216.4,636.5 217.3,631.1 218.0,628.4 218.2,626.5 219.2,610.7 220.0,599.8 220.1,599.5 221.0,596.7 221.9,606.0 222.5,610.7 222.9,614.2 223.8,624.5 224.0,626.3 224.7,627.7 225.5,630.2 225.6,630.3 226.6,629.8 227.5,629.4 227.6,629.4 228.4,629.9 229.3,631.0 230.3,631.2 230.6,630.7 231.2,631.0 232.1,630.7 233.0,629.6 233.6,630.5 233.9,630.6 234.9,633.6 235.6,636.1 235.8,636.1 236.7,638.4 237.6,640.7 237.6,640.7" fill="none" stroke="#111" stroke-width="1.5" stroke-linejoin="round"/>
<path d="M215.5,640.7 215.5,640.7 216.4,636.4 217.3,631.0 218.0,629.0 218.2,626.1 219.2,612.9 220.0,603.0 220.1,600.3 221.0,594.6 221.9,605.2 222.5,610.3 222.9,614.8 223.8,624.7 224.0,626.3 224.7,628.7 225.5,633.5 225.6,633.1 226.6,634.2 227.5,634.3 228.4,635.2 229.3,635.9 229.6,635.7 230.3,636.1 231.2,636.6 232.1,636.8 233.0,637.1 233.9,637.8 234.6,637.9 234.9,638.0 235.8,638.8 236.7,639.9 237.6,640.7 237.6,640.7" fill="none" stroke="#9c0f3c" stroke-width="1.75" stroke-linejoin="round"/>
<path d="M220.9,640.7 220.9,640.7 221.2,625.6 221.4,616.8 221.5,613.7 221.8,601.2 221.9,597.6 222.1,597.6 222.4,604.7 222.7,613.5 222.9,615.0 223.0,617.6 223.3,620.7 223.6,626.1 223.8,631.5 224.1,637.2 224.4,640.7 224.4,640.7" fill="none" stroke="#a0103a" stroke-width="1.8" stroke-linejoin="round" stroke-dasharray="3.2,2.0"/>
<path d="M220.0,640.7 220.0,640.7 220.3,626.4 220.5,615.7 220.6,612.6 220.9,601.4 221.0,597.8 221.2,600.2 221.5,603.9 221.8,613.4 222.0,615.9 222.1,616.5 222.4,620.0 222.7,626.5 222.9,631.9 223.2,637.4 223.5,640.7 223.5,640.7" fill="none" stroke="#300810" stroke-width="1.8" stroke-linejoin="round" stroke-dasharray="3.2,2.0"/>
<path d="M194.30,617.24 H224.04 V619.64 H244.70" stroke="#111" stroke-width="1.0" fill="none"/>
<rect x="194.30" y="590.54" width="50.40" height="50.20" fill="none" stroke="#000" stroke-width="1.7" />
<path d="M193.45,640.74 h-2.20 M193.45,637.15 h-1.40 M193.45,633.57 h-1.40 M193.45,629.98 h-2.20 M193.45,626.40 h-1.40 M193.45,622.81 h-1.40 M193.45,619.23 h-2.20 M193.45,615.64 h-1.40 M193.45,612.05 h-1.40 M193.45,608.47 h-2.20 M193.45,604.88 h-1.40 M193.45,601.30 h-1.40 M193.45,597.71 h-2.20 M193.45,594.13 h-1.40 M193.45,590.54 h-1.40 M194.30,641.59 v2.20 M197.90,641.59 v1.40 M201.50,641.59 v1.40 M205.10,641.59 v2.20 M208.70,641.59 v1.40 M212.30,641.59 v1.40 M215.90,641.59 v2.20 M219.50,641.59 v1.40 M223.10,641.59 v1.40 M226.70,641.59 v2.20 M230.30,641.59 v1.40 M233.90,641.59 v1.40 M237.50,641.59 v2.20 M241.10,641.59 v1.40 M244.70,641.59 v1.40" stroke="#000" stroke-width="0.8" fill="none"/>
<text x="197.60" y="601.12" font-size="6.6" font-weight="normal" text-anchor="start" fill="#3a3a3a" font-style="normal" stroke="#3a3a3a" stroke-width="0.18" >0.74</text>
<text x="242.30" y="598.19" font-size="6.8" font-weight="bold" text-anchor="end" fill="#111" font-style="normal" stroke="#111" stroke-width="0.12" >47%</text>
<text x="242.30" y="605.89" font-size="6.8" font-weight="bold" text-anchor="end" fill="#b0204a" font-style="normal" stroke="#b0204a" stroke-width="0.12" >25%</text>
<text x="196.10" y="632.09" font-size="6.8" font-weight="bold" text-anchor="start" fill="#111" font-style="normal" stroke="#111" stroke-width="0.12" >53%</text>
<text x="196.10" y="638.89" font-size="6.8" font-weight="bold" text-anchor="start" fill="#b0204a" font-style="normal" stroke="#b0204a" stroke-width="0.12" >75%</text>
<text x="61.00" y="660.14" font-size="6.6" font-weight="bold" text-anchor="end" fill="#111" font-style="normal" stroke="#111" stroke-width="0.12" >Colo320</text>
<text x="61.00" y="670.34" font-size="6.6" font-weight="normal" text-anchor="end" fill="#332c2c" font-style="normal" stroke="#332c2c" stroke-width="0.18" >R248W</text>
<rect x="67.20" y="649.96" width="50.40" height="50.20" fill="#fff" stroke="none" stroke-width="1" />
<line x1="74.76" y1="649.96" x2="74.76" y2="700.16" stroke="#c4c4c4" stroke-width="0.9" />
<line x1="89.22" y1="649.96" x2="89.22" y2="700.16" stroke="#c4c4c4" stroke-width="0.9" />
<line x1="103.79" y1="649.96" x2="103.79" y2="700.16" stroke="#c4c4c4" stroke-width="0.9" />
<g style="isolation:isolate">
<path d="M96.4,700.2 96.4,700.2 97.4,698.9 98.3,696.8 99.0,696.4 99.3,695.5 100.2,692.1 101.2,688.0 101.5,688.1 102.1,683.3 103.1,674.7 103.5,673.5 104.0,667.8 105.0,658.0 105.0,657.5 105.9,657.8 106.0,655.1 106.9,661.6 107.5,666.0 107.8,667.1 108.8,678.0 109.5,684.8 109.7,685.9 110.7,692.2 111.6,697.6 111.6,697.7 112.6,700.2 112.6,700.2 Z" fill="#a8a8a8" stroke="none" stroke-width="1.0" stroke-linejoin="round"/>
<path d="M96.4,700.2 96.4,700.2 97.4,698.8 98.3,697.1 99.0,696.3 99.3,695.7 100.2,691.6 101.2,688.0 101.5,687.3 102.1,684.8 103.1,680.0 103.5,679.1 104.0,675.5 105.0,672.6 105.5,669.8 105.9,670.4 106.9,673.8 107.0,673.5 107.8,677.9 108.8,683.8 109.0,685.3 109.7,688.5 110.7,694.6 111.0,696.0 111.6,697.7 112.6,700.2 112.6,700.2 Z" fill="#ee8099" stroke="none" stroke-width="1.0" stroke-linejoin="round" style="mix-blend-mode:multiply"/>
</g>
<path d="M96.4,700.2 96.4,700.2 97.4,698.9 98.3,696.8 99.0,696.4 99.3,695.5 100.2,692.1 101.2,688.0 101.5,688.1 102.1,683.3 103.1,674.7 103.5,673.5 104.0,667.8 105.0,658.0 105.0,657.5 105.9,657.8 106.0,655.1 106.9,661.6 107.5,666.0 107.8,667.1 108.8,678.0 109.5,684.8 109.7,685.9 110.7,692.2 111.6,697.6 111.6,697.7 112.6,700.2 112.6,700.2" fill="none" stroke="#111" stroke-width="1.5" stroke-linejoin="round"/>
<path d="M96.4,700.2 96.4,700.2 97.4,698.8 98.3,697.1 99.0,696.3 99.3,695.7 100.2,691.6 101.2,688.0 101.5,687.3 102.1,684.8 103.1,680.0 103.5,679.1 104.0,675.5 105.0,672.6 105.5,669.8 105.9,670.4 106.9,673.8 107.0,673.5 107.8,677.9 108.8,683.8 109.0,685.3 109.7,688.5 110.7,694.6 111.0,696.0 111.6,697.7 112.6,700.2 112.6,700.2" fill="none" stroke="#9c0f3c" stroke-width="1.75" stroke-linejoin="round"/>
<path d="M90.8,700.2 90.8,700.2 91.3,694.4 91.8,686.9 92.3,680.0 92.8,672.5 93.3,659.6 93.6,655.8 93.8,661.3 94.3,672.8 94.8,681.1 95.3,683.7 95.8,690.2 96.3,696.2 96.8,700.2 96.8,700.2" fill="none" stroke="#a0103a" stroke-width="1.8" stroke-linejoin="round" stroke-dasharray="3.2,2.0"/>
<path d="M89.9,700.2 89.9,700.2 90.4,694.7 90.9,686.9 91.4,680.8 91.9,672.7 92.4,658.6 92.7,657.7 92.9,661.6 93.4,672.2 93.9,680.2 94.4,684.2 94.9,690.0 95.4,696.3 95.9,700.2 95.9,700.2" fill="none" stroke="#300810" stroke-width="1.8" stroke-linejoin="round" stroke-dasharray="3.2,2.0"/>
<rect x="67.20" y="649.96" width="50.40" height="50.20" fill="none" stroke="#000" stroke-width="1.7" />
<path d="M66.35,700.16 h-2.20 M66.35,696.57 h-1.40 M66.35,692.99 h-1.40 M66.35,689.40 h-2.20 M66.35,685.82 h-1.40 M66.35,682.23 h-1.40 M66.35,678.65 h-2.20 M66.35,675.06 h-1.40 M66.35,671.47 h-1.40 M66.35,667.89 h-2.20 M66.35,664.30 h-1.40 M66.35,660.72 h-1.40 M66.35,657.13 h-2.20 M66.35,653.55 h-1.40 M66.35,649.96 h-1.40 M67.20,701.01 v2.20 M70.80,701.01 v1.40 M74.40,701.01 v1.40 M78.00,701.01 v2.20 M81.60,701.01 v1.40 M85.20,701.01 v1.40 M88.80,701.01 v2.20 M92.40,701.01 v1.40 M96.00,701.01 v1.40 M99.60,701.01 v2.20 M103.20,701.01 v1.40 M106.80,701.01 v1.40 M110.40,701.01 v2.20 M114.00,701.01 v1.40 M117.60,701.01 v1.40" stroke="#000" stroke-width="0.8" fill="none"/>
<text x="70.50" y="660.54" font-size="6.6" font-weight="normal" text-anchor="start" fill="#3a3a3a" font-style="normal" stroke="#3a3a3a" stroke-width="0.18" >0.97</text>
<rect x="130.40" y="649.96" width="50.40" height="50.20" fill="#fff" stroke="none" stroke-width="1" />
<line x1="137.96" y1="649.96" x2="137.96" y2="700.16" stroke="#c4c4c4" stroke-width="0.9" />
<line x1="152.42" y1="649.96" x2="152.42" y2="700.16" stroke="#c4c4c4" stroke-width="0.9" />
<line x1="166.99" y1="649.96" x2="166.99" y2="700.16" stroke="#c4c4c4" stroke-width="0.9" />
<g style="isolation:isolate">
<path d="M160.6,700.2 160.6,700.2 161.6,698.5 162.5,696.0 163.2,695.2 163.5,694.6 164.4,688.9 165.3,683.8 165.7,682.8 166.3,679.4 167.2,667.5 167.7,665.2 168.2,664.4 169.1,659.0 169.2,658.2 170.0,663.7 170.7,669.1 171.0,670.6 171.9,680.6 172.7,688.1 172.9,688.6 173.8,694.5 174.8,700.2 174.8,700.2 Z" fill="#a8a8a8" stroke="none" stroke-width="1.0" stroke-linejoin="round"/>
<path d="M153.6,700.2 153.6,700.2 154.5,690.9 155.1,685.6 155.5,683.8 156.4,678.1 156.6,677.6 157.3,677.1 158.1,674.8 158.3,674.8 159.2,678.2 159.6,678.2 160.1,677.9 161.1,676.4 161.6,674.9 162.0,674.5 162.9,679.9 163.2,679.0 163.9,679.6 164.7,681.0 164.8,680.7 165.8,682.0 166.7,680.9 167.6,684.0 168.6,684.7 168.7,685.2 169.5,688.2 170.4,692.2 170.7,693.0 171.4,694.0 172.3,697.9 173.2,700.2 173.2,700.2 Z" fill="#ee8099" stroke="none" stroke-width="1.0" stroke-linejoin="round" style="mix-blend-mode:multiply"/>
</g>
<path d="M160.6,700.2 160.6,700.2 161.6,698.5 162.5,696.0 163.2,695.2 163.5,694.6 164.4,688.9 165.3,683.8 165.7,682.8 166.3,679.4 167.2,667.5 167.7,665.2 168.2,664.4 169.1,659.0 169.2,658.2 170.0,663.7 170.7,669.1 171.0,670.6 171.9,680.6 172.7,688.1 172.9,688.6 173.8,694.5 174.8,700.2 174.8,700.2" fill="none" stroke="#111" stroke-width="1.5" stroke-linejoin="round"/>
<path d="M153.6,700.2 153.6,700.2 154.5,690.9 155.1,685.6 155.5,683.8 156.4,678.1 156.6,677.6 157.3,677.1 158.1,674.8 158.3,674.8 159.2,678.2 159.6,678.2 160.1,677.9 161.1,676.4 161.6,674.9 162.0,674.5 162.9,679.9 163.2,679.0 163.9,679.6 164.7,681.0 164.8,680.7 165.8,682.0 166.7,680.9 167.6,684.0 168.6,684.7 168.7,685.2 169.5,688.2 170.4,692.2 170.7,693.0 171.4,694.0 172.3,697.9 173.2,700.2 173.2,700.2" fill="none" stroke="#9c0f3c" stroke-width="1.75" stroke-linejoin="round"/>
<path d="M154.5,700.2 154.5,700.2 154.9,684.2 155.0,681.3 155.2,675.3 155.6,665.8 156.0,656.4 156.0,658.2 156.4,663.5 156.8,675.1 157.0,679.9 157.1,681.6 157.5,683.9 157.9,689.2 158.3,693.6 158.6,697.5 159.0,700.2 159.0,700.2" fill="none" stroke="#a0103a" stroke-width="1.8" stroke-linejoin="round" stroke-dasharray="3.2,2.0"/>
<path d="M153.6,700.2 153.6,700.2 154.0,684.1 154.1,680.6 154.3,676.7 154.7,665.8 155.1,656.7 155.1,656.7 155.5,664.6 155.9,675.2 156.1,679.6 156.2,681.5 156.6,684.7 157.0,688.9 157.4,693.8 157.7,697.5 158.1,700.2 158.1,700.2" fill="none" stroke="#300810" stroke-width="1.8" stroke-linejoin="round" stroke-dasharray="3.2,2.0"/>
<rect x="130.40" y="649.96" width="50.40" height="50.20" fill="none" stroke="#000" stroke-width="1.7" />
<path d="M129.55,700.16 h-2.20 M129.55,696.57 h-1.40 M129.55,692.99 h-1.40 M129.55,689.40 h-2.20 M129.55,685.82 h-1.40 M129.55,682.23 h-1.40 M129.55,678.65 h-2.20 M129.55,675.06 h-1.40 M129.55,671.47 h-1.40 M129.55,667.89 h-2.20 M129.55,664.30 h-1.40 M129.55,660.72 h-1.40 M129.55,657.13 h-2.20 M129.55,653.55 h-1.40 M129.55,649.96 h-1.40 M130.40,701.01 v2.20 M134.00,701.01 v1.40 M137.60,701.01 v1.40 M141.20,701.01 v2.20 M144.80,701.01 v1.40 M148.40,701.01 v1.40 M152.00,701.01 v2.20 M155.60,701.01 v1.40 M159.20,701.01 v1.40 M162.80,701.01 v2.20 M166.40,701.01 v1.40 M170.00,701.01 v1.40 M173.60,701.01 v2.20 M177.20,701.01 v1.40 M180.80,701.01 v1.40" stroke="#000" stroke-width="0.8" fill="none"/>
<text x="133.70" y="660.54" font-size="6.6" font-weight="normal" text-anchor="start" fill="#3a3a3a" font-style="normal" stroke="#3a3a3a" stroke-width="0.18" >0.34</text>
<rect x="194.30" y="649.96" width="50.40" height="50.20" fill="#fff" stroke="none" stroke-width="1" />
<line x1="201.86" y1="649.96" x2="201.86" y2="700.16" stroke="#c4c4c4" stroke-width="0.9" />
<line x1="216.32" y1="649.96" x2="216.32" y2="700.16" stroke="#c4c4c4" stroke-width="0.9" />
<line x1="230.89" y1="649.96" x2="230.89" y2="700.16" stroke="#c4c4c4" stroke-width="0.9" />
<g style="isolation:isolate">
<path d="M225.5,700.2 225.5,700.2 226.4,697.1 227.3,693.4 227.6,692.7 228.2,688.8 229.1,680.9 229.6,678.8 230.0,674.4 230.9,664.4 231.1,665.7 231.8,660.5 232.6,657.1 232.7,656.8 233.6,663.8 234.1,666.9 234.5,672.4 235.4,682.8 236.1,688.2 236.3,688.1 237.2,694.9 238.1,700.2 238.1,700.2 Z" fill="#a8a8a8" stroke="none" stroke-width="1.0" stroke-linejoin="round"/>
<path d="M217.0,700.2 217.0,700.2 217.9,687.2 218.5,680.2 218.8,676.7 219.5,662.7 219.7,662.9 220.6,668.0 221.0,671.6 221.6,671.4 222.5,673.3 223.0,675.2 223.4,674.6 224.3,676.1 225.0,675.3 225.2,675.4 226.1,679.8 227.1,681.1 228.0,683.5 228.9,685.4 229.1,686.7 229.8,685.6 230.7,685.5 231.1,684.9 231.6,686.0 232.6,688.1 233.5,690.6 233.6,690.6 234.4,692.9 235.3,695.6 235.6,696.3 236.2,697.5 237.1,700.2 237.1,700.2 Z" fill="#ee8099" stroke="none" stroke-width="1.0" stroke-linejoin="round" style="mix-blend-mode:multiply"/>
</g>
<path d="M225.5,700.2 225.5,700.2 226.4,697.1 227.3,693.4 227.6,692.7 228.2,688.8 229.1,680.9 229.6,678.8 230.0,674.4 230.9,664.4 231.1,665.7 231.8,660.5 232.6,657.1 232.7,656.8 233.6,663.8 234.1,666.9 234.5,672.4 235.4,682.8 236.1,688.2 236.3,688.1 237.2,694.9 238.1,700.2 238.1,700.2" fill="none" stroke="#111" stroke-width="1.5" stroke-linejoin="round"/>
<path d="M217.0,700.2 217.0,700.2 217.9,687.2 218.5,680.2 218.8,676.7 219.5,662.7 219.7,662.9 220.6,668.0 221.0,671.6 221.6,671.4 222.5,673.3 223.0,675.2 223.4,674.6 224.3,676.1 225.0,675.3 225.2,675.4 226.1,679.8 227.1,681.1 228.0,683.5 228.9,685.4 229.1,686.7 229.8,685.6 230.7,685.5 231.1,684.9 231.6,686.0 232.6,688.1 233.5,690.6 233.6,690.6 234.4,692.9 235.3,695.6 235.6,696.3 236.2,697.5 237.1,700.2 237.1,700.2" fill="none" stroke="#9c0f3c" stroke-width="1.75" stroke-linejoin="round"/>
<path d="M218.4,700.2 218.4,700.2 218.8,684.5 218.9,680.7 219.1,676.1 219.5,664.8 219.9,657.7 219.9,656.2 220.3,664.8 220.7,675.3 220.9,680.9 221.0,681.6 221.4,683.9 221.8,688.3 222.2,693.5 222.5,697.6 222.9,700.2 222.9,700.2" fill="none" stroke="#a0103a" stroke-width="1.8" stroke-linejoin="round" stroke-dasharray="3.2,2.0"/>
<path d="M217.5,700.2 217.5,700.2 217.9,684.1 218.0,681.4 218.2,676.6 218.6,666.9 219.0,658.2 219.0,655.6 219.4,666.3 219.8,675.0 220.0,680.8 220.1,681.5 220.5,684.5 220.9,689.3 221.3,693.8 221.6,697.4 222.0,700.2 222.0,700.2" fill="none" stroke="#300810" stroke-width="1.8" stroke-linejoin="round" stroke-dasharray="3.2,2.0"/>
<rect x="194.30" y="649.96" width="50.40" height="50.20" fill="none" stroke="#000" stroke-width="1.7" />
<path d="M193.45,700.16 h-2.20 M193.45,696.57 h-1.40 M193.45,692.99 h-1.40 M193.45,689.40 h-2.20 M193.45,685.82 h-1.40 M193.45,682.23 h-1.40 M193.45,678.65 h-2.20 M193.45,675.06 h-1.40 M193.45,671.47 h-1.40 M193.45,667.89 h-2.20 M193.45,664.30 h-1.40 M193.45,660.72 h-1.40 M193.45,657.13 h-2.20 M193.45,653.55 h-1.40 M193.45,649.96 h-1.40 M194.30,701.01 v2.20 M197.90,701.01 v1.40 M201.50,701.01 v1.40 M205.10,701.01 v2.20 M208.70,701.01 v1.40 M212.30,701.01 v1.40 M215.90,701.01 v2.20 M219.50,701.01 v1.40 M223.10,701.01 v1.40 M226.70,701.01 v2.20 M230.30,701.01 v1.40 M233.90,701.01 v1.40 M237.50,701.01 v2.20 M241.10,701.01 v1.40 M244.70,701.01 v1.40" stroke="#000" stroke-width="0.8" fill="none"/>
<text x="197.60" y="660.54" font-size="6.6" font-weight="normal" text-anchor="start" fill="#3a3a3a" font-style="normal" stroke="#3a3a3a" stroke-width="0.18" >0.29</text>
<ellipse cx="27.6" cy="559.0" rx="8.6" ry="12.4" fill="#f1ebc4" stroke="#9a9050" stroke-width="1.7"/>
<ellipse cx="27.900000000000002" cy="559.0" rx="6.2" ry="9.8" fill="#ece2b0" stroke="#d09a50" stroke-width="1.0" stroke-dasharray="1.1,0.9"/>
<ellipse cx="28.200000000000003" cy="558.0" rx="3.6" ry="6.2" fill="#d894d6"/>
<ellipse cx="36.0" cy="559.5" rx="1.4" ry="3.5" fill="#e2bcb0"/>
<circle cx="28.50" cy="573.98" r="0.9" fill="#e6b0c8"/>
<circle cx="37.72" cy="551.56" r="0.9" fill="#e48a5a"/>
<circle cx="17.39" cy="548.93" r="0.9" fill="#f0a070"/>
<circle cx="26.95" cy="572.88" r="0.9" fill="#f0a070"/>
<circle cx="16.06" cy="555.17" r="0.9" fill="#f0a070"/>
<circle cx="20.68" cy="548.58" r="0.9" fill="#d9a05a"/>
<circle cx="35.61" cy="547.98" r="0.9" fill="#e48a5a"/>
<circle cx="22.61" cy="547.30" r="0.9" fill="#e48a5a"/>
<circle cx="24.30" cy="571.49" r="0.9" fill="#e6b0c8"/>
<circle cx="15.36" cy="561.67" r="0.9" fill="#f0a070"/>
<circle cx="24.70" cy="543.03" r="0.9" fill="#f0a070"/>
<circle cx="25.95" cy="544.00" r="0.9" fill="#d9a05a"/>
<circle cx="35.30" cy="549.76" r="0.9" fill="#d9a05a"/>
<circle cx="16.51" cy="559.45" r="0.9" fill="#f0a070"/>
<circle cx="28.56" cy="550.64" r="0.8" fill="#d07050"/>
<circle cx="30.85" cy="552.29" r="0.8" fill="#d07050"/>
<circle cx="22.94" cy="563.04" r="0.8" fill="#d07050"/>
<circle cx="30.25" cy="551.64" r="0.8" fill="#d07050"/>
<circle cx="22.86" cy="555.19" r="0.8" fill="#d07050"/>
<circle cx="22.42" cy="557.19" r="0.8" fill="#d07050"/>
<circle cx="23.17" cy="563.66" r="0.8" fill="#d07050"/>
<circle cx="28.19" cy="567.45" r="0.8" fill="#d07050"/>
<circle cx="24.85" cy="566.27" r="0.8" fill="#d07050"/>
<circle cx="32.17" cy="554.71" r="0.8" fill="#d07050"/>
<text x="12.10" y="581.32" font-size="7.0" font-weight="bold" text-anchor="start" fill="#b3243f" font-style="normal" stroke="#b3243f" stroke-width="0.12" >BL</text>
<circle cx="25.9" cy="612.4" r="3.6" fill="#c4c4ec" fill-opacity="0.55"/>
<circle cx="18.3" cy="616.3" r="3.6" fill="#c4c4ec" fill-opacity="0.55"/>
<circle cx="33.7" cy="616.3" r="3.6" fill="#c4c4ec" fill-opacity="0.55"/>
<circle cx="25.9" cy="620.1" r="3.6" fill="#c4c4ec" fill-opacity="0.55"/>
<circle cx="20.1" cy="623.0" r="3.6" fill="#c4c4ec" fill-opacity="0.55"/>
<circle cx="23.8" cy="624.3" r="3.6" fill="#c4c4ec" fill-opacity="0.55"/>
<circle cx="31.0" cy="626.0" r="3.6" fill="#c4c4ec" fill-opacity="0.55"/>
<circle cx="25.9" cy="612.4" r="2.75" fill="#2a2a88"/>
<circle cx="18.3" cy="616.3" r="2.75" fill="#2a2a88"/>
<circle cx="33.7" cy="616.3" r="2.75" fill="#2a2a88"/>
<circle cx="25.9" cy="620.1" r="2.75" fill="#2a2a88"/>
<circle cx="20.1" cy="623.0" r="2.75" fill="#2a2a88"/>
<circle cx="23.8" cy="624.3" r="2.75" fill="#2a2a88"/>
<circle cx="31.0" cy="626.0" r="2.75" fill="#2a2a88"/>
<circle cx="25.099999999999998" cy="611.6" r="0.9" fill="#5a5ab8"/>
<circle cx="17.5" cy="615.5" r="0.9" fill="#5a5ab8"/>
<circle cx="32.900000000000006" cy="615.5" r="0.9" fill="#5a5ab8"/>
<circle cx="25.099999999999998" cy="619.3000000000001" r="0.9" fill="#5a5ab8"/>
<circle cx="19.3" cy="622.2" r="0.9" fill="#5a5ab8"/>
<circle cx="23.0" cy="623.5" r="0.9" fill="#5a5ab8"/>
<circle cx="30.2" cy="625.2" r="0.9" fill="#5a5ab8"/>
<text x="12.60" y="639.90" font-size="6.4" font-weight="normal" text-anchor="start" fill="#6c9e4c" font-style="normal" stroke="#6c9e4c" stroke-width="0.18" >DLBCL</text>
<path d="M16.9,684.6 C16.8,680 16.5,676 16.7,673.6 C17.2,672.4 18.2,672.3 19.5,673.2 C21.5,674.4 24,675.2 26,674.9 C28,674.6 30,673 31.6,672.4 C32.8,672 33.4,672.8 33.2,674.2 C33.0,677.5 32.6,681.5 31.4,684 C30.4,685.8 28.8,686.2 27.2,686.4 C25.8,686.6 24.6,687.6 24.5,689.0 C24.5,690.2 25.2,691.0 25.6,691.2" fill="none" stroke="#c46c7c" stroke-width="4.4" stroke-linecap="round" stroke-linejoin="round"/>
<path d="M16.9,684.6 C16.8,680 16.5,676 16.7,673.6 C17.2,672.4 18.2,672.3 19.5,673.2 C21.5,674.4 24,675.2 26,674.9 C28,674.6 30,673 31.6,672.4 C32.8,672 33.4,672.8 33.2,674.2 C33.0,677.5 32.6,681.5 31.4,684 C30.4,685.8 28.8,686.2 27.2,686.4 C25.8,686.6 24.6,687.6 24.5,689.0 C24.5,690.2 25.2,691.0 25.6,691.2" fill="none" stroke="#fbeef0" stroke-width="2.5" stroke-linecap="round" stroke-linejoin="round"/>
<text x="11.90" y="701.70" font-size="6.4" font-weight="bold" text-anchor="start" fill="#3d4f70" font-style="normal" stroke="#3d4f70" stroke-width="0.12" >CRC</text>
<path d="M65.8,709.6 H243.5" stroke="#111" stroke-width="0.9" fill="none"/>
<path d="M246,709.6 l-4.2,-1.8 v3.6 z" fill="#111"/>
<text x="154.20" y="721.43" font-size="7.3" font-weight="normal" text-anchor="middle" fill="#333" font-style="normal" stroke="#333" stroke-width="0.18" >p53</text>
<path d="M252.6,705 V652" stroke="#111" stroke-width="0.9" fill="none"/>
<path d="M252.6,649.5 l-1.8,4.2 h3.6 z" fill="#111"/>
<text transform="translate(258.3,678.6) rotate(90)" font-size="7.3" text-anchor="middle" fill="#333">norm. count</text>
<text x="279.20" y="675.98" font-size="6.6" font-weight="normal" text-anchor="start" fill="#222" font-style="normal" stroke="#222" stroke-width="0.18" >isotype</text>
<text x="279.20" y="686.38" font-size="6.6" font-weight="normal" text-anchor="start" fill="#222" font-style="normal" stroke="#222" stroke-width="0.18" >control</text>
<text x="306.20" y="675.98" font-size="6.6" font-weight="normal" text-anchor="start" fill="#222" font-style="normal" stroke="#222" stroke-width="0.18" >anti-</text>
<text x="306.20" y="686.38" font-size="6.6" font-weight="normal" text-anchor="start" fill="#222" font-style="normal" stroke="#222" stroke-width="0.18" >p53</text>
<text x="323.00" y="693.25" font-size="6.8" font-weight="normal" text-anchor="start" fill="#222" font-style="normal" stroke="#222" stroke-width="0.18" >untransduced</text>
<text x="323.00" y="702.65" font-size="6.8" font-weight="normal" text-anchor="start" fill="#222" font-style="normal" stroke="#222" stroke-width="0.18" >transduced</text>
<path d="M285.0,694.4 C288.8,694.4 289.8,688.2 291.2,688.2 C292.8,688.2 293.8,694.4 297.5,694.4" stroke="#111" stroke-width="1.3" fill="none" stroke-dasharray="2,1.5"/>
<path d="M285.0,704.2 C288.8,704.2 289.8,698.0 291.2,698.0 C292.8,698.0 293.8,704.2 297.5,704.2" stroke="#b0103a" stroke-width="1.3" fill="none" stroke-dasharray="2,1.5"/>
<path d="M306.8,694.4 C310.9,694.4 311.9,687.8 313.6,687.8 C315.2,687.8 316.2,694.4 320.3,694.4 Z" fill="#a5a5a5" stroke="#111" stroke-width="1.3"/>
<path d="M306.8,704.2 C310.9,704.2 311.9,697.6 313.6,697.6 C315.2,697.6 316.2,704.2 320.3,704.2 Z" fill="#ea8aa0" stroke="#b0103a" stroke-width="1.3"/>
<text transform="translate(277.20,159.70) scale(1.18,1)" font-size="12" font-weight="bold" fill="#000">D</text>
<text x="328.70" y="176.95" font-size="6.8" font-weight="bold" text-anchor="middle" fill="#111" font-style="normal" stroke="#111" stroke-width="0.12" >sgmCherry</text>
<text x="404.80" y="168.45" font-size="6.8" font-weight="bold" text-anchor="middle" fill="#111" font-style="normal" stroke="#111" stroke-width="0.12" >sgTRRAP</text>
<text x="404.80" y="176.88" font-size="6.6" font-weight="normal" text-anchor="middle" fill="#444" font-style="normal" stroke="#444" stroke-width="0.18" >Bru8295_2</text>
<text x="480.60" y="168.45" font-size="6.8" font-weight="bold" text-anchor="middle" fill="#111" font-style="normal" stroke="#111" stroke-width="0.12" >sgTRRAP</text>
<text x="480.60" y="176.88" font-size="6.6" font-weight="normal" text-anchor="middle" fill="#444" font-style="normal" stroke="#444" stroke-width="0.18" >Bru8295_3</text>
<rect x="296.50" y="181.10" width="64.20" height="63.90" fill="#fff" stroke="none" stroke-width="1" />
<line x1="305.87" y1="181.10" x2="305.87" y2="245.00" stroke="#c4c4c4" stroke-width="0.9" />
<line x1="324.56" y1="181.10" x2="324.56" y2="245.00" stroke="#c4c4c4" stroke-width="0.9" />
<line x1="343.17" y1="181.10" x2="343.17" y2="245.00" stroke="#c4c4c4" stroke-width="0.9" />
<g style="isolation:isolate">
<path d="M306.1,245.0 306.1,245.0 307.0,244.5 307.9,243.9 308.9,243.4 309.3,243.0 309.8,243.0 310.7,241.5 311.6,240.0 312.5,238.0 313.4,237.0 314.3,235.9 314.5,235.2 315.2,234.2 316.1,230.1 317.0,227.1 317.9,222.6 318.8,219.9 319.0,220.4 319.8,217.2 320.7,214.2 321.6,208.8 322.5,202.5 323.4,199.3 323.5,201.0 324.3,197.0 325.2,195.8 326.1,189.5 326.7,188.4 327.0,188.5 327.9,191.8 328.6,193.6 328.8,194.2 329.7,195.6 330.7,198.1 331.6,203.8 331.8,205.5 332.5,206.7 333.4,211.7 334.3,217.6 335.0,222.1 335.2,221.7 336.1,225.2 337.0,230.8 337.9,234.4 338.2,235.7 338.8,236.1 339.7,239.1 340.6,241.6 341.4,243.3 341.5,242.9 342.5,244.2 343.4,245.0 343.4,245.0 Z" fill="#a8a8a8" stroke="none" stroke-width="1.0" stroke-linejoin="round"/>
<path d="M306.1,245.0 306.1,245.0 307.0,244.6 307.9,243.8 308.9,243.3 309.3,243.2 309.8,242.6 310.7,241.8 311.6,240.0 312.5,238.7 313.4,237.0 314.3,235.5 314.5,235.7 315.2,233.8 316.1,230.6 317.0,224.9 317.9,222.0 318.8,217.8 319.0,218.5 319.8,215.9 320.7,211.7 321.6,205.8 322.5,202.8 323.4,200.2 323.5,199.2 324.3,197.4 325.2,190.9 326.0,189.2 326.1,192.4 327.0,192.2 327.9,192.2 328.6,190.4 328.8,194.9 329.7,195.8 330.7,199.4 331.6,203.4 331.8,206.3 332.5,208.4 333.4,214.1 334.3,219.8 335.0,222.5 335.2,221.9 336.1,226.7 337.0,230.8 337.9,235.1 338.2,236.0 338.8,237.1 339.7,239.3 340.6,241.8 341.4,243.1 341.5,243.0 342.5,244.2 343.4,245.0 343.4,245.0 Z" fill="#ee8099" stroke="none" stroke-width="1.0" stroke-linejoin="round" style="mix-blend-mode:multiply"/>
</g>
<path d="M306.1,245.0 306.1,245.0 307.0,244.5 307.9,243.9 308.9,243.4 309.3,243.0 309.8,243.0 310.7,241.5 311.6,240.0 312.5,238.0 313.4,237.0 314.3,235.9 314.5,235.2 315.2,234.2 316.1,230.1 317.0,227.1 317.9,222.6 318.8,219.9 319.0,220.4 319.8,217.2 320.7,214.2 321.6,208.8 322.5,202.5 323.4,199.3 323.5,201.0 324.3,197.0 325.2,195.8 326.1,189.5 326.7,188.4 327.0,188.5 327.9,191.8 328.6,193.6 328.8,194.2 329.7,195.6 330.7,198.1 331.6,203.8 331.8,205.5 332.5,206.7 333.4,211.7 334.3,217.6 335.0,222.1 335.2,221.7 336.1,225.2 337.0,230.8 337.9,234.4 338.2,235.7 338.8,236.1 339.7,239.1 340.6,241.6 341.4,243.3 341.5,242.9 342.5,244.2 343.4,245.0 343.4,245.0" fill="none" stroke="#111" stroke-width="1.4" stroke-linejoin="round"/>
<path d="M306.1,245.0 306.1,245.0 307.0,244.6 307.9,243.8 308.9,243.3 309.3,243.2 309.8,242.6 310.7,241.8 311.6,240.0 312.5,238.7 313.4,237.0 314.3,235.5 314.5,235.7 315.2,233.8 316.1,230.6 317.0,224.9 317.9,222.0 318.8,217.8 319.0,218.5 319.8,215.9 320.7,211.7 321.6,205.8 322.5,202.8 323.4,200.2 323.5,199.2 324.3,197.4 325.2,190.9 326.0,189.2 326.1,192.4 327.0,192.2 327.9,192.2 328.6,190.4 328.8,194.9 329.7,195.8 330.7,199.4 331.6,203.4 331.8,206.3 332.5,208.4 333.4,214.1 334.3,219.8 335.0,222.5 335.2,221.9 336.1,226.7 337.0,230.8 337.9,235.1 338.2,236.0 338.8,237.1 339.7,239.3 340.6,241.8 341.4,243.1 341.5,243.0 342.5,244.2 343.4,245.0 343.4,245.0" fill="none" stroke="#9c0f3c" stroke-width="1.4" stroke-linejoin="round"/>
<rect x="296.50" y="181.10" width="64.20" height="63.90" fill="none" stroke="#000" stroke-width="1.7" />
<path d="M295.65,245.00 h-2.20 M295.65,241.01 h-1.40 M295.65,237.01 h-1.40 M295.65,233.02 h-1.40 M295.65,229.03 h-2.20 M295.65,225.03 h-1.40 M295.65,221.04 h-1.40 M295.65,217.04 h-1.40 M295.65,213.05 h-2.20 M295.65,209.06 h-1.40 M295.65,205.06 h-1.40 M295.65,201.07 h-1.40 M295.65,197.07 h-2.20 M295.65,193.08 h-1.40 M295.65,189.09 h-1.40 M295.65,185.09 h-1.40 M295.65,181.10 h-2.20 M296.50,245.85 v2.20 M300.51,245.85 v1.40 M304.52,245.85 v1.40 M308.54,245.85 v1.40 M312.55,245.85 v2.20 M316.56,245.85 v1.40 M320.57,245.85 v1.40 M324.59,245.85 v1.40 M328.60,245.85 v2.20 M332.61,245.85 v1.40 M336.62,245.85 v1.40 M340.64,245.85 v1.40 M344.65,245.85 v2.20 M348.66,245.85 v1.40 M352.68,245.85 v1.40 M356.69,245.85 v1.40 M360.70,245.85 v2.20" stroke="#000" stroke-width="0.8" fill="none"/>
<text x="299.80" y="191.28" font-size="6.6" font-weight="normal" text-anchor="start" fill="#3a3a3a" font-style="normal" stroke="#3a3a3a" stroke-width="0.18" >1.09</text>
<rect x="373.10" y="181.10" width="63.40" height="63.50" fill="#fff" stroke="none" stroke-width="1" />
<line x1="382.36" y1="181.10" x2="382.36" y2="244.60" stroke="#c4c4c4" stroke-width="0.9" />
<line x1="400.81" y1="181.10" x2="400.81" y2="244.60" stroke="#c4c4c4" stroke-width="0.9" />
<line x1="419.19" y1="181.10" x2="419.19" y2="244.60" stroke="#c4c4c4" stroke-width="0.9" />
<g style="isolation:isolate">
<path d="M379.4,244.6 379.4,244.6 380.3,244.1 381.3,243.5 382.2,242.8 383.1,242.2 384.0,241.6 384.5,241.3 384.9,241.3 385.8,240.2 386.7,238.7 387.6,236.7 388.5,236.1 389.0,235.1 389.4,234.7 390.3,232.1 391.2,230.6 392.1,228.4 392.1,228.3 393.1,227.1 394.0,224.1 394.9,221.3 395.3,220.8 395.8,219.8 396.7,216.0 397.6,213.0 398.5,208.7 398.5,211.2 399.4,209.4 400.3,204.7 401.2,202.1 401.6,200.6 402.1,199.1 403.0,199.2 403.9,194.7 404.8,192.7 404.9,195.0 405.8,196.1 406.1,199.1 406.7,196.2 407.6,192.3 408.0,189.5 408.5,192.9 409.4,193.9 409.9,196.6 410.3,197.9 411.2,205.1 412.1,212.5 412.4,214.4 413.0,216.2 413.9,222.3 414.8,228.5 414.9,229.0 415.8,232.1 416.7,238.0 417.5,241.6 417.6,241.6 418.5,243.3 419.4,244.6 419.4,244.6 Z" fill="#a8a8a8" stroke="none" stroke-width="1.0" stroke-linejoin="round"/>
<path d="M376.3,244.6 376.3,244.6 377.2,244.2 378.1,243.4 379.0,243.0 379.4,242.8 379.9,242.4 380.8,242.3 381.7,241.6 382.6,241.3 382.6,241.4 383.5,240.5 384.4,238.7 385.3,238.0 385.8,236.8 386.2,236.5 387.1,232.8 388.0,229.7 388.9,227.7 389.0,227.7 389.8,223.7 390.7,220.0 391.5,217.6 391.6,216.5 392.5,212.1 393.4,207.1 393.4,206.9 394.3,204.8 395.2,201.9 395.3,203.5 396.2,200.0 397.1,200.1 397.2,200.0 398.0,201.3 398.9,206.5 399.1,205.8 399.8,206.2 400.7,210.7 401.0,209.6 401.6,210.6 402.5,209.1 402.9,208.1 403.4,209.5 404.3,205.2 404.8,205.5 405.2,205.8 406.1,203.5 407.0,203.2 407.3,199.8 407.9,204.4 408.8,205.2 409.2,206.2 409.7,208.1 410.6,211.3 411.1,214.7 411.5,216.1 412.4,220.4 413.3,226.2 413.7,227.2 414.2,229.0 415.1,233.8 416.0,238.0 416.2,238.7 416.9,239.9 417.8,242.8 418.7,244.6 418.7,244.6 Z" fill="#ee8099" stroke="none" stroke-width="1.0" stroke-linejoin="round" style="mix-blend-mode:multiply"/>
</g>
<path d="M379.4,244.6 379.4,244.6 380.3,244.1 381.3,243.5 382.2,242.8 383.1,242.2 384.0,241.6 384.5,241.3 384.9,241.3 385.8,240.2 386.7,238.7 387.6,236.7 388.5,236.1 389.0,235.1 389.4,234.7 390.3,232.1 391.2,230.6 392.1,228.4 392.1,228.3 393.1,227.1 394.0,224.1 394.9,221.3 395.3,220.8 395.8,219.8 396.7,216.0 397.6,213.0 398.5,208.7 398.5,211.2 399.4,209.4 400.3,204.7 401.2,202.1 401.6,200.6 402.1,199.1 403.0,199.2 403.9,194.7 404.8,192.7 404.9,195.0 405.8,196.1 406.1,199.1 406.7,196.2 407.6,192.3 408.0,189.5 408.5,192.9 409.4,193.9 409.9,196.6 410.3,197.9 411.2,205.1 412.1,212.5 412.4,214.4 413.0,216.2 413.9,222.3 414.8,228.5 414.9,229.0 415.8,232.1 416.7,238.0 417.5,241.6 417.6,241.6 418.5,243.3 419.4,244.6 419.4,244.6" fill="none" stroke="#111" stroke-width="1.4" stroke-linejoin="round"/>
<path d="M376.3,244.6 376.3,244.6 377.2,244.2 378.1,243.4 379.0,243.0 379.4,242.8 379.9,242.4 380.8,242.3 381.7,241.6 382.6,241.3 382.6,241.4 383.5,240.5 384.4,238.7 385.3,238.0 385.8,236.8 386.2,236.5 387.1,232.8 388.0,229.7 388.9,227.7 389.0,227.7 389.8,223.7 390.7,220.0 391.5,217.6 391.6,216.5 392.5,212.1 393.4,207.1 393.4,206.9 394.3,204.8 395.2,201.9 395.3,203.5 396.2,200.0 397.1,200.1 397.2,200.0 398.0,201.3 398.9,206.5 399.1,205.8 399.8,206.2 400.7,210.7 401.0,209.6 401.6,210.6 402.5,209.1 402.9,208.1 403.4,209.5 404.3,205.2 404.8,205.5 405.2,205.8 406.1,203.5 407.0,203.2 407.3,199.8 407.9,204.4 408.8,205.2 409.2,206.2 409.7,208.1 410.6,211.3 411.1,214.7 411.5,216.1 412.4,220.4 413.3,226.2 413.7,227.2 414.2,229.0 415.1,233.8 416.0,238.0 416.2,238.7 416.9,239.9 417.8,242.8 418.7,244.6 418.7,244.6" fill="none" stroke="#9c0f3c" stroke-width="1.4" stroke-linejoin="round"/>
<rect x="373.10" y="181.10" width="63.40" height="63.50" fill="none" stroke="#000" stroke-width="1.7" />
<path d="M372.25,244.60 h-2.20 M372.25,240.63 h-1.40 M372.25,236.66 h-1.40 M372.25,232.69 h-1.40 M372.25,228.72 h-2.20 M372.25,224.76 h-1.40 M372.25,220.79 h-1.40 M372.25,216.82 h-1.40 M372.25,212.85 h-2.20 M372.25,208.88 h-1.40 M372.25,204.91 h-1.40 M372.25,200.94 h-1.40 M372.25,196.97 h-2.20 M372.25,193.01 h-1.40 M372.25,189.04 h-1.40 M372.25,185.07 h-1.40 M372.25,181.10 h-2.20 M373.10,245.45 v2.20 M377.06,245.45 v1.40 M381.03,245.45 v1.40 M384.99,245.45 v1.40 M388.95,245.45 v2.20 M392.91,245.45 v1.40 M396.88,245.45 v1.40 M400.84,245.45 v1.40 M404.80,245.45 v2.20 M408.76,245.45 v1.40 M412.73,245.45 v1.40 M416.69,245.45 v1.40 M420.65,245.45 v2.20 M424.61,245.45 v1.40 M428.57,245.45 v1.40 M432.54,245.45 v1.40 M436.50,245.45 v2.20" stroke="#000" stroke-width="0.8" fill="none"/>
<text x="376.40" y="191.28" font-size="6.6" font-weight="normal" text-anchor="start" fill="#3a3a3a" font-style="normal" stroke="#3a3a3a" stroke-width="0.18" >0.67</text>
<rect x="448.80" y="181.10" width="63.70" height="63.50" fill="#fff" stroke="none" stroke-width="1" />
<line x1="458.10" y1="181.10" x2="458.10" y2="244.60" stroke="#c4c4c4" stroke-width="0.9" />
<line x1="476.64" y1="181.10" x2="476.64" y2="244.60" stroke="#c4c4c4" stroke-width="0.9" />
<line x1="495.11" y1="181.10" x2="495.11" y2="244.60" stroke="#c4c4c4" stroke-width="0.9" />
<g style="isolation:isolate">
<path d="M456.4,244.6 456.4,244.6 457.3,244.3 458.3,243.5 459.2,242.7 460.1,242.1 461.0,241.6 461.5,241.6 461.9,241.0 462.8,240.5 463.7,238.7 464.6,237.3 465.5,236.8 466.4,235.9 466.6,235.0 467.3,234.8 468.2,232.6 469.1,229.5 470.0,227.7 470.9,226.2 471.1,226.4 471.8,223.2 472.7,220.8 473.6,218.8 474.3,216.8 474.5,217.1 475.4,212.7 476.3,209.3 477.2,206.1 477.5,204.5 478.1,204.7 479.0,198.4 479.9,194.7 480.6,196.3 480.8,194.8 481.7,194.2 482.6,188.8 482.6,192.7 483.6,193.3 484.5,195.8 485.1,197.9 485.4,196.4 486.3,202.5 487.2,208.9 488.1,211.4 488.3,212.4 489.0,215.0 489.9,222.6 490.8,227.3 490.8,227.5 491.7,230.8 492.6,236.1 493.4,239.3 493.5,239.8 494.4,242.1 495.3,244.6 495.3,244.6 Z" fill="#a8a8a8" stroke="none" stroke-width="1.0" stroke-linejoin="round"/>
<path d="M452.0,244.6 452.0,244.6 452.9,244.3 453.8,244.0 454.7,243.5 455.6,243.2 456.4,242.7 456.5,242.7 457.4,242.0 458.3,241.4 459.2,240.3 460.2,239.3 461.1,238.5 461.5,237.9 462.0,237.8 462.9,235.5 463.8,233.5 464.7,232.1 464.7,232.3 465.6,229.0 466.5,224.9 467.3,221.7 467.4,221.8 468.3,215.3 469.2,210.9 469.2,211.6 470.1,207.4 471.1,200.9 471.1,202.2 472.0,200.3 472.9,200.4 473.3,201.0 473.8,200.0 474.7,206.4 474.9,206.5 475.6,207.5 476.2,210.7 476.5,210.5 477.4,211.1 478.3,211.7 478.7,213.0 479.2,212.4 480.1,214.3 480.6,212.4 481.0,213.0 482.0,214.3 482.9,213.7 483.2,216.1 483.8,216.3 484.7,220.3 485.6,221.9 485.7,222.6 486.5,223.7 487.4,227.3 488.3,230.2 488.9,231.4 489.2,232.9 490.1,234.7 491.0,238.3 491.9,240.9 492.1,241.1 492.8,241.7 493.8,243.3 494.7,244.6 494.7,244.6 Z" fill="#ee8099" stroke="none" stroke-width="1.0" stroke-linejoin="round" style="mix-blend-mode:multiply"/>
</g>
<path d="M456.4,244.6 456.4,244.6 457.3,244.3 458.3,243.5 459.2,242.7 460.1,242.1 461.0,241.6 461.5,241.6 461.9,241.0 462.8,240.5 463.7,238.7 464.6,237.3 465.5,236.8 466.4,235.9 466.6,235.0 467.3,234.8 468.2,232.6 469.1,229.5 470.0,227.7 470.9,226.2 471.1,226.4 471.8,223.2 472.7,220.8 473.6,218.8 474.3,216.8 474.5,217.1 475.4,212.7 476.3,209.3 477.2,206.1 477.5,204.5 478.1,204.7 479.0,198.4 479.9,194.7 480.6,196.3 480.8,194.8 481.7,194.2 482.6,188.8 482.6,192.7 483.6,193.3 484.5,195.8 485.1,197.9 485.4,196.4 486.3,202.5 487.2,208.9 488.1,211.4 488.3,212.4 489.0,215.0 489.9,222.6 490.8,227.3 490.8,227.5 491.7,230.8 492.6,236.1 493.4,239.3 493.5,239.8 494.4,242.1 495.3,244.6 495.3,244.6" fill="none" stroke="#111" stroke-width="1.4" stroke-linejoin="round"/>
<path d="M452.0,244.6 452.0,244.6 452.9,244.3 453.8,244.0 454.7,243.5 455.6,243.2 456.4,242.7 456.5,242.7 457.4,242.0 458.3,241.4 459.2,240.3 460.2,239.3 461.1,238.5 461.5,237.9 462.0,237.8 462.9,235.5 463.8,233.5 464.7,232.1 464.7,232.3 465.6,229.0 466.5,224.9 467.3,221.7 467.4,221.8 468.3,215.3 469.2,210.9 469.2,211.6 470.1,207.4 471.1,200.9 471.1,202.2 472.0,200.3 472.9,200.4 473.3,201.0 473.8,200.0 474.7,206.4 474.9,206.5 475.6,207.5 476.2,210.7 476.5,210.5 477.4,211.1 478.3,211.7 478.7,213.0 479.2,212.4 480.1,214.3 480.6,212.4 481.0,213.0 482.0,214.3 482.9,213.7 483.2,216.1 483.8,216.3 484.7,220.3 485.6,221.9 485.7,222.6 486.5,223.7 487.4,227.3 488.3,230.2 488.9,231.4 489.2,232.9 490.1,234.7 491.0,238.3 491.9,240.9 492.1,241.1 492.8,241.7 493.8,243.3 494.7,244.6 494.7,244.6" fill="none" stroke="#9c0f3c" stroke-width="1.4" stroke-linejoin="round"/>
<rect x="448.80" y="181.10" width="63.70" height="63.50" fill="none" stroke="#000" stroke-width="1.7" />
<path d="M447.95,244.60 h-2.20 M447.95,240.63 h-1.40 M447.95,236.66 h-1.40 M447.95,232.69 h-1.40 M447.95,228.72 h-2.20 M447.95,224.76 h-1.40 M447.95,220.79 h-1.40 M447.95,216.82 h-1.40 M447.95,212.85 h-2.20 M447.95,208.88 h-1.40 M447.95,204.91 h-1.40 M447.95,200.94 h-1.40 M447.95,196.97 h-2.20 M447.95,193.01 h-1.40 M447.95,189.04 h-1.40 M447.95,185.07 h-1.40 M447.95,181.10 h-2.20 M448.80,245.45 v2.20 M452.78,245.45 v1.40 M456.76,245.45 v1.40 M460.74,245.45 v1.40 M464.73,245.45 v2.20 M468.71,245.45 v1.40 M472.69,245.45 v1.40 M476.67,245.45 v1.40 M480.65,245.45 v2.20 M484.63,245.45 v1.40 M488.61,245.45 v1.40 M492.59,245.45 v1.40 M496.57,245.45 v2.20 M500.56,245.45 v1.40 M504.54,245.45 v1.40 M508.52,245.45 v1.40 M512.50,245.45 v2.20" stroke="#000" stroke-width="0.8" fill="none"/>
<text x="452.10" y="191.28" font-size="6.6" font-weight="normal" text-anchor="start" fill="#3a3a3a" font-style="normal" stroke="#3a3a3a" stroke-width="0.18" >0.51</text>
<path d="M290.5,251.3 H331.5" stroke="#111" stroke-width="0.9" fill="none"/>
<path d="M334.0,251.3 l-4.2,-1.8 v3.6 z" fill="#111"/>
<path d="M290.5,251.3 V211.2" stroke="#111" stroke-width="0.9" fill="none"/>
<path d="M290.5,208.7 l-1.8,4.2 h3.6 z" fill="#111"/>
<text transform="translate(284.9,230.60) rotate(-90)" font-size="7.4" text-anchor="middle" fill="#333" stroke="#333" stroke-width="0.18">norm. count</text>
<text x="310.90" y="261.61" font-size="7.8" font-weight="normal" text-anchor="middle" fill="#333" font-style="normal" stroke="#333" stroke-width="0.18" >p53</text>
<text x="405.50" y="258.48" font-size="6.9" font-weight="bold" text-anchor="middle" fill="#111" font-style="normal" stroke="#111" stroke-width="0.12" >Namalwa-Cas9</text>
<text x="512.30" y="258.52" font-size="7.0" font-weight="normal" text-anchor="end" fill="#444" font-style="normal" stroke="#444" stroke-width="0.18" >untransduced</text>
<text x="512.30" y="264.92" font-size="7.0" font-weight="normal" text-anchor="end" fill="#b0204a" font-style="normal" stroke="#b0204a" stroke-width="0.18" >transduced</text>
<text transform="translate(277.80,283.20) scale(1.18,1)" font-size="12" font-weight="bold" fill="#000">E</text>
<rect x="296.60" y="285.60" width="62.70" height="63.50" fill="#fff" stroke="none" stroke-width="1" />
<line x1="305.70" y1="285.60" x2="305.70" y2="349.10" stroke="#c4c4c4" stroke-width="0.9" />
<line x1="324.00" y1="285.60" x2="324.00" y2="349.10" stroke="#c4c4c4" stroke-width="0.9" />
<line x1="342.50" y1="285.60" x2="342.50" y2="349.10" stroke="#c4c4c4" stroke-width="0.9" />
<path d="M315.4,349.1 315.4,349.1 316.3,348.4 317.3,347.6 318.2,346.5 319.1,345.6 320.0,344.7 320.9,344.1 321.1,344.5 321.9,343.8 322.8,343.3 323.7,342.1 324.6,341.4 325.6,340.8 326.1,341.0 326.5,341.1 327.4,339.7 328.3,339.1 329.3,338.0 330.2,337.1 330.5,337.9 331.1,335.8 332.0,332.3 332.9,329.4 333.0,329.1 333.9,324.7 334.8,320.5 335.5,317.4 335.7,318.6 336.6,312.8 337.6,306.2 338.0,302.1 338.5,299.5 339.4,294.4 339.9,291.7 340.3,294.5 341.1,297.3 341.3,298.1 342.2,300.5 342.4,303.1 343.1,306.0 344.0,314.0 344.3,316.4 344.9,321.4 345.5,325.5 345.9,327.9 346.8,338.7 347.4,343.0 347.7,344.2 348.6,349.1 348.6,349.1 348.6,349.1 Z" fill="#a8a8a8" stroke="none" stroke-width="1.0" stroke-linejoin="round"/>
<path d="M318.5,349.1 318.5,349.1 319.5,348.6 320.4,348.2 321.3,347.4 322.2,347.0 323.1,346.3 324.0,345.7 324.8,345.4 325.0,345.1 325.9,345.1 326.8,344.5 327.7,343.4 328.6,343.1 329.5,342.7 330.5,341.6 331.1,341.8 331.4,341.7 332.3,340.9 333.2,339.3 334.1,338.5 335.0,337.2 336.0,336.7 336.1,336.3 336.9,334.6 337.8,330.6 338.6,326.7 338.7,327.4 339.6,322.7 340.5,318.2 341.1,316.3 341.5,315.5 342.4,304.2 343.0,303.9 343.3,301.7 344.2,296.8 344.9,293.9 345.1,293.9 346.0,300.4 346.1,300.6 347.0,307.4 347.4,311.2 347.9,316.1 348.8,323.5 349.3,327.7 349.7,330.1 350.5,337.3 350.6,337.5 351.5,341.7 352.4,345.6 352.5,345.5 353.4,347.2 354.3,349.1 354.3,349.1" fill="none" stroke="#56628a" stroke-width="1.3" stroke-linejoin="round"/>
<path d="M315.4,349.1 315.4,349.1 316.3,348.4 317.3,347.6 318.2,346.5 319.1,345.6 320.0,344.7 320.9,344.1 321.1,344.5 321.9,343.8 322.8,343.3 323.7,342.1 324.6,341.4 325.6,340.8 326.1,341.0 326.5,341.1 327.4,339.7 328.3,339.1 329.3,338.0 330.2,337.1 330.5,337.9 331.1,335.8 332.0,332.3 332.9,329.4 333.0,329.1 333.9,324.7 334.8,320.5 335.5,317.4 335.7,318.6 336.6,312.8 337.6,306.2 338.0,302.1 338.5,299.5 339.4,294.4 339.9,291.7 340.3,294.5 341.1,297.3 341.3,298.1 342.2,300.5 342.4,303.1 343.1,306.0 344.0,314.0 344.3,316.4 344.9,321.4 345.5,325.5 345.9,327.9 346.8,338.7 347.4,343.0 347.7,344.2 348.6,349.1 348.6,349.1 348.6,349.1" fill="none" stroke="#111" stroke-width="1.3" stroke-linejoin="round"/>
<rect x="296.60" y="285.60" width="62.70" height="63.50" fill="none" stroke="#000" stroke-width="1.7" />
<path d="M295.75,349.10 h-2.20 M295.75,345.13 h-1.40 M295.75,341.16 h-1.40 M295.75,337.19 h-1.40 M295.75,333.23 h-2.20 M295.75,329.26 h-1.40 M295.75,325.29 h-1.40 M295.75,321.32 h-1.40 M295.75,317.35 h-2.20 M295.75,313.38 h-1.40 M295.75,309.41 h-1.40 M295.75,305.44 h-1.40 M295.75,301.48 h-2.20 M295.75,297.51 h-1.40 M295.75,293.54 h-1.40 M295.75,289.57 h-1.40 M295.75,285.60 h-2.20 M296.60,349.95 v2.20 M300.52,349.95 v1.40 M304.44,349.95 v1.40 M308.36,349.95 v1.40 M312.28,349.95 v2.20 M316.19,349.95 v1.40 M320.11,349.95 v1.40 M324.03,349.95 v1.40 M327.95,349.95 v2.20 M331.87,349.95 v1.40 M335.79,349.95 v1.40 M339.71,349.95 v1.40 M343.62,349.95 v2.20 M347.54,349.95 v1.40 M351.46,349.95 v1.40 M355.38,349.95 v1.40 M359.30,349.95 v2.20" stroke="#000" stroke-width="0.8" fill="none"/>
<text x="299.10" y="294.98" font-size="6.6" font-weight="normal" text-anchor="start" fill="#3a3a3a" font-style="normal" stroke="#3a3a3a" stroke-width="0.18" >1.00</text>
<text x="299.10" y="303.78" font-size="6.6" font-weight="normal" text-anchor="start" fill="#55679a" font-style="normal" stroke="#55679a" stroke-width="0.18" >1.81</text>
<text x="363.00" y="294.82" font-size="7.0" font-weight="normal" text-anchor="start" fill="#333" font-style="normal" stroke="#333" stroke-width="0.18" >untransfected</text>
<text x="363.00" y="303.52" font-size="7.0" font-weight="normal" text-anchor="start" fill="#55679a" font-style="normal" stroke="#55679a" stroke-width="0.18" >FLAG-TRRAP</text>
<text x="363.00" y="348.45" font-size="6.8" font-weight="bold" text-anchor="start" fill="#111" font-style="normal" stroke="#111" stroke-width="0.12" >Colo320</text>
<path d="M290.3,355.0 H331.1" stroke="#111" stroke-width="0.9" fill="none"/>
<path d="M333.6,355.0 l-4.2,-1.8 v3.6 z" fill="#111"/>
<path d="M290.3,355.0 V313.5" stroke="#111" stroke-width="0.9" fill="none"/>
<path d="M290.3,311.0 l-1.8,4.2 h3.6 z" fill="#111"/>
<text transform="translate(284.7,335.20) rotate(-90)" font-size="7.4" text-anchor="middle" fill="#333" stroke="#333" stroke-width="0.18">norm. count</text>
<text x="310.70" y="367.01" font-size="7.8" font-weight="normal" text-anchor="middle" fill="#333" font-style="normal" stroke="#333" stroke-width="0.18" >p53</text>
<text transform="translate(277.80,385.60) scale(1.18,1)" font-size="12" font-weight="bold" fill="#000">F</text>
<rect x="296.60" y="388.30" width="62.70" height="62.80" fill="#fff" stroke="none" stroke-width="1" />
<line x1="305.70" y1="388.30" x2="305.70" y2="451.10" stroke="#c4c4c4" stroke-width="0.9" />
<line x1="324.50" y1="388.30" x2="324.50" y2="451.10" stroke="#c4c4c4" stroke-width="0.9" />
<line x1="342.50" y1="388.30" x2="342.50" y2="451.10" stroke="#c4c4c4" stroke-width="0.9" />
<g style="isolation:isolate">
<path d="M315.4,451.1 315.4,451.1 316.3,450.4 317.2,449.9 318.1,448.7 319.0,448.1 319.9,446.8 320.8,446.1 321.1,445.9 321.7,445.4 322.6,444.1 323.5,442.8 324.4,442.4 324.8,441.9 325.3,441.5 326.2,440.0 327.1,438.7 328.0,437.5 328.0,437.3 328.9,433.6 329.8,428.0 330.5,425.7 330.7,425.6 331.6,418.0 332.3,414.1 332.5,412.2 333.4,410.2 334.3,407.6 335.2,404.1 335.5,403.4 336.1,401.1 337.0,401.2 337.9,397.8 338.0,397.9 338.8,398.9 339.2,398.2 339.7,397.3 340.6,404.7 341.1,406.8 341.5,410.5 342.4,415.9 343.3,423.9 343.6,425.7 344.2,427.1 345.1,432.9 346.0,438.5 346.1,438.8 346.9,440.8 347.8,443.2 348.6,444.8 348.7,444.7 349.6,448.3 350.5,451.1 350.5,451.1 350.5,451.1 Z" fill="#a8a8a8" stroke="none" stroke-width="1.0" stroke-linejoin="round"/>
<path d="M315.4,451.1 315.4,451.1 316.3,449.9 317.3,448.0 318.2,446.3 319.1,445.0 319.2,445.2 320.0,442.4 320.9,438.0 321.7,435.8 321.9,435.1 322.8,431.5 323.6,427.5 323.7,427.5 324.6,418.6 325.4,413.7 325.6,414.4 326.5,407.7 327.3,401.2 327.4,403.4 328.3,400.9 329.2,399.1 329.2,400.2 330.2,399.0 331.1,398.5 332.0,399.0 332.9,397.7 333.0,400.2 333.9,399.5 334.8,402.2 335.5,401.6 335.7,399.4 336.6,403.5 337.5,405.9 338.0,408.7 338.5,409.2 339.4,414.6 340.3,418.7 341.1,421.5 341.2,420.9 342.1,425.0 343.1,430.1 343.6,431.9 344.0,433.9 344.9,439.3 345.5,441.9 345.8,444.0 346.8,451.1 346.8,451.1 Z" fill="#ee8099" stroke="none" stroke-width="1.0" stroke-linejoin="round" style="mix-blend-mode:multiply"/>
<path d="M316.7,451.1 316.7,451.1 317.6,450.4 318.5,449.7 319.4,448.3 320.3,447.4 321.2,446.5 321.7,446.1 322.1,445.9 323.0,444.1 323.9,442.7 324.8,440.4 325.7,439.2 326.1,438.9 326.6,437.3 327.5,433.5 328.4,430.1 329.2,425.3 329.3,425.8 330.2,421.1 331.1,415.1 331.7,410.3 332.0,410.0 332.9,407.0 333.8,404.0 334.2,402.8 334.7,402.6 335.6,403.2 336.5,399.8 336.7,399.8 337.4,400.7 338.3,402.2 339.2,402.5 339.2,403.5 340.1,404.1 341.0,410.7 341.7,413.8 341.9,412.8 342.8,417.8 343.7,423.3 344.6,427.9 344.9,430.3 345.5,431.2 346.4,435.0 347.3,439.3 348.0,441.6 348.2,442.5 349.1,444.7 350.0,447.1 350.5,448.2 350.9,448.6 351.8,451.1 351.8,451.1 351.8,451.1 Z" fill="#d8dcec" stroke="none" stroke-width="1.0" stroke-linejoin="round" style="mix-blend-mode:multiply"/>
</g>
<path d="M315.4,451.1 315.4,451.1 316.3,449.9 317.3,448.0 318.2,446.3 319.1,445.0 319.2,445.2 320.0,442.4 320.9,438.0 321.7,435.8 321.9,435.1 322.8,431.5 323.6,427.5 323.7,427.5 324.6,418.6 325.4,413.7 325.6,414.4 326.5,407.7 327.3,401.2 327.4,403.4 328.3,400.9 329.2,399.1 329.2,400.2 330.2,399.0 331.1,398.5 332.0,399.0 332.9,397.7 333.0,400.2 333.9,399.5 334.8,402.2 335.5,401.6 335.7,399.4 336.6,403.5 337.5,405.9 338.0,408.7 338.5,409.2 339.4,414.6 340.3,418.7 341.1,421.5 341.2,420.9 342.1,425.0 343.1,430.1 343.6,431.9 344.0,433.9 344.9,439.3 345.5,441.9 345.8,444.0 346.8,451.1 346.8,451.1" fill="none" stroke="#9c0f3c" stroke-width="1.3" stroke-linejoin="round"/>
<path d="M316.7,451.1 316.7,451.1 317.6,450.4 318.5,449.7 319.4,448.3 320.3,447.4 321.2,446.5 321.7,446.1 322.1,445.9 323.0,444.1 323.9,442.7 324.8,440.4 325.7,439.2 326.1,438.9 326.6,437.3 327.5,433.5 328.4,430.1 329.2,425.3 329.3,425.8 330.2,421.1 331.1,415.1 331.7,410.3 332.0,410.0 332.9,407.0 333.8,404.0 334.2,402.8 334.7,402.6 335.6,403.2 336.5,399.8 336.7,399.8 337.4,400.7 338.3,402.2 339.2,402.5 339.2,403.5 340.1,404.1 341.0,410.7 341.7,413.8 341.9,412.8 342.8,417.8 343.7,423.3 344.6,427.9 344.9,430.3 345.5,431.2 346.4,435.0 347.3,439.3 348.0,441.6 348.2,442.5 349.1,444.7 350.0,447.1 350.5,448.2 350.9,448.6 351.8,451.1 351.8,451.1 351.8,451.1" fill="none" stroke="#56628a" stroke-width="1.2" stroke-linejoin="round"/>
<path d="M315.4,451.1 315.4,451.1 316.3,450.4 317.2,449.9 318.1,448.7 319.0,448.1 319.9,446.8 320.8,446.1 321.1,445.9 321.7,445.4 322.6,444.1 323.5,442.8 324.4,442.4 324.8,441.9 325.3,441.5 326.2,440.0 327.1,438.7 328.0,437.5 328.0,437.3 328.9,433.6 329.8,428.0 330.5,425.7 330.7,425.6 331.6,418.0 332.3,414.1 332.5,412.2 333.4,410.2 334.3,407.6 335.2,404.1 335.5,403.4 336.1,401.1 337.0,401.2 337.9,397.8 338.0,397.9 338.8,398.9 339.2,398.2 339.7,397.3 340.6,404.7 341.1,406.8 341.5,410.5 342.4,415.9 343.3,423.9 343.6,425.7 344.2,427.1 345.1,432.9 346.0,438.5 346.1,438.8 346.9,440.8 347.8,443.2 348.6,444.8 348.7,444.7 349.6,448.3 350.5,451.1 350.5,451.1 350.5,451.1" fill="none" stroke="#111" stroke-width="1.3" stroke-linejoin="round"/>
<rect x="296.60" y="388.30" width="62.70" height="62.80" fill="none" stroke="#000" stroke-width="1.7" />
<path d="M295.75,451.10 h-2.20 M295.75,447.18 h-1.40 M295.75,443.25 h-1.40 M295.75,439.33 h-1.40 M295.75,435.40 h-2.20 M295.75,431.48 h-1.40 M295.75,427.55 h-1.40 M295.75,423.62 h-1.40 M295.75,419.70 h-2.20 M295.75,415.78 h-1.40 M295.75,411.85 h-1.40 M295.75,407.93 h-1.40 M295.75,404.00 h-2.20 M295.75,400.08 h-1.40 M295.75,396.15 h-1.40 M295.75,392.23 h-1.40 M295.75,388.30 h-2.20 M296.60,451.95 v2.20 M300.52,451.95 v1.40 M304.44,451.95 v1.40 M308.36,451.95 v1.40 M312.28,451.95 v2.20 M316.19,451.95 v1.40 M320.11,451.95 v1.40 M324.03,451.95 v1.40 M327.95,451.95 v2.20 M331.87,451.95 v1.40 M335.79,451.95 v1.40 M339.71,451.95 v1.40 M343.62,451.95 v2.20 M347.54,451.95 v1.40 M351.46,451.95 v1.40 M355.38,451.95 v1.40 M359.30,451.95 v2.20" stroke="#000" stroke-width="0.8" fill="none"/>
<text x="299.10" y="397.38" font-size="6.6" font-weight="normal" text-anchor="start" fill="#3a3a3a" font-style="normal" stroke="#3a3a3a" stroke-width="0.18" >1.00</text>
<text x="299.10" y="406.68" font-size="6.6" font-weight="normal" text-anchor="start" fill="#b0204a" font-style="normal" stroke="#b0204a" stroke-width="0.18" >0.56</text>
<text x="299.10" y="415.38" font-size="6.6" font-weight="normal" text-anchor="start" fill="#55679a" font-style="normal" stroke="#55679a" stroke-width="0.18" >0.89</text>
<text x="363.00" y="397.41" font-size="6.7" font-weight="normal" text-anchor="start" fill="#333" font-style="normal" stroke="#333" stroke-width="0.18" >shNT</text>
<text x="363.00" y="406.41" font-size="6.7" font-weight="normal" text-anchor="start" fill="#b0204a" font-style="normal" stroke="#b0204a" stroke-width="0.18" >shTRRAP</text>
<text x="363.00" y="415.61" font-size="6.7" font-weight="normal" text-anchor="start" fill="#55679a" font-style="normal" stroke="#55679a" stroke-width="0.18" >shTRRAP + FLAG-TRRAP</text>
<text x="363.00" y="450.45" font-size="6.8" font-weight="bold" text-anchor="start" fill="#111" font-style="normal" stroke="#111" stroke-width="0.12" >Colo320</text>
<path d="M290.3,457.0 H331.8" stroke="#111" stroke-width="0.9" fill="none"/>
<path d="M334.3,457.0 l-4.2,-1.8 v3.6 z" fill="#111"/>
<path d="M290.3,457.0 V416.5" stroke="#111" stroke-width="0.9" fill="none"/>
<path d="M290.3,414.0 l-1.8,4.2 h3.6 z" fill="#111"/>
<text transform="translate(284.7,437.70) rotate(-90)" font-size="7.4" text-anchor="middle" fill="#333" stroke="#333" stroke-width="0.18">norm. count</text>
<text x="310.70" y="469.61" font-size="7.8" font-weight="normal" text-anchor="middle" fill="#333" font-style="normal" stroke="#333" stroke-width="0.18" >p53</text>
<text transform="translate(277.40,487.90) scale(1.18,1)" font-size="12" font-weight="bold" fill="#000">G</text>
<rect x="296.60" y="491.00" width="62.70" height="62.80" fill="#fff" stroke="none" stroke-width="1" />
<line x1="307.90" y1="491.00" x2="307.90" y2="553.80" stroke="#c4c4c4" stroke-width="0.9" />
<line x1="329.50" y1="491.00" x2="329.50" y2="553.80" stroke="#c4c4c4" stroke-width="0.9" />
<line x1="350.40" y1="491.00" x2="350.40" y2="553.80" stroke="#c4c4c4" stroke-width="0.9" />
<path d="M304.1,553.8 304.1,553.8 305.0,553.2 305.9,552.8 306.6,552.6 306.8,552.2 307.7,551.4 308.7,549.8 309.6,548.4 310.4,547.6 310.5,547.5 311.4,546.1 312.3,544.6 313.2,543.1 313.5,542.4 314.1,541.7 315.0,540.6 315.4,539.1 315.9,538.7 316.8,536.8 317.3,534.7 317.7,536.1 318.5,537.3 318.6,536.8 319.5,535.1 319.8,533.9 320.4,534.9 321.3,536.1 321.7,536.0 322.2,536.4 323.1,534.8 324.0,534.6 324.8,534.5 325.0,534.7 325.9,533.6 326.7,532.7 326.8,532.6 327.7,530.5 328.6,527.9 329.2,527.3 329.5,527.7 330.4,525.2 331.1,526.4 331.3,525.4 332.2,525.2 333.0,524.6 333.1,524.9 334.0,523.8 334.9,521.5 335.5,520.9 335.8,521.4 336.7,517.9 337.6,508.5 338.0,507.4 338.5,507.7 339.2,509.8 339.4,509.3 340.4,504.2 340.5,505.1 341.3,500.0 341.7,499.1 342.2,500.5 342.7,495.9 343.1,499.7 344.0,502.1 344.3,501.4 344.9,505.0 345.8,510.8 346.7,514.6 346.8,516.6 347.6,522.0 348.5,527.9 348.6,528.1 349.4,534.6 349.9,536.5 350.3,539.1 351.2,547.3 351.8,550.7 352.1,551.3 353.0,553.8 353.0,553.8 353.0,553.8 Z" fill="#e996a8" stroke="none" stroke-width="1.0" stroke-linejoin="round"/>
<path d="M309.1,553.8 309.1,553.8 310.1,553.6 311.0,553.2 311.9,552.8 312.8,552.3 313.7,551.9 314.6,551.6 315.4,551.4 315.5,551.2 316.5,551.1 317.4,550.5 318.3,550.0 319.2,549.8 320.1,549.0 321.0,548.9 321.1,548.7 321.9,548.5 322.9,547.5 323.8,546.7 324.7,545.8 324.8,545.6 325.6,544.8 326.5,543.6 327.4,542.2 328.0,541.9 328.3,541.3 329.3,539.7 330.2,537.9 331.1,536.0 331.7,534.5 332.0,535.1 332.9,532.4 333.8,530.5 334.7,529.0 335.5,528.5 335.7,528.6 336.6,524.1 337.5,521.6 338.4,519.8 338.6,518.5 339.3,513.6 340.2,509.9 341.1,504.9 341.1,504.4 342.1,501.4 342.7,497.3 343.0,496.5 343.9,501.1 344.3,503.0 344.8,504.8 345.7,511.7 346.6,516.2 346.8,517.0 347.5,519.7 348.5,526.4 349.4,534.6 349.9,536.1 350.3,538.5 351.2,546.8 351.8,550.5 352.1,551.6 353.0,553.8 353.0,553.8 353.0,553.8 Z" fill="#a29aaa" stroke="none" stroke-width="1.0" stroke-linejoin="round"/>
<path d="M312.3,553.8 312.3,553.8 313.2,553.7 314.1,553.4 315.0,553.1 315.9,552.8 316.7,552.5 316.8,552.5 317.7,552.3 318.6,551.8 319.5,551.2 320.4,551.0 321.1,550.7 321.3,550.3 322.2,549.5 323.1,548.9 324.0,548.1 324.8,547.3 325.0,547.3 325.9,546.7 326.8,545.5 327.7,544.1 328.0,543.9 328.6,543.4 329.5,541.8 330.4,539.0 331.3,538.4 331.7,536.5 332.2,536.6 333.1,534.2 334.0,532.1 334.9,530.3 335.5,530.2 335.8,527.9 336.7,524.8 337.6,521.6 338.5,519.1 338.6,518.3 339.4,514.4 340.4,508.1 341.1,506.5 341.3,503.7 342.2,498.2 342.7,499.4 343.1,497.9 344.0,501.2 344.3,502.2 344.9,504.7 345.8,510.7 346.7,516.0 346.8,516.0 347.6,520.3 348.5,528.5 349.4,534.7 349.9,535.9 350.3,539.4 351.2,547.3 351.8,550.7 352.1,551.5 353.0,553.8 353.0,553.8 Z" fill="#8a9452" stroke="none" stroke-width="1.0" stroke-linejoin="round"/>
<path d="M304.1,553.8 304.1,553.8 305.0,553.2 305.9,552.8 306.6,552.6 306.8,552.2 307.7,551.4 308.7,549.8 309.6,548.4 310.4,547.6 310.5,547.5 311.4,546.1 312.3,544.6 313.2,543.1 313.5,542.4 314.1,541.7 315.0,540.6 315.4,539.1 315.9,538.7 316.8,536.8 317.3,534.7 317.7,536.1 318.5,537.3 318.6,536.8 319.5,535.1 319.8,533.9 320.4,534.9 321.3,536.1 321.7,536.0 322.2,536.4 323.1,534.8 324.0,534.6 324.8,534.5 325.0,534.7 325.9,533.6 326.7,532.7 326.8,532.6 327.7,530.5 328.6,527.9 329.2,527.3 329.5,527.7 330.4,525.2 331.1,526.4 331.3,525.4 332.2,525.2 333.0,524.6 333.1,524.9 334.0,523.8 334.9,521.5 335.5,520.9 335.8,521.4 336.7,517.9 337.6,508.5 338.0,507.4 338.5,507.7 339.2,509.8 339.4,509.3 340.4,504.2 340.5,505.1 341.3,500.0 341.7,499.1 342.2,500.5 342.7,495.9 343.1,499.7 344.0,502.1 344.3,501.4 344.9,505.0 345.8,510.8 346.7,514.6 346.8,516.6 347.6,522.0 348.5,527.9 348.6,528.1 349.4,534.6 349.9,536.5 350.3,539.1 351.2,547.3 351.8,550.7 352.1,551.3 353.0,553.8 353.0,553.8 353.0,553.8" fill="none" stroke="#c01838" stroke-width="1.3" stroke-linejoin="round"/>
<path d="M309.1,553.8 309.1,553.8 310.1,553.7 311.0,553.2 311.9,552.9 312.8,552.6 313.7,552.2 314.6,552.0 315.4,552.0 315.5,552.0 316.5,551.7 317.4,551.3 318.3,550.9 319.2,550.4 320.1,550.4 321.0,550.0 321.1,550.3 321.9,549.3 322.9,548.5 323.8,547.4 324.7,547.1 324.8,546.9 325.6,546.5 326.5,544.8 327.4,543.4 328.0,543.8 328.3,542.9 329.3,540.5 330.2,539.1 331.1,537.2 331.7,535.9 332.0,536.9 332.9,535.3 333.8,532.2 334.7,530.2 335.5,528.4 335.7,529.4 336.6,526.1 337.5,522.0 338.4,520.1 338.6,517.8 339.3,516.5 340.2,510.9 341.1,504.6 341.1,503.2 342.1,498.0 342.7,496.7 343.0,498.0 343.9,499.0 344.3,499.9 344.8,502.7 345.7,510.9 346.6,513.9 346.8,516.8 347.5,518.3 348.5,526.7 349.4,533.3 349.9,536.7 350.3,538.1 351.2,547.1 351.8,550.8 352.1,551.3 353.0,553.8 353.0,553.8 353.0,553.8" fill="none" stroke="#111" stroke-width="1.2" stroke-linejoin="round"/>
<path d="M309.1,553.8 309.1,553.8 310.1,553.6 311.0,553.2 311.9,552.8 312.8,552.3 313.7,551.9 314.6,551.6 315.4,551.4 315.5,551.2 316.5,551.1 317.4,550.5 318.3,550.0 319.2,549.8 320.1,549.0 321.0,548.9 321.1,548.7 321.9,548.5 322.9,547.5 323.8,546.7 324.7,545.8 324.8,545.6 325.6,544.8 326.5,543.6 327.4,542.2 328.0,541.9 328.3,541.3 329.3,539.7 330.2,537.9 331.1,536.0 331.7,534.5 332.0,535.1 332.9,532.4 333.8,530.5 334.7,529.0 335.5,528.5 335.7,528.6 336.6,524.1 337.5,521.6 338.4,519.8 338.6,518.5 339.3,513.6 340.2,509.9 341.1,504.9 341.1,504.4 342.1,501.4 342.7,497.3 343.0,496.5 343.9,501.1 344.3,503.0 344.8,504.8 345.7,511.7 346.6,516.2 346.8,517.0 347.5,519.7 348.5,526.4 349.4,534.6 349.9,536.1 350.3,538.5 351.2,546.8 351.8,550.5 352.1,551.6 353.0,553.8 353.0,553.8 353.0,553.8" fill="none" stroke="#2a3060" stroke-width="1.1" stroke-linejoin="round"/>
<path d="M312.3,553.8 312.3,553.8 313.2,553.7 314.1,553.4 315.0,553.1 315.9,552.8 316.7,552.5 316.8,552.5 317.7,552.3 318.6,551.8 319.5,551.2 320.4,551.0 321.1,550.7 321.3,550.3 322.2,549.5 323.1,548.9 324.0,548.1 324.8,547.3 325.0,547.3 325.9,546.7 326.8,545.5 327.7,544.1 328.0,543.9 328.6,543.4 329.5,541.8 330.4,539.0 331.3,538.4 331.7,536.5 332.2,536.6 333.1,534.2 334.0,532.1 334.9,530.3 335.5,530.2 335.8,527.9 336.7,524.8 337.6,521.6 338.5,519.1 338.6,518.3 339.4,514.4 340.4,508.1 341.1,506.5 341.3,503.7 342.2,498.2 342.7,499.4 343.1,497.9 344.0,501.2 344.3,502.2 344.9,504.7 345.8,510.7 346.7,516.0 346.8,516.0 347.6,520.3 348.5,528.5 349.4,534.7 349.9,535.9 350.3,539.4 351.2,547.3 351.8,550.7 352.1,551.5 353.0,553.8 353.0,553.8" fill="none" stroke="#6a7a3a" stroke-width="0.8" stroke-linejoin="round"/>
<rect x="296.60" y="491.00" width="62.70" height="62.80" fill="none" stroke="#000" stroke-width="1.7" />
<path d="M295.75,553.80 h-2.20 M295.75,549.88 h-1.40 M295.75,545.95 h-1.40 M295.75,542.02 h-1.40 M295.75,538.10 h-2.20 M295.75,534.17 h-1.40 M295.75,530.25 h-1.40 M295.75,526.32 h-1.40 M295.75,522.40 h-2.20 M295.75,518.48 h-1.40 M295.75,514.55 h-1.40 M295.75,510.62 h-1.40 M295.75,506.70 h-2.20 M295.75,502.77 h-1.40 M295.75,498.85 h-1.40 M295.75,494.93 h-1.40 M295.75,491.00 h-2.20 M296.60,554.65 v2.20 M300.52,554.65 v1.40 M304.44,554.65 v1.40 M308.36,554.65 v1.40 M312.28,554.65 v2.20 M316.19,554.65 v1.40 M320.11,554.65 v1.40 M324.03,554.65 v1.40 M327.95,554.65 v2.20 M331.87,554.65 v1.40 M335.79,554.65 v1.40 M339.71,554.65 v1.40 M343.62,554.65 v2.20 M347.54,554.65 v1.40 M351.46,554.65 v1.40 M355.38,554.65 v1.40 M359.30,554.65 v2.20" stroke="#000" stroke-width="0.8" fill="none"/>
<text x="299.10" y="499.98" font-size="6.6" font-weight="normal" text-anchor="start" fill="#3a3a3a" font-style="normal" stroke="#3a3a3a" stroke-width="0.18" >1.00</text>
<text x="299.10" y="508.68" font-size="6.6" font-weight="normal" text-anchor="start" fill="#9ab872" font-style="normal" stroke="#9ab872" stroke-width="0.18" >1.20</text>
<text x="299.10" y="517.78" font-size="6.6" font-weight="normal" text-anchor="start" fill="#b0204a" font-style="normal" stroke="#b0204a" stroke-width="0.18" >0.59</text>
<text x="299.10" y="526.58" font-size="6.6" font-weight="normal" text-anchor="start" fill="#55679a" font-style="normal" stroke="#55679a" stroke-width="0.18" >1.03</text>
<text x="363.20" y="499.07" font-size="6.85" font-weight="normal" text-anchor="start" fill="#333" font-style="normal" stroke="#333" stroke-width="0.18" >shNT + DMSO</text>
<text x="363.20" y="508.67" font-size="6.85" font-weight="normal" text-anchor="start" fill="#9ab872" font-style="normal" stroke="#9ab872" stroke-width="0.18" >shNT + Bortezomib</text>
<text x="363.20" y="517.67" font-size="6.85" font-weight="normal" text-anchor="start" fill="#b0204a" font-style="normal" stroke="#b0204a" stroke-width="0.18" >shTRRAP + DMSO</text>
<text x="363.20" y="526.77" font-size="6.85" font-weight="normal" text-anchor="start" fill="#55679a" font-style="normal" stroke="#55679a" stroke-width="0.18" >shTRRAP + Bortezomib</text>
<text x="363.20" y="554.45" font-size="6.8" font-weight="bold" text-anchor="start" fill="#111" font-style="normal" stroke="#111" stroke-width="0.12" >Namalwa</text>
<path d="M290.5,560.6 H331.5" stroke="#111" stroke-width="0.9" fill="none"/>
<path d="M334.0,560.6 l-4.2,-1.8 v3.6 z" fill="#111"/>
<path d="M290.5,560.6 V520.0" stroke="#111" stroke-width="0.9" fill="none"/>
<path d="M290.5,517.5 l-1.8,4.2 h3.6 z" fill="#111"/>
<text transform="translate(284.9,541.25) rotate(-90)" font-size="7.4" text-anchor="middle" fill="#333" stroke="#333" stroke-width="0.18">norm. count</text>
<text x="310.90" y="572.01" font-size="7.8" font-weight="normal" text-anchor="middle" fill="#333" font-style="normal" stroke="#333" stroke-width="0.18" >p53</text>
<rect x="0.00" y="0.00" width="520.00" height="1.30" fill="#000" stroke="none" stroke-width="1" />
<rect x="0.00" y="0.00" width="1.40" height="731.00" fill="#000" stroke="none" stroke-width="1" />
<rect x="518.40" y="0.00" width="1.60" height="731.00" fill="#000" stroke="none" stroke-width="1" />
<rect x="0.00" y="729.00" width="520.00" height="2.00" fill="#000" stroke="none" stroke-width="1" /></svg>
</body></html>
